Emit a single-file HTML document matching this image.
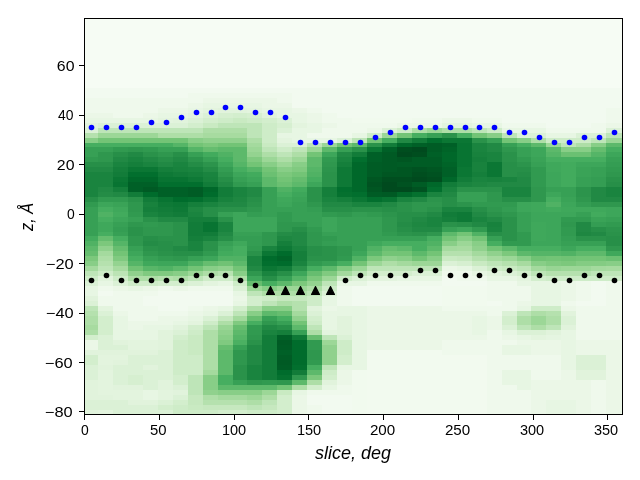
<!DOCTYPE html>
<html><head><meta charset="utf-8"><style>
html,body{margin:0;padding:0;background:#fff;width:640px;height:480px;overflow:hidden}
svg{display:block}
text{font-family:"Liberation Sans",sans-serif;font-size:13.9px;fill:#000}
.ov{position:absolute;left:0;top:0;will-change:transform}
.lab{font-size:18.5px;font-style:italic}
</style></head><body>
<svg width="640" height="480" viewBox="0 0 640 480">
<g shape-rendering="crispEdges"><rect x="84" y="18.5" width="14" height="5.5" fill="#f6fcf4"/>
<rect x="98" y="18.5" width="15" height="5.5" fill="#f6fcf4"/>
<rect x="113" y="18.5" width="15" height="5.5" fill="#f6fcf4"/>
<rect x="128" y="18.5" width="15" height="5.5" fill="#f6fcf4"/>
<rect x="143" y="18.5" width="15" height="5.5" fill="#f6fcf4"/>
<rect x="158" y="18.5" width="15" height="5.5" fill="#f6fcf4"/>
<rect x="173" y="18.5" width="15" height="5.5" fill="#f6fcf4"/>
<rect x="188" y="18.5" width="15" height="5.5" fill="#f6fcf4"/>
<rect x="203" y="18.5" width="15" height="5.5" fill="#f6fcf4"/>
<rect x="218" y="18.5" width="15" height="5.5" fill="#f6fcf4"/>
<rect x="233" y="18.5" width="14" height="5.5" fill="#f6fcf4"/>
<rect x="247" y="18.5" width="15" height="5.5" fill="#f6fcf4"/>
<rect x="262" y="18.5" width="15" height="5.5" fill="#f6fcf4"/>
<rect x="277" y="18.5" width="15" height="5.5" fill="#f6fcf4"/>
<rect x="292" y="18.5" width="15" height="5.5" fill="#f6fcf4"/>
<rect x="307" y="18.5" width="15" height="5.5" fill="#f6fcf4"/>
<rect x="322" y="18.5" width="15" height="5.5" fill="#f6fcf4"/>
<rect x="337" y="18.5" width="15" height="5.5" fill="#f6fcf4"/>
<rect x="352" y="18.5" width="15" height="5.5" fill="#f6fcf4"/>
<rect x="367" y="18.5" width="15" height="5.5" fill="#f6fcf4"/>
<rect x="382" y="18.5" width="15" height="5.5" fill="#f6fcf4"/>
<rect x="397" y="18.5" width="15" height="5.5" fill="#f6fcf4"/>
<rect x="412" y="18.5" width="15" height="5.5" fill="#f6fcf4"/>
<rect x="427" y="18.5" width="15" height="5.5" fill="#f6fcf4"/>
<rect x="442" y="18.5" width="15" height="5.5" fill="#f6fcf4"/>
<rect x="457" y="18.5" width="15" height="5.5" fill="#f6fcf4"/>
<rect x="472" y="18.5" width="15" height="5.5" fill="#f6fcf4"/>
<rect x="487" y="18.5" width="15" height="5.5" fill="#f6fcf4"/>
<rect x="502" y="18.5" width="15" height="5.5" fill="#f6fcf4"/>
<rect x="517" y="18.5" width="14" height="5.5" fill="#f6fcf4"/>
<rect x="531" y="18.5" width="15" height="5.5" fill="#f6fcf4"/>
<rect x="546" y="18.5" width="15" height="5.5" fill="#f6fcf4"/>
<rect x="561" y="18.5" width="15" height="5.5" fill="#f6fcf4"/>
<rect x="576" y="18.5" width="15" height="5.5" fill="#f6fcf4"/>
<rect x="591" y="18.5" width="15" height="5.5" fill="#f6fcf4"/>
<rect x="606" y="18.5" width="16" height="5.5" fill="#f6fcf4"/>
<rect x="84" y="24" width="14" height="5" fill="#f6fcf4"/>
<rect x="98" y="24" width="15" height="5" fill="#f6fcf4"/>
<rect x="113" y="24" width="15" height="5" fill="#f6fcf4"/>
<rect x="128" y="24" width="15" height="5" fill="#f6fcf4"/>
<rect x="143" y="24" width="15" height="5" fill="#f6fcf4"/>
<rect x="158" y="24" width="15" height="5" fill="#f6fcf4"/>
<rect x="173" y="24" width="15" height="5" fill="#f6fcf4"/>
<rect x="188" y="24" width="15" height="5" fill="#f6fcf4"/>
<rect x="203" y="24" width="15" height="5" fill="#f6fcf4"/>
<rect x="218" y="24" width="15" height="5" fill="#f6fcf4"/>
<rect x="233" y="24" width="14" height="5" fill="#f6fcf4"/>
<rect x="247" y="24" width="15" height="5" fill="#f6fcf4"/>
<rect x="262" y="24" width="15" height="5" fill="#f6fcf4"/>
<rect x="277" y="24" width="15" height="5" fill="#f6fcf4"/>
<rect x="292" y="24" width="15" height="5" fill="#f6fcf4"/>
<rect x="307" y="24" width="15" height="5" fill="#f6fcf4"/>
<rect x="322" y="24" width="15" height="5" fill="#f6fcf4"/>
<rect x="337" y="24" width="15" height="5" fill="#f6fcf4"/>
<rect x="352" y="24" width="15" height="5" fill="#f6fcf4"/>
<rect x="367" y="24" width="15" height="5" fill="#f6fcf4"/>
<rect x="382" y="24" width="15" height="5" fill="#f6fcf4"/>
<rect x="397" y="24" width="15" height="5" fill="#f6fcf4"/>
<rect x="412" y="24" width="15" height="5" fill="#f6fcf4"/>
<rect x="427" y="24" width="15" height="5" fill="#f6fcf4"/>
<rect x="442" y="24" width="15" height="5" fill="#f6fcf4"/>
<rect x="457" y="24" width="15" height="5" fill="#f6fcf4"/>
<rect x="472" y="24" width="15" height="5" fill="#f6fcf4"/>
<rect x="487" y="24" width="15" height="5" fill="#f6fcf4"/>
<rect x="502" y="24" width="15" height="5" fill="#f6fcf4"/>
<rect x="517" y="24" width="14" height="5" fill="#f6fcf4"/>
<rect x="531" y="24" width="15" height="5" fill="#f6fcf4"/>
<rect x="546" y="24" width="15" height="5" fill="#f6fcf4"/>
<rect x="561" y="24" width="15" height="5" fill="#f6fcf4"/>
<rect x="576" y="24" width="15" height="5" fill="#f6fcf4"/>
<rect x="591" y="24" width="15" height="5" fill="#f6fcf4"/>
<rect x="606" y="24" width="16" height="5" fill="#f6fcf4"/>
<rect x="84" y="29" width="14" height="5" fill="#f6fcf4"/>
<rect x="98" y="29" width="15" height="5" fill="#f6fcf4"/>
<rect x="113" y="29" width="15" height="5" fill="#f6fcf4"/>
<rect x="128" y="29" width="15" height="5" fill="#f6fcf4"/>
<rect x="143" y="29" width="15" height="5" fill="#f6fcf4"/>
<rect x="158" y="29" width="15" height="5" fill="#f6fcf4"/>
<rect x="173" y="29" width="15" height="5" fill="#f6fcf4"/>
<rect x="188" y="29" width="15" height="5" fill="#f6fcf4"/>
<rect x="203" y="29" width="15" height="5" fill="#f6fcf4"/>
<rect x="218" y="29" width="15" height="5" fill="#f6fcf4"/>
<rect x="233" y="29" width="14" height="5" fill="#f6fcf4"/>
<rect x="247" y="29" width="15" height="5" fill="#f6fcf4"/>
<rect x="262" y="29" width="15" height="5" fill="#f6fcf4"/>
<rect x="277" y="29" width="15" height="5" fill="#f6fcf4"/>
<rect x="292" y="29" width="15" height="5" fill="#f6fcf4"/>
<rect x="307" y="29" width="15" height="5" fill="#f6fcf4"/>
<rect x="322" y="29" width="15" height="5" fill="#f6fcf4"/>
<rect x="337" y="29" width="15" height="5" fill="#f6fcf4"/>
<rect x="352" y="29" width="15" height="5" fill="#f6fcf4"/>
<rect x="367" y="29" width="15" height="5" fill="#f6fcf4"/>
<rect x="382" y="29" width="15" height="5" fill="#f6fcf4"/>
<rect x="397" y="29" width="15" height="5" fill="#f6fcf4"/>
<rect x="412" y="29" width="15" height="5" fill="#f6fcf4"/>
<rect x="427" y="29" width="15" height="5" fill="#f6fcf4"/>
<rect x="442" y="29" width="15" height="5" fill="#f6fcf4"/>
<rect x="457" y="29" width="15" height="5" fill="#f6fcf4"/>
<rect x="472" y="29" width="15" height="5" fill="#f6fcf4"/>
<rect x="487" y="29" width="15" height="5" fill="#f6fcf4"/>
<rect x="502" y="29" width="15" height="5" fill="#f6fcf4"/>
<rect x="517" y="29" width="14" height="5" fill="#f6fcf4"/>
<rect x="531" y="29" width="15" height="5" fill="#f6fcf4"/>
<rect x="546" y="29" width="15" height="5" fill="#f6fcf4"/>
<rect x="561" y="29" width="15" height="5" fill="#f6fcf4"/>
<rect x="576" y="29" width="15" height="5" fill="#f6fcf4"/>
<rect x="591" y="29" width="15" height="5" fill="#f6fcf4"/>
<rect x="606" y="29" width="16" height="5" fill="#f6fcf4"/>
<rect x="84" y="34" width="14" height="5" fill="#f6fcf4"/>
<rect x="98" y="34" width="15" height="5" fill="#f6fcf4"/>
<rect x="113" y="34" width="15" height="5" fill="#f6fcf4"/>
<rect x="128" y="34" width="15" height="5" fill="#f6fcf4"/>
<rect x="143" y="34" width="15" height="5" fill="#f6fcf4"/>
<rect x="158" y="34" width="15" height="5" fill="#f6fcf4"/>
<rect x="173" y="34" width="15" height="5" fill="#f6fcf4"/>
<rect x="188" y="34" width="15" height="5" fill="#f6fcf4"/>
<rect x="203" y="34" width="15" height="5" fill="#f6fcf4"/>
<rect x="218" y="34" width="15" height="5" fill="#f6fcf4"/>
<rect x="233" y="34" width="14" height="5" fill="#f6fcf4"/>
<rect x="247" y="34" width="15" height="5" fill="#f6fcf4"/>
<rect x="262" y="34" width="15" height="5" fill="#f6fcf4"/>
<rect x="277" y="34" width="15" height="5" fill="#f6fcf4"/>
<rect x="292" y="34" width="15" height="5" fill="#f6fcf4"/>
<rect x="307" y="34" width="15" height="5" fill="#f6fcf4"/>
<rect x="322" y="34" width="15" height="5" fill="#f6fcf4"/>
<rect x="337" y="34" width="15" height="5" fill="#f6fcf4"/>
<rect x="352" y="34" width="15" height="5" fill="#f6fcf4"/>
<rect x="367" y="34" width="15" height="5" fill="#f6fcf4"/>
<rect x="382" y="34" width="15" height="5" fill="#f6fcf4"/>
<rect x="397" y="34" width="15" height="5" fill="#f6fcf4"/>
<rect x="412" y="34" width="15" height="5" fill="#f6fcf4"/>
<rect x="427" y="34" width="15" height="5" fill="#f6fcf4"/>
<rect x="442" y="34" width="15" height="5" fill="#f6fcf4"/>
<rect x="457" y="34" width="15" height="5" fill="#f6fcf4"/>
<rect x="472" y="34" width="15" height="5" fill="#f6fcf4"/>
<rect x="487" y="34" width="15" height="5" fill="#f6fcf4"/>
<rect x="502" y="34" width="15" height="5" fill="#f6fcf4"/>
<rect x="517" y="34" width="14" height="5" fill="#f6fcf4"/>
<rect x="531" y="34" width="15" height="5" fill="#f6fcf4"/>
<rect x="546" y="34" width="15" height="5" fill="#f6fcf4"/>
<rect x="561" y="34" width="15" height="5" fill="#f6fcf4"/>
<rect x="576" y="34" width="15" height="5" fill="#f6fcf4"/>
<rect x="591" y="34" width="15" height="5" fill="#f6fcf4"/>
<rect x="606" y="34" width="16" height="5" fill="#f6fcf4"/>
<rect x="84" y="39" width="14" height="5" fill="#f6fcf4"/>
<rect x="98" y="39" width="15" height="5" fill="#f6fcf4"/>
<rect x="113" y="39" width="15" height="5" fill="#f6fcf4"/>
<rect x="128" y="39" width="15" height="5" fill="#f6fcf4"/>
<rect x="143" y="39" width="15" height="5" fill="#f6fcf4"/>
<rect x="158" y="39" width="15" height="5" fill="#f6fcf4"/>
<rect x="173" y="39" width="15" height="5" fill="#f6fcf4"/>
<rect x="188" y="39" width="15" height="5" fill="#f6fcf4"/>
<rect x="203" y="39" width="15" height="5" fill="#f6fcf4"/>
<rect x="218" y="39" width="15" height="5" fill="#f6fcf4"/>
<rect x="233" y="39" width="14" height="5" fill="#f6fcf4"/>
<rect x="247" y="39" width="15" height="5" fill="#f6fcf4"/>
<rect x="262" y="39" width="15" height="5" fill="#f6fcf4"/>
<rect x="277" y="39" width="15" height="5" fill="#f6fcf4"/>
<rect x="292" y="39" width="15" height="5" fill="#f6fcf4"/>
<rect x="307" y="39" width="15" height="5" fill="#f6fcf4"/>
<rect x="322" y="39" width="15" height="5" fill="#f6fcf4"/>
<rect x="337" y="39" width="15" height="5" fill="#f6fcf4"/>
<rect x="352" y="39" width="15" height="5" fill="#f6fcf4"/>
<rect x="367" y="39" width="15" height="5" fill="#f6fcf4"/>
<rect x="382" y="39" width="15" height="5" fill="#f6fcf4"/>
<rect x="397" y="39" width="15" height="5" fill="#f6fcf4"/>
<rect x="412" y="39" width="15" height="5" fill="#f6fcf4"/>
<rect x="427" y="39" width="15" height="5" fill="#f6fcf4"/>
<rect x="442" y="39" width="15" height="5" fill="#f6fcf4"/>
<rect x="457" y="39" width="15" height="5" fill="#f6fcf4"/>
<rect x="472" y="39" width="15" height="5" fill="#f6fcf4"/>
<rect x="487" y="39" width="15" height="5" fill="#f6fcf4"/>
<rect x="502" y="39" width="15" height="5" fill="#f6fcf4"/>
<rect x="517" y="39" width="14" height="5" fill="#f6fcf4"/>
<rect x="531" y="39" width="15" height="5" fill="#f6fcf4"/>
<rect x="546" y="39" width="15" height="5" fill="#f6fcf4"/>
<rect x="561" y="39" width="15" height="5" fill="#f6fcf4"/>
<rect x="576" y="39" width="15" height="5" fill="#f6fcf4"/>
<rect x="591" y="39" width="15" height="5" fill="#f6fcf4"/>
<rect x="606" y="39" width="16" height="5" fill="#f6fcf4"/>
<rect x="84" y="44" width="14" height="5" fill="#f6fcf4"/>
<rect x="98" y="44" width="15" height="5" fill="#f6fcf4"/>
<rect x="113" y="44" width="15" height="5" fill="#f6fcf4"/>
<rect x="128" y="44" width="15" height="5" fill="#f6fcf4"/>
<rect x="143" y="44" width="15" height="5" fill="#f6fcf4"/>
<rect x="158" y="44" width="15" height="5" fill="#f6fcf4"/>
<rect x="173" y="44" width="15" height="5" fill="#f6fcf4"/>
<rect x="188" y="44" width="15" height="5" fill="#f6fcf4"/>
<rect x="203" y="44" width="15" height="5" fill="#f6fcf4"/>
<rect x="218" y="44" width="15" height="5" fill="#f6fcf4"/>
<rect x="233" y="44" width="14" height="5" fill="#f6fcf4"/>
<rect x="247" y="44" width="15" height="5" fill="#f6fcf4"/>
<rect x="262" y="44" width="15" height="5" fill="#f6fcf4"/>
<rect x="277" y="44" width="15" height="5" fill="#f6fcf4"/>
<rect x="292" y="44" width="15" height="5" fill="#f6fcf4"/>
<rect x="307" y="44" width="15" height="5" fill="#f6fcf4"/>
<rect x="322" y="44" width="15" height="5" fill="#f6fcf4"/>
<rect x="337" y="44" width="15" height="5" fill="#f6fcf4"/>
<rect x="352" y="44" width="15" height="5" fill="#f6fcf4"/>
<rect x="367" y="44" width="15" height="5" fill="#f6fcf4"/>
<rect x="382" y="44" width="15" height="5" fill="#f6fcf4"/>
<rect x="397" y="44" width="15" height="5" fill="#f6fcf4"/>
<rect x="412" y="44" width="15" height="5" fill="#f6fcf4"/>
<rect x="427" y="44" width="15" height="5" fill="#f6fcf4"/>
<rect x="442" y="44" width="15" height="5" fill="#f6fcf4"/>
<rect x="457" y="44" width="15" height="5" fill="#f6fcf4"/>
<rect x="472" y="44" width="15" height="5" fill="#f6fcf4"/>
<rect x="487" y="44" width="15" height="5" fill="#f6fcf4"/>
<rect x="502" y="44" width="15" height="5" fill="#f6fcf4"/>
<rect x="517" y="44" width="14" height="5" fill="#f6fcf4"/>
<rect x="531" y="44" width="15" height="5" fill="#f6fcf4"/>
<rect x="546" y="44" width="15" height="5" fill="#f6fcf4"/>
<rect x="561" y="44" width="15" height="5" fill="#f6fcf4"/>
<rect x="576" y="44" width="15" height="5" fill="#f6fcf4"/>
<rect x="591" y="44" width="15" height="5" fill="#f6fcf4"/>
<rect x="606" y="44" width="16" height="5" fill="#f6fcf4"/>
<rect x="84" y="49" width="14" height="5" fill="#f6fcf4"/>
<rect x="98" y="49" width="15" height="5" fill="#f6fcf4"/>
<rect x="113" y="49" width="15" height="5" fill="#f6fcf4"/>
<rect x="128" y="49" width="15" height="5" fill="#f6fcf4"/>
<rect x="143" y="49" width="15" height="5" fill="#f6fcf4"/>
<rect x="158" y="49" width="15" height="5" fill="#f6fcf4"/>
<rect x="173" y="49" width="15" height="5" fill="#f6fcf4"/>
<rect x="188" y="49" width="15" height="5" fill="#f6fcf4"/>
<rect x="203" y="49" width="15" height="5" fill="#f6fcf4"/>
<rect x="218" y="49" width="15" height="5" fill="#f6fcf4"/>
<rect x="233" y="49" width="14" height="5" fill="#f6fcf4"/>
<rect x="247" y="49" width="15" height="5" fill="#f6fcf4"/>
<rect x="262" y="49" width="15" height="5" fill="#f6fcf4"/>
<rect x="277" y="49" width="15" height="5" fill="#f6fcf4"/>
<rect x="292" y="49" width="15" height="5" fill="#f6fcf4"/>
<rect x="307" y="49" width="15" height="5" fill="#f6fcf4"/>
<rect x="322" y="49" width="15" height="5" fill="#f6fcf4"/>
<rect x="337" y="49" width="15" height="5" fill="#f6fcf4"/>
<rect x="352" y="49" width="15" height="5" fill="#f6fcf4"/>
<rect x="367" y="49" width="15" height="5" fill="#f6fcf4"/>
<rect x="382" y="49" width="15" height="5" fill="#f6fcf4"/>
<rect x="397" y="49" width="15" height="5" fill="#f6fcf4"/>
<rect x="412" y="49" width="15" height="5" fill="#f6fcf4"/>
<rect x="427" y="49" width="15" height="5" fill="#f6fcf4"/>
<rect x="442" y="49" width="15" height="5" fill="#f6fcf4"/>
<rect x="457" y="49" width="15" height="5" fill="#f6fcf4"/>
<rect x="472" y="49" width="15" height="5" fill="#f6fcf4"/>
<rect x="487" y="49" width="15" height="5" fill="#f6fcf4"/>
<rect x="502" y="49" width="15" height="5" fill="#f6fcf4"/>
<rect x="517" y="49" width="14" height="5" fill="#f6fcf4"/>
<rect x="531" y="49" width="15" height="5" fill="#f6fcf4"/>
<rect x="546" y="49" width="15" height="5" fill="#f6fcf4"/>
<rect x="561" y="49" width="15" height="5" fill="#f6fcf4"/>
<rect x="576" y="49" width="15" height="5" fill="#f6fcf4"/>
<rect x="591" y="49" width="15" height="5" fill="#f6fcf4"/>
<rect x="606" y="49" width="16" height="5" fill="#f6fcf4"/>
<rect x="84" y="54" width="14" height="4" fill="#f6fcf4"/>
<rect x="98" y="54" width="15" height="4" fill="#f6fcf4"/>
<rect x="113" y="54" width="15" height="4" fill="#f6fcf4"/>
<rect x="128" y="54" width="15" height="4" fill="#f6fcf4"/>
<rect x="143" y="54" width="15" height="4" fill="#f6fcf4"/>
<rect x="158" y="54" width="15" height="4" fill="#f6fcf4"/>
<rect x="173" y="54" width="15" height="4" fill="#f6fcf4"/>
<rect x="188" y="54" width="15" height="4" fill="#f6fcf4"/>
<rect x="203" y="54" width="15" height="4" fill="#f6fcf4"/>
<rect x="218" y="54" width="15" height="4" fill="#f6fcf4"/>
<rect x="233" y="54" width="14" height="4" fill="#f6fcf4"/>
<rect x="247" y="54" width="15" height="4" fill="#f6fcf4"/>
<rect x="262" y="54" width="15" height="4" fill="#f6fcf4"/>
<rect x="277" y="54" width="15" height="4" fill="#f6fcf4"/>
<rect x="292" y="54" width="15" height="4" fill="#f6fcf4"/>
<rect x="307" y="54" width="15" height="4" fill="#f6fcf4"/>
<rect x="322" y="54" width="15" height="4" fill="#f6fcf4"/>
<rect x="337" y="54" width="15" height="4" fill="#f6fcf4"/>
<rect x="352" y="54" width="15" height="4" fill="#f6fcf4"/>
<rect x="367" y="54" width="15" height="4" fill="#f6fcf4"/>
<rect x="382" y="54" width="15" height="4" fill="#f6fcf4"/>
<rect x="397" y="54" width="15" height="4" fill="#f6fcf4"/>
<rect x="412" y="54" width="15" height="4" fill="#f6fcf4"/>
<rect x="427" y="54" width="15" height="4" fill="#f6fcf4"/>
<rect x="442" y="54" width="15" height="4" fill="#f6fcf4"/>
<rect x="457" y="54" width="15" height="4" fill="#f6fcf4"/>
<rect x="472" y="54" width="15" height="4" fill="#f6fcf4"/>
<rect x="487" y="54" width="15" height="4" fill="#f6fcf4"/>
<rect x="502" y="54" width="15" height="4" fill="#f6fcf4"/>
<rect x="517" y="54" width="14" height="4" fill="#f6fcf4"/>
<rect x="531" y="54" width="15" height="4" fill="#f6fcf4"/>
<rect x="546" y="54" width="15" height="4" fill="#f6fcf4"/>
<rect x="561" y="54" width="15" height="4" fill="#f6fcf4"/>
<rect x="576" y="54" width="15" height="4" fill="#f6fcf4"/>
<rect x="591" y="54" width="15" height="4" fill="#f6fcf4"/>
<rect x="606" y="54" width="16" height="4" fill="#f6fcf4"/>
<rect x="84" y="58" width="14" height="5" fill="#f6fcf4"/>
<rect x="98" y="58" width="15" height="5" fill="#f6fcf4"/>
<rect x="113" y="58" width="15" height="5" fill="#f6fcf4"/>
<rect x="128" y="58" width="15" height="5" fill="#f6fcf4"/>
<rect x="143" y="58" width="15" height="5" fill="#f6fcf4"/>
<rect x="158" y="58" width="15" height="5" fill="#f6fcf4"/>
<rect x="173" y="58" width="15" height="5" fill="#f6fcf4"/>
<rect x="188" y="58" width="15" height="5" fill="#f6fcf4"/>
<rect x="203" y="58" width="15" height="5" fill="#f6fcf4"/>
<rect x="218" y="58" width="15" height="5" fill="#f6fcf4"/>
<rect x="233" y="58" width="14" height="5" fill="#f6fcf4"/>
<rect x="247" y="58" width="15" height="5" fill="#f6fcf4"/>
<rect x="262" y="58" width="15" height="5" fill="#f6fcf4"/>
<rect x="277" y="58" width="15" height="5" fill="#f6fcf4"/>
<rect x="292" y="58" width="15" height="5" fill="#f6fcf4"/>
<rect x="307" y="58" width="15" height="5" fill="#f6fcf4"/>
<rect x="322" y="58" width="15" height="5" fill="#f6fcf4"/>
<rect x="337" y="58" width="15" height="5" fill="#f6fcf4"/>
<rect x="352" y="58" width="15" height="5" fill="#f6fcf4"/>
<rect x="367" y="58" width="15" height="5" fill="#f6fcf4"/>
<rect x="382" y="58" width="15" height="5" fill="#f6fcf4"/>
<rect x="397" y="58" width="15" height="5" fill="#f6fcf4"/>
<rect x="412" y="58" width="15" height="5" fill="#f6fcf4"/>
<rect x="427" y="58" width="15" height="5" fill="#f6fcf4"/>
<rect x="442" y="58" width="15" height="5" fill="#f6fcf4"/>
<rect x="457" y="58" width="15" height="5" fill="#f6fcf4"/>
<rect x="472" y="58" width="15" height="5" fill="#f6fcf4"/>
<rect x="487" y="58" width="15" height="5" fill="#f6fcf4"/>
<rect x="502" y="58" width="15" height="5" fill="#f6fcf4"/>
<rect x="517" y="58" width="14" height="5" fill="#f6fcf4"/>
<rect x="531" y="58" width="15" height="5" fill="#f6fcf4"/>
<rect x="546" y="58" width="15" height="5" fill="#f6fcf4"/>
<rect x="561" y="58" width="15" height="5" fill="#f6fcf4"/>
<rect x="576" y="58" width="15" height="5" fill="#f6fcf4"/>
<rect x="591" y="58" width="15" height="5" fill="#f6fcf4"/>
<rect x="606" y="58" width="16" height="5" fill="#f6fcf4"/>
<rect x="84" y="63" width="14" height="5" fill="#f6fcf4"/>
<rect x="98" y="63" width="15" height="5" fill="#f6fcf4"/>
<rect x="113" y="63" width="15" height="5" fill="#f6fcf4"/>
<rect x="128" y="63" width="15" height="5" fill="#f6fcf4"/>
<rect x="143" y="63" width="15" height="5" fill="#f6fcf4"/>
<rect x="158" y="63" width="15" height="5" fill="#f6fcf4"/>
<rect x="173" y="63" width="15" height="5" fill="#f6fcf4"/>
<rect x="188" y="63" width="15" height="5" fill="#f6fcf4"/>
<rect x="203" y="63" width="15" height="5" fill="#f6fcf4"/>
<rect x="218" y="63" width="15" height="5" fill="#f6fcf4"/>
<rect x="233" y="63" width="14" height="5" fill="#f6fcf4"/>
<rect x="247" y="63" width="15" height="5" fill="#f6fcf4"/>
<rect x="262" y="63" width="15" height="5" fill="#f6fcf4"/>
<rect x="277" y="63" width="15" height="5" fill="#f6fcf4"/>
<rect x="292" y="63" width="15" height="5" fill="#f6fcf4"/>
<rect x="307" y="63" width="15" height="5" fill="#f6fcf4"/>
<rect x="322" y="63" width="15" height="5" fill="#f6fcf4"/>
<rect x="337" y="63" width="15" height="5" fill="#f6fcf4"/>
<rect x="352" y="63" width="15" height="5" fill="#f6fcf4"/>
<rect x="367" y="63" width="15" height="5" fill="#f6fcf4"/>
<rect x="382" y="63" width="15" height="5" fill="#f6fcf4"/>
<rect x="397" y="63" width="15" height="5" fill="#f6fcf4"/>
<rect x="412" y="63" width="15" height="5" fill="#f6fcf4"/>
<rect x="427" y="63" width="15" height="5" fill="#f6fcf4"/>
<rect x="442" y="63" width="15" height="5" fill="#f6fcf4"/>
<rect x="457" y="63" width="15" height="5" fill="#f6fcf4"/>
<rect x="472" y="63" width="15" height="5" fill="#f6fcf4"/>
<rect x="487" y="63" width="15" height="5" fill="#f6fcf4"/>
<rect x="502" y="63" width="15" height="5" fill="#f6fcf4"/>
<rect x="517" y="63" width="14" height="5" fill="#f6fcf4"/>
<rect x="531" y="63" width="15" height="5" fill="#f6fcf4"/>
<rect x="546" y="63" width="15" height="5" fill="#f6fcf4"/>
<rect x="561" y="63" width="15" height="5" fill="#f6fcf4"/>
<rect x="576" y="63" width="15" height="5" fill="#f6fcf4"/>
<rect x="591" y="63" width="15" height="5" fill="#f6fcf4"/>
<rect x="606" y="63" width="16" height="5" fill="#f6fcf4"/>
<rect x="84" y="68" width="14" height="5" fill="#f6fcf4"/>
<rect x="98" y="68" width="15" height="5" fill="#f6fcf4"/>
<rect x="113" y="68" width="15" height="5" fill="#f6fcf4"/>
<rect x="128" y="68" width="15" height="5" fill="#f6fcf4"/>
<rect x="143" y="68" width="15" height="5" fill="#f6fcf4"/>
<rect x="158" y="68" width="15" height="5" fill="#f6fcf4"/>
<rect x="173" y="68" width="15" height="5" fill="#f6fcf4"/>
<rect x="188" y="68" width="15" height="5" fill="#f6fcf4"/>
<rect x="203" y="68" width="15" height="5" fill="#f6fcf4"/>
<rect x="218" y="68" width="15" height="5" fill="#f6fcf4"/>
<rect x="233" y="68" width="14" height="5" fill="#f6fcf4"/>
<rect x="247" y="68" width="15" height="5" fill="#f6fcf4"/>
<rect x="262" y="68" width="15" height="5" fill="#f6fcf4"/>
<rect x="277" y="68" width="15" height="5" fill="#f6fcf4"/>
<rect x="292" y="68" width="15" height="5" fill="#f6fcf4"/>
<rect x="307" y="68" width="15" height="5" fill="#f6fcf4"/>
<rect x="322" y="68" width="15" height="5" fill="#f6fcf4"/>
<rect x="337" y="68" width="15" height="5" fill="#f6fcf4"/>
<rect x="352" y="68" width="15" height="5" fill="#f6fcf4"/>
<rect x="367" y="68" width="15" height="5" fill="#f6fcf4"/>
<rect x="382" y="68" width="15" height="5" fill="#f6fcf4"/>
<rect x="397" y="68" width="15" height="5" fill="#f6fcf4"/>
<rect x="412" y="68" width="15" height="5" fill="#f6fcf4"/>
<rect x="427" y="68" width="15" height="5" fill="#f6fcf4"/>
<rect x="442" y="68" width="15" height="5" fill="#f6fcf4"/>
<rect x="457" y="68" width="15" height="5" fill="#f6fcf4"/>
<rect x="472" y="68" width="15" height="5" fill="#f6fcf4"/>
<rect x="487" y="68" width="15" height="5" fill="#f6fcf4"/>
<rect x="502" y="68" width="15" height="5" fill="#f6fcf4"/>
<rect x="517" y="68" width="14" height="5" fill="#f6fcf4"/>
<rect x="531" y="68" width="15" height="5" fill="#f6fcf4"/>
<rect x="546" y="68" width="15" height="5" fill="#f6fcf4"/>
<rect x="561" y="68" width="15" height="5" fill="#f6fcf4"/>
<rect x="576" y="68" width="15" height="5" fill="#f6fcf4"/>
<rect x="591" y="68" width="15" height="5" fill="#f6fcf4"/>
<rect x="606" y="68" width="16" height="5" fill="#f6fcf4"/>
<rect x="84" y="73" width="14" height="5" fill="#f6fcf4"/>
<rect x="98" y="73" width="15" height="5" fill="#f6fcf4"/>
<rect x="113" y="73" width="15" height="5" fill="#f6fcf4"/>
<rect x="128" y="73" width="15" height="5" fill="#f6fcf4"/>
<rect x="143" y="73" width="15" height="5" fill="#f6fcf4"/>
<rect x="158" y="73" width="15" height="5" fill="#f6fcf4"/>
<rect x="173" y="73" width="15" height="5" fill="#f6fcf4"/>
<rect x="188" y="73" width="15" height="5" fill="#f6fcf4"/>
<rect x="203" y="73" width="15" height="5" fill="#f6fcf4"/>
<rect x="218" y="73" width="15" height="5" fill="#f6fcf4"/>
<rect x="233" y="73" width="14" height="5" fill="#f6fcf4"/>
<rect x="247" y="73" width="15" height="5" fill="#f6fcf4"/>
<rect x="262" y="73" width="15" height="5" fill="#f6fcf4"/>
<rect x="277" y="73" width="15" height="5" fill="#f6fcf4"/>
<rect x="292" y="73" width="15" height="5" fill="#f6fcf4"/>
<rect x="307" y="73" width="15" height="5" fill="#f6fcf4"/>
<rect x="322" y="73" width="15" height="5" fill="#f6fcf4"/>
<rect x="337" y="73" width="15" height="5" fill="#f6fcf4"/>
<rect x="352" y="73" width="15" height="5" fill="#f6fcf4"/>
<rect x="367" y="73" width="15" height="5" fill="#f6fcf4"/>
<rect x="382" y="73" width="15" height="5" fill="#f6fcf4"/>
<rect x="397" y="73" width="15" height="5" fill="#f6fcf4"/>
<rect x="412" y="73" width="15" height="5" fill="#f6fcf4"/>
<rect x="427" y="73" width="15" height="5" fill="#f6fcf4"/>
<rect x="442" y="73" width="15" height="5" fill="#f6fcf4"/>
<rect x="457" y="73" width="15" height="5" fill="#f6fcf4"/>
<rect x="472" y="73" width="15" height="5" fill="#f6fcf4"/>
<rect x="487" y="73" width="15" height="5" fill="#f6fcf4"/>
<rect x="502" y="73" width="15" height="5" fill="#f6fcf4"/>
<rect x="517" y="73" width="14" height="5" fill="#f6fcf4"/>
<rect x="531" y="73" width="15" height="5" fill="#f6fcf4"/>
<rect x="546" y="73" width="15" height="5" fill="#f6fcf4"/>
<rect x="561" y="73" width="15" height="5" fill="#f6fcf4"/>
<rect x="576" y="73" width="15" height="5" fill="#f6fcf4"/>
<rect x="591" y="73" width="15" height="5" fill="#f6fcf4"/>
<rect x="606" y="73" width="16" height="5" fill="#f6fcf4"/>
<rect x="84" y="78" width="14" height="5" fill="#f6fcf4"/>
<rect x="98" y="78" width="15" height="5" fill="#f6fcf4"/>
<rect x="113" y="78" width="15" height="5" fill="#f6fcf4"/>
<rect x="128" y="78" width="15" height="5" fill="#f6fcf4"/>
<rect x="143" y="78" width="15" height="5" fill="#f6fcf4"/>
<rect x="158" y="78" width="15" height="5" fill="#f6fcf4"/>
<rect x="173" y="78" width="15" height="5" fill="#f6fcf4"/>
<rect x="188" y="78" width="15" height="5" fill="#f6fcf4"/>
<rect x="203" y="78" width="15" height="5" fill="#f6fcf4"/>
<rect x="218" y="78" width="15" height="5" fill="#f6fcf4"/>
<rect x="233" y="78" width="14" height="5" fill="#f6fcf4"/>
<rect x="247" y="78" width="15" height="5" fill="#f6fcf4"/>
<rect x="262" y="78" width="15" height="5" fill="#f6fcf4"/>
<rect x="277" y="78" width="15" height="5" fill="#f6fcf4"/>
<rect x="292" y="78" width="15" height="5" fill="#f6fcf4"/>
<rect x="307" y="78" width="15" height="5" fill="#f6fcf4"/>
<rect x="322" y="78" width="15" height="5" fill="#f6fcf4"/>
<rect x="337" y="78" width="15" height="5" fill="#f6fcf4"/>
<rect x="352" y="78" width="15" height="5" fill="#f6fcf4"/>
<rect x="367" y="78" width="15" height="5" fill="#f6fcf4"/>
<rect x="382" y="78" width="15" height="5" fill="#f6fcf4"/>
<rect x="397" y="78" width="15" height="5" fill="#f6fcf4"/>
<rect x="412" y="78" width="15" height="5" fill="#f6fcf4"/>
<rect x="427" y="78" width="15" height="5" fill="#f6fcf4"/>
<rect x="442" y="78" width="15" height="5" fill="#f6fcf4"/>
<rect x="457" y="78" width="15" height="5" fill="#f6fcf4"/>
<rect x="472" y="78" width="15" height="5" fill="#f6fcf4"/>
<rect x="487" y="78" width="15" height="5" fill="#f6fcf4"/>
<rect x="502" y="78" width="15" height="5" fill="#f6fcf4"/>
<rect x="517" y="78" width="14" height="5" fill="#f6fcf4"/>
<rect x="531" y="78" width="15" height="5" fill="#f6fcf4"/>
<rect x="546" y="78" width="15" height="5" fill="#f6fcf4"/>
<rect x="561" y="78" width="15" height="5" fill="#f6fcf4"/>
<rect x="576" y="78" width="15" height="5" fill="#f6fcf4"/>
<rect x="591" y="78" width="15" height="5" fill="#f6fcf4"/>
<rect x="606" y="78" width="16" height="5" fill="#f6fcf4"/>
<rect x="84" y="83" width="14" height="5" fill="#f6fcf4"/>
<rect x="98" y="83" width="15" height="5" fill="#f6fcf4"/>
<rect x="113" y="83" width="15" height="5" fill="#f6fcf4"/>
<rect x="128" y="83" width="15" height="5" fill="#f6fcf4"/>
<rect x="143" y="83" width="15" height="5" fill="#f6fcf4"/>
<rect x="158" y="83" width="15" height="5" fill="#f6fcf4"/>
<rect x="173" y="83" width="15" height="5" fill="#f6fcf4"/>
<rect x="188" y="83" width="15" height="5" fill="#f6fcf4"/>
<rect x="203" y="83" width="15" height="5" fill="#f6fcf4"/>
<rect x="218" y="83" width="15" height="5" fill="#f6fcf4"/>
<rect x="233" y="83" width="14" height="5" fill="#f6fcf4"/>
<rect x="247" y="83" width="15" height="5" fill="#f6fcf4"/>
<rect x="262" y="83" width="15" height="5" fill="#f6fcf4"/>
<rect x="277" y="83" width="15" height="5" fill="#f6fcf4"/>
<rect x="292" y="83" width="15" height="5" fill="#f6fcf4"/>
<rect x="307" y="83" width="15" height="5" fill="#f6fcf4"/>
<rect x="322" y="83" width="15" height="5" fill="#f6fcf4"/>
<rect x="337" y="83" width="15" height="5" fill="#f6fcf4"/>
<rect x="352" y="83" width="15" height="5" fill="#f6fcf4"/>
<rect x="367" y="83" width="15" height="5" fill="#f6fcf4"/>
<rect x="382" y="83" width="15" height="5" fill="#f6fcf4"/>
<rect x="397" y="83" width="15" height="5" fill="#f6fcf4"/>
<rect x="412" y="83" width="15" height="5" fill="#f6fcf4"/>
<rect x="427" y="83" width="15" height="5" fill="#f6fcf4"/>
<rect x="442" y="83" width="15" height="5" fill="#f6fcf4"/>
<rect x="457" y="83" width="15" height="5" fill="#f6fcf4"/>
<rect x="472" y="83" width="15" height="5" fill="#f6fcf4"/>
<rect x="487" y="83" width="15" height="5" fill="#f6fcf4"/>
<rect x="502" y="83" width="15" height="5" fill="#f6fcf4"/>
<rect x="517" y="83" width="14" height="5" fill="#f6fcf4"/>
<rect x="531" y="83" width="15" height="5" fill="#f6fcf4"/>
<rect x="546" y="83" width="15" height="5" fill="#f6fcf4"/>
<rect x="561" y="83" width="15" height="5" fill="#f6fcf4"/>
<rect x="576" y="83" width="15" height="5" fill="#f6fcf4"/>
<rect x="591" y="83" width="15" height="5" fill="#f6fcf4"/>
<rect x="606" y="83" width="16" height="5" fill="#f6fcf4"/>
<rect x="84" y="88" width="14" height="5" fill="#f2faf0"/>
<rect x="98" y="88" width="15" height="5" fill="#f2faf0"/>
<rect x="113" y="88" width="15" height="5" fill="#f2faf0"/>
<rect x="128" y="88" width="15" height="5" fill="#f2faf0"/>
<rect x="143" y="88" width="15" height="5" fill="#f2faf0"/>
<rect x="158" y="88" width="15" height="5" fill="#f2faf0"/>
<rect x="173" y="88" width="15" height="5" fill="#f2faf0"/>
<rect x="188" y="88" width="15" height="5" fill="#f2faf0"/>
<rect x="203" y="88" width="15" height="5" fill="#f2faf0"/>
<rect x="218" y="88" width="15" height="5" fill="#f2faf0"/>
<rect x="233" y="88" width="14" height="5" fill="#f2faf0"/>
<rect x="247" y="88" width="15" height="5" fill="#f2faf0"/>
<rect x="262" y="88" width="15" height="5" fill="#f2faf0"/>
<rect x="277" y="88" width="15" height="5" fill="#f2faf0"/>
<rect x="292" y="88" width="15" height="5" fill="#f2faf0"/>
<rect x="307" y="88" width="15" height="5" fill="#f2faf0"/>
<rect x="322" y="88" width="15" height="5" fill="#f2faf0"/>
<rect x="337" y="88" width="15" height="5" fill="#f2faf0"/>
<rect x="352" y="88" width="15" height="5" fill="#f2faf0"/>
<rect x="367" y="88" width="15" height="5" fill="#f2faf0"/>
<rect x="382" y="88" width="15" height="5" fill="#f2faf0"/>
<rect x="397" y="88" width="15" height="5" fill="#f2faf0"/>
<rect x="412" y="88" width="15" height="5" fill="#f2faf0"/>
<rect x="427" y="88" width="15" height="5" fill="#f2faf0"/>
<rect x="442" y="88" width="15" height="5" fill="#f2faf0"/>
<rect x="457" y="88" width="15" height="5" fill="#f2faf0"/>
<rect x="472" y="88" width="15" height="5" fill="#f2faf0"/>
<rect x="487" y="88" width="15" height="5" fill="#f2faf0"/>
<rect x="502" y="88" width="15" height="5" fill="#f2faf0"/>
<rect x="517" y="88" width="14" height="5" fill="#f2faf0"/>
<rect x="531" y="88" width="15" height="5" fill="#f2faf0"/>
<rect x="546" y="88" width="15" height="5" fill="#f2faf0"/>
<rect x="561" y="88" width="15" height="5" fill="#f2faf0"/>
<rect x="576" y="88" width="15" height="5" fill="#f2faf0"/>
<rect x="591" y="88" width="15" height="5" fill="#f2faf0"/>
<rect x="606" y="88" width="16" height="5" fill="#f2faf0"/>
<rect x="84" y="93" width="14" height="5" fill="#f2faf0"/>
<rect x="98" y="93" width="15" height="5" fill="#f2faf0"/>
<rect x="113" y="93" width="15" height="5" fill="#f2faf0"/>
<rect x="128" y="93" width="15" height="5" fill="#f2faf0"/>
<rect x="143" y="93" width="15" height="5" fill="#f2faf0"/>
<rect x="158" y="93" width="15" height="5" fill="#f2faf0"/>
<rect x="173" y="93" width="15" height="5" fill="#f2faf0"/>
<rect x="188" y="93" width="15" height="5" fill="#eff9ec"/>
<rect x="203" y="93" width="15" height="5" fill="#eff9ec"/>
<rect x="218" y="93" width="15" height="5" fill="#eff9ec"/>
<rect x="233" y="93" width="14" height="5" fill="#eff9ec"/>
<rect x="247" y="93" width="15" height="5" fill="#eff9ec"/>
<rect x="262" y="93" width="15" height="5" fill="#eff9ec"/>
<rect x="277" y="93" width="15" height="5" fill="#eff9ec"/>
<rect x="292" y="93" width="15" height="5" fill="#f2faf0"/>
<rect x="307" y="93" width="15" height="5" fill="#f2faf0"/>
<rect x="322" y="93" width="15" height="5" fill="#f2faf0"/>
<rect x="337" y="93" width="15" height="5" fill="#f2faf0"/>
<rect x="352" y="93" width="15" height="5" fill="#f2faf0"/>
<rect x="367" y="93" width="15" height="5" fill="#f2faf0"/>
<rect x="382" y="93" width="15" height="5" fill="#f2faf0"/>
<rect x="397" y="93" width="15" height="5" fill="#f2faf0"/>
<rect x="412" y="93" width="15" height="5" fill="#f2faf0"/>
<rect x="427" y="93" width="15" height="5" fill="#f2faf0"/>
<rect x="442" y="93" width="15" height="5" fill="#f2faf0"/>
<rect x="457" y="93" width="15" height="5" fill="#f2faf0"/>
<rect x="472" y="93" width="15" height="5" fill="#f2faf0"/>
<rect x="487" y="93" width="15" height="5" fill="#f2faf0"/>
<rect x="502" y="93" width="15" height="5" fill="#f2faf0"/>
<rect x="517" y="93" width="14" height="5" fill="#f2faf0"/>
<rect x="531" y="93" width="15" height="5" fill="#f2faf0"/>
<rect x="546" y="93" width="15" height="5" fill="#f2faf0"/>
<rect x="561" y="93" width="15" height="5" fill="#f2faf0"/>
<rect x="576" y="93" width="15" height="5" fill="#f2faf0"/>
<rect x="591" y="93" width="15" height="5" fill="#f2faf0"/>
<rect x="606" y="93" width="16" height="5" fill="#f2faf0"/>
<rect x="84" y="98" width="14" height="5" fill="#eff9ec"/>
<rect x="98" y="98" width="15" height="5" fill="#eff9ec"/>
<rect x="113" y="98" width="15" height="5" fill="#eff9ec"/>
<rect x="128" y="98" width="15" height="5" fill="#eff9ec"/>
<rect x="143" y="98" width="15" height="5" fill="#eff9ec"/>
<rect x="158" y="98" width="15" height="5" fill="#eff9ec"/>
<rect x="173" y="98" width="15" height="5" fill="#eff9ec"/>
<rect x="188" y="98" width="15" height="5" fill="#eff9ec"/>
<rect x="203" y="98" width="15" height="5" fill="#ebf7e7"/>
<rect x="218" y="98" width="15" height="5" fill="#ebf7e7"/>
<rect x="233" y="98" width="14" height="5" fill="#ebf7e7"/>
<rect x="247" y="98" width="15" height="5" fill="#ebf7e7"/>
<rect x="262" y="98" width="15" height="5" fill="#ebf7e7"/>
<rect x="277" y="98" width="15" height="5" fill="#eff9ec"/>
<rect x="292" y="98" width="15" height="5" fill="#f2faf0"/>
<rect x="307" y="98" width="15" height="5" fill="#f2faf0"/>
<rect x="322" y="98" width="15" height="5" fill="#f2faf0"/>
<rect x="337" y="98" width="15" height="5" fill="#f2faf0"/>
<rect x="352" y="98" width="15" height="5" fill="#f2faf0"/>
<rect x="367" y="98" width="15" height="5" fill="#f2faf0"/>
<rect x="382" y="98" width="15" height="5" fill="#f2faf0"/>
<rect x="397" y="98" width="15" height="5" fill="#f2faf0"/>
<rect x="412" y="98" width="15" height="5" fill="#f2faf0"/>
<rect x="427" y="98" width="15" height="5" fill="#f2faf0"/>
<rect x="442" y="98" width="15" height="5" fill="#f2faf0"/>
<rect x="457" y="98" width="15" height="5" fill="#f2faf0"/>
<rect x="472" y="98" width="15" height="5" fill="#f2faf0"/>
<rect x="487" y="98" width="15" height="5" fill="#f2faf0"/>
<rect x="502" y="98" width="15" height="5" fill="#f2faf0"/>
<rect x="517" y="98" width="14" height="5" fill="#f2faf0"/>
<rect x="531" y="98" width="15" height="5" fill="#f2faf0"/>
<rect x="546" y="98" width="15" height="5" fill="#f2faf0"/>
<rect x="561" y="98" width="15" height="5" fill="#f2faf0"/>
<rect x="576" y="98" width="15" height="5" fill="#f2faf0"/>
<rect x="591" y="98" width="15" height="5" fill="#f2faf0"/>
<rect x="606" y="98" width="16" height="5" fill="#f2faf0"/>
<rect x="84" y="103" width="14" height="5" fill="#eff9ec"/>
<rect x="98" y="103" width="15" height="5" fill="#eff9ec"/>
<rect x="113" y="103" width="15" height="5" fill="#eff9ec"/>
<rect x="128" y="103" width="15" height="5" fill="#eff9ec"/>
<rect x="143" y="103" width="15" height="5" fill="#eff9ec"/>
<rect x="158" y="103" width="15" height="5" fill="#eff9ec"/>
<rect x="173" y="103" width="15" height="5" fill="#eff9ec"/>
<rect x="188" y="103" width="15" height="5" fill="#ebf7e7"/>
<rect x="203" y="103" width="15" height="5" fill="#e7f6e3"/>
<rect x="218" y="103" width="15" height="5" fill="#e7f6e3"/>
<rect x="233" y="103" width="14" height="5" fill="#e7f6e3"/>
<rect x="247" y="103" width="15" height="5" fill="#e7f6e3"/>
<rect x="262" y="103" width="15" height="5" fill="#ebf7e7"/>
<rect x="277" y="103" width="15" height="5" fill="#ebf7e7"/>
<rect x="292" y="103" width="15" height="5" fill="#f2faf0"/>
<rect x="307" y="103" width="15" height="5" fill="#f2faf0"/>
<rect x="322" y="103" width="15" height="5" fill="#f2faf0"/>
<rect x="337" y="103" width="15" height="5" fill="#f2faf0"/>
<rect x="352" y="103" width="15" height="5" fill="#f2faf0"/>
<rect x="367" y="103" width="15" height="5" fill="#f2faf0"/>
<rect x="382" y="103" width="15" height="5" fill="#f2faf0"/>
<rect x="397" y="103" width="15" height="5" fill="#f2faf0"/>
<rect x="412" y="103" width="15" height="5" fill="#f2faf0"/>
<rect x="427" y="103" width="15" height="5" fill="#f2faf0"/>
<rect x="442" y="103" width="15" height="5" fill="#f2faf0"/>
<rect x="457" y="103" width="15" height="5" fill="#f2faf0"/>
<rect x="472" y="103" width="15" height="5" fill="#f2faf0"/>
<rect x="487" y="103" width="15" height="5" fill="#f2faf0"/>
<rect x="502" y="103" width="15" height="5" fill="#f2faf0"/>
<rect x="517" y="103" width="14" height="5" fill="#f2faf0"/>
<rect x="531" y="103" width="15" height="5" fill="#f2faf0"/>
<rect x="546" y="103" width="15" height="5" fill="#f2faf0"/>
<rect x="561" y="103" width="15" height="5" fill="#f2faf0"/>
<rect x="576" y="103" width="15" height="5" fill="#f2faf0"/>
<rect x="591" y="103" width="15" height="5" fill="#f2faf0"/>
<rect x="606" y="103" width="16" height="5" fill="#f2faf0"/>
<rect x="84" y="108" width="14" height="5" fill="#eff9ec"/>
<rect x="98" y="108" width="15" height="5" fill="#eff9ec"/>
<rect x="113" y="108" width="15" height="5" fill="#eff9ec"/>
<rect x="128" y="108" width="15" height="5" fill="#eff9ec"/>
<rect x="143" y="108" width="15" height="5" fill="#eff9ec"/>
<rect x="158" y="108" width="15" height="5" fill="#ebf7e7"/>
<rect x="173" y="108" width="15" height="5" fill="#ebf7e7"/>
<rect x="188" y="108" width="15" height="5" fill="#e7f6e3"/>
<rect x="203" y="108" width="15" height="5" fill="#e3f4de"/>
<rect x="218" y="108" width="15" height="5" fill="#e1f3dc"/>
<rect x="233" y="108" width="14" height="5" fill="#e1f3dc"/>
<rect x="247" y="108" width="15" height="5" fill="#e3f4de"/>
<rect x="262" y="108" width="15" height="5" fill="#e7f6e3"/>
<rect x="277" y="108" width="15" height="5" fill="#e7f6e3"/>
<rect x="292" y="108" width="15" height="5" fill="#ebf7e7"/>
<rect x="307" y="108" width="15" height="5" fill="#eff9ec"/>
<rect x="322" y="108" width="15" height="5" fill="#f2faf0"/>
<rect x="337" y="108" width="15" height="5" fill="#f2faf0"/>
<rect x="352" y="108" width="15" height="5" fill="#f2faf0"/>
<rect x="367" y="108" width="15" height="5" fill="#f2faf0"/>
<rect x="382" y="108" width="15" height="5" fill="#f2faf0"/>
<rect x="397" y="108" width="15" height="5" fill="#f2faf0"/>
<rect x="412" y="108" width="15" height="5" fill="#f2faf0"/>
<rect x="427" y="108" width="15" height="5" fill="#f2faf0"/>
<rect x="442" y="108" width="15" height="5" fill="#f2faf0"/>
<rect x="457" y="108" width="15" height="5" fill="#f2faf0"/>
<rect x="472" y="108" width="15" height="5" fill="#f2faf0"/>
<rect x="487" y="108" width="15" height="5" fill="#f2faf0"/>
<rect x="502" y="108" width="15" height="5" fill="#f2faf0"/>
<rect x="517" y="108" width="14" height="5" fill="#f2faf0"/>
<rect x="531" y="108" width="15" height="5" fill="#f2faf0"/>
<rect x="546" y="108" width="15" height="5" fill="#f2faf0"/>
<rect x="561" y="108" width="15" height="5" fill="#f2faf0"/>
<rect x="576" y="108" width="15" height="5" fill="#f2faf0"/>
<rect x="591" y="108" width="15" height="5" fill="#f2faf0"/>
<rect x="606" y="108" width="16" height="5" fill="#eff9ec"/>
<rect x="84" y="113" width="14" height="5" fill="#ebf7e7"/>
<rect x="98" y="113" width="15" height="5" fill="#ebf7e7"/>
<rect x="113" y="113" width="15" height="5" fill="#eff9ec"/>
<rect x="128" y="113" width="15" height="5" fill="#eff9ec"/>
<rect x="143" y="113" width="15" height="5" fill="#ebf7e7"/>
<rect x="158" y="113" width="15" height="5" fill="#e7f6e3"/>
<rect x="173" y="113" width="15" height="5" fill="#e7f6e3"/>
<rect x="188" y="113" width="15" height="5" fill="#e3f4de"/>
<rect x="203" y="113" width="15" height="5" fill="#dbf1d6"/>
<rect x="218" y="113" width="15" height="5" fill="#d6efd0"/>
<rect x="233" y="113" width="14" height="5" fill="#d3eecd"/>
<rect x="247" y="113" width="15" height="5" fill="#d6efd0"/>
<rect x="262" y="113" width="15" height="5" fill="#e1f3dc"/>
<rect x="277" y="113" width="15" height="5" fill="#e7f6e3"/>
<rect x="292" y="113" width="15" height="5" fill="#e7f6e3"/>
<rect x="307" y="113" width="15" height="5" fill="#ebf7e7"/>
<rect x="322" y="113" width="15" height="5" fill="#eff9ec"/>
<rect x="337" y="113" width="15" height="5" fill="#f2faf0"/>
<rect x="352" y="113" width="15" height="5" fill="#f2faf0"/>
<rect x="367" y="113" width="15" height="5" fill="#f2faf0"/>
<rect x="382" y="113" width="15" height="5" fill="#f2faf0"/>
<rect x="397" y="113" width="15" height="5" fill="#f2faf0"/>
<rect x="412" y="113" width="15" height="5" fill="#f2faf0"/>
<rect x="427" y="113" width="15" height="5" fill="#f2faf0"/>
<rect x="442" y="113" width="15" height="5" fill="#f2faf0"/>
<rect x="457" y="113" width="15" height="5" fill="#f2faf0"/>
<rect x="472" y="113" width="15" height="5" fill="#f2faf0"/>
<rect x="487" y="113" width="15" height="5" fill="#f2faf0"/>
<rect x="502" y="113" width="15" height="5" fill="#f2faf0"/>
<rect x="517" y="113" width="14" height="5" fill="#f2faf0"/>
<rect x="531" y="113" width="15" height="5" fill="#f2faf0"/>
<rect x="546" y="113" width="15" height="5" fill="#f2faf0"/>
<rect x="561" y="113" width="15" height="5" fill="#f2faf0"/>
<rect x="576" y="113" width="15" height="5" fill="#f2faf0"/>
<rect x="591" y="113" width="15" height="5" fill="#f2faf0"/>
<rect x="606" y="113" width="16" height="5" fill="#eff9ec"/>
<rect x="84" y="118" width="14" height="5" fill="#e7f6e3"/>
<rect x="98" y="118" width="15" height="5" fill="#e7f6e3"/>
<rect x="113" y="118" width="15" height="5" fill="#e7f6e3"/>
<rect x="128" y="118" width="15" height="5" fill="#e7f6e3"/>
<rect x="143" y="118" width="15" height="5" fill="#e7f6e3"/>
<rect x="158" y="118" width="15" height="5" fill="#e3f4de"/>
<rect x="173" y="118" width="15" height="5" fill="#e1f3dc"/>
<rect x="188" y="118" width="15" height="5" fill="#dbf1d6"/>
<rect x="203" y="118" width="15" height="5" fill="#d3eecd"/>
<rect x="218" y="118" width="15" height="5" fill="#ceecc8"/>
<rect x="233" y="118" width="14" height="5" fill="#c9eac2"/>
<rect x="247" y="118" width="15" height="5" fill="#ceecc8"/>
<rect x="262" y="118" width="15" height="5" fill="#d3eecd"/>
<rect x="277" y="118" width="15" height="5" fill="#dbf1d6"/>
<rect x="292" y="118" width="15" height="5" fill="#e7f6e3"/>
<rect x="307" y="118" width="15" height="5" fill="#ebf7e7"/>
<rect x="322" y="118" width="15" height="5" fill="#eff9ec"/>
<rect x="337" y="118" width="15" height="5" fill="#eff9ec"/>
<rect x="352" y="118" width="15" height="5" fill="#f1faee"/>
<rect x="367" y="118" width="15" height="5" fill="#f1faee"/>
<rect x="382" y="118" width="15" height="5" fill="#f1faee"/>
<rect x="397" y="118" width="15" height="5" fill="#f1faee"/>
<rect x="412" y="118" width="15" height="5" fill="#eff9ec"/>
<rect x="427" y="118" width="15" height="5" fill="#eff9ec"/>
<rect x="442" y="118" width="15" height="5" fill="#ebf7e7"/>
<rect x="457" y="118" width="15" height="5" fill="#ebf7e7"/>
<rect x="472" y="118" width="15" height="5" fill="#eff9ec"/>
<rect x="487" y="118" width="15" height="5" fill="#eff9ec"/>
<rect x="502" y="118" width="15" height="5" fill="#f2faf0"/>
<rect x="517" y="118" width="14" height="5" fill="#f2faf0"/>
<rect x="531" y="118" width="15" height="5" fill="#f2faf0"/>
<rect x="546" y="118" width="15" height="5" fill="#f2faf0"/>
<rect x="561" y="118" width="15" height="5" fill="#f2faf0"/>
<rect x="576" y="118" width="15" height="5" fill="#f2faf0"/>
<rect x="591" y="118" width="15" height="5" fill="#f2faf0"/>
<rect x="606" y="118" width="16" height="5" fill="#eff9ec"/>
<rect x="84" y="123" width="14" height="5" fill="#e1f3dc"/>
<rect x="98" y="123" width="15" height="5" fill="#dbf1d6"/>
<rect x="113" y="123" width="15" height="5" fill="#dbf1d6"/>
<rect x="128" y="123" width="15" height="5" fill="#dbf1d6"/>
<rect x="143" y="123" width="15" height="5" fill="#dbf1d6"/>
<rect x="158" y="123" width="15" height="5" fill="#dbf1d6"/>
<rect x="173" y="123" width="15" height="5" fill="#dbf1d6"/>
<rect x="188" y="123" width="15" height="5" fill="#d3eecd"/>
<rect x="203" y="123" width="15" height="5" fill="#c9eac2"/>
<rect x="218" y="123" width="15" height="5" fill="#bee5b8"/>
<rect x="233" y="123" width="14" height="5" fill="#bee5b8"/>
<rect x="247" y="123" width="15" height="5" fill="#bee5b8"/>
<rect x="262" y="123" width="15" height="5" fill="#ceecc8"/>
<rect x="277" y="123" width="15" height="5" fill="#d6efd0"/>
<rect x="292" y="123" width="15" height="5" fill="#e3f4de"/>
<rect x="307" y="123" width="15" height="5" fill="#e7f6e3"/>
<rect x="322" y="123" width="15" height="5" fill="#ebf7e7"/>
<rect x="337" y="123" width="15" height="5" fill="#eff9ec"/>
<rect x="352" y="123" width="15" height="5" fill="#eff9ec"/>
<rect x="367" y="123" width="15" height="5" fill="#eff9ec"/>
<rect x="382" y="123" width="15" height="5" fill="#eff9ec"/>
<rect x="397" y="123" width="15" height="5" fill="#ebf7e7"/>
<rect x="412" y="123" width="15" height="5" fill="#ebf7e7"/>
<rect x="427" y="123" width="15" height="5" fill="#ebf7e7"/>
<rect x="442" y="123" width="15" height="5" fill="#e3f4de"/>
<rect x="457" y="123" width="15" height="5" fill="#e3f4de"/>
<rect x="472" y="123" width="15" height="5" fill="#e7f6e3"/>
<rect x="487" y="123" width="15" height="5" fill="#e7f6e3"/>
<rect x="502" y="123" width="15" height="5" fill="#eff9ec"/>
<rect x="517" y="123" width="14" height="5" fill="#eff9ec"/>
<rect x="531" y="123" width="15" height="5" fill="#eff9ec"/>
<rect x="546" y="123" width="15" height="5" fill="#f2faf0"/>
<rect x="561" y="123" width="15" height="5" fill="#f2faf0"/>
<rect x="576" y="123" width="15" height="5" fill="#f2faf0"/>
<rect x="591" y="123" width="15" height="5" fill="#eff9ec"/>
<rect x="606" y="123" width="16" height="5" fill="#ebf7e7"/>
<rect x="84" y="128" width="14" height="5" fill="#dbf1d6"/>
<rect x="98" y="128" width="15" height="5" fill="#bee5b8"/>
<rect x="113" y="128" width="15" height="5" fill="#bee5b8"/>
<rect x="128" y="128" width="15" height="5" fill="#bee5b8"/>
<rect x="143" y="128" width="15" height="5" fill="#bee5b8"/>
<rect x="158" y="128" width="15" height="5" fill="#bee5b8"/>
<rect x="173" y="128" width="15" height="5" fill="#bee5b8"/>
<rect x="188" y="128" width="15" height="5" fill="#bee5b8"/>
<rect x="203" y="128" width="15" height="5" fill="#aedea7"/>
<rect x="218" y="128" width="15" height="5" fill="#aedea7"/>
<rect x="233" y="128" width="14" height="5" fill="#aedea7"/>
<rect x="247" y="128" width="15" height="5" fill="#bee5b8"/>
<rect x="262" y="128" width="15" height="5" fill="#ceecc8"/>
<rect x="277" y="128" width="15" height="5" fill="#dbf1d6"/>
<rect x="292" y="128" width="15" height="5" fill="#e7f6e3"/>
<rect x="307" y="128" width="15" height="5" fill="#e7f6e3"/>
<rect x="322" y="128" width="15" height="5" fill="#eff9ec"/>
<rect x="337" y="128" width="15" height="5" fill="#eff9ec"/>
<rect x="352" y="128" width="15" height="5" fill="#eff9ec"/>
<rect x="367" y="128" width="15" height="5" fill="#ebf7e7"/>
<rect x="382" y="128" width="15" height="5" fill="#dbf1d6"/>
<rect x="397" y="128" width="15" height="5" fill="#ceecc8"/>
<rect x="412" y="128" width="15" height="5" fill="#aedea7"/>
<rect x="427" y="128" width="15" height="5" fill="#9cd797"/>
<rect x="442" y="128" width="15" height="5" fill="#aedea7"/>
<rect x="457" y="128" width="15" height="5" fill="#aedea7"/>
<rect x="472" y="128" width="15" height="5" fill="#bee5b8"/>
<rect x="487" y="128" width="15" height="5" fill="#ceecc8"/>
<rect x="502" y="128" width="15" height="5" fill="#e7f6e3"/>
<rect x="517" y="128" width="14" height="5" fill="#e7f6e3"/>
<rect x="531" y="128" width="15" height="5" fill="#e7f6e3"/>
<rect x="546" y="128" width="15" height="5" fill="#eff9ec"/>
<rect x="561" y="128" width="15" height="5" fill="#eff9ec"/>
<rect x="576" y="128" width="15" height="5" fill="#eff9ec"/>
<rect x="591" y="128" width="15" height="5" fill="#eff9ec"/>
<rect x="606" y="128" width="16" height="5" fill="#dbf1d6"/>
<rect x="84" y="133" width="14" height="5" fill="#b5e1ae"/>
<rect x="98" y="133" width="15" height="5" fill="#9cd797"/>
<rect x="113" y="133" width="15" height="5" fill="#9cd797"/>
<rect x="128" y="133" width="15" height="5" fill="#9cd797"/>
<rect x="143" y="133" width="15" height="5" fill="#9cd797"/>
<rect x="158" y="133" width="15" height="5" fill="#aedea7"/>
<rect x="173" y="133" width="15" height="5" fill="#aedea7"/>
<rect x="188" y="133" width="15" height="5" fill="#aedea7"/>
<rect x="203" y="133" width="15" height="5" fill="#a7dba0"/>
<rect x="218" y="133" width="15" height="5" fill="#a7dba0"/>
<rect x="233" y="133" width="14" height="5" fill="#a7dba0"/>
<rect x="247" y="133" width="15" height="5" fill="#bee5b8"/>
<rect x="262" y="133" width="15" height="5" fill="#ceecc8"/>
<rect x="277" y="133" width="15" height="5" fill="#e7f6e3"/>
<rect x="292" y="133" width="15" height="5" fill="#e7f6e3"/>
<rect x="307" y="133" width="15" height="5" fill="#eff9ec"/>
<rect x="322" y="133" width="15" height="5" fill="#eff9ec"/>
<rect x="337" y="133" width="15" height="5" fill="#eff9ec"/>
<rect x="352" y="133" width="15" height="5" fill="#e7f6e3"/>
<rect x="367" y="133" width="15" height="5" fill="#ceecc8"/>
<rect x="382" y="133" width="15" height="5" fill="#9cd797"/>
<rect x="397" y="133" width="15" height="5" fill="#73c476"/>
<rect x="412" y="133" width="15" height="5" fill="#46ae60"/>
<rect x="427" y="133" width="15" height="5" fill="#37a055"/>
<rect x="442" y="133" width="15" height="5" fill="#2a924a"/>
<rect x="457" y="133" width="15" height="5" fill="#46ae60"/>
<rect x="472" y="133" width="15" height="5" fill="#73c476"/>
<rect x="487" y="133" width="15" height="5" fill="#88ce87"/>
<rect x="502" y="133" width="15" height="5" fill="#bee5b8"/>
<rect x="517" y="133" width="14" height="5" fill="#dbf1d6"/>
<rect x="531" y="133" width="15" height="5" fill="#dbf1d6"/>
<rect x="546" y="133" width="15" height="5" fill="#e7f6e3"/>
<rect x="561" y="133" width="15" height="5" fill="#e7f6e3"/>
<rect x="576" y="133" width="15" height="5" fill="#dbf1d6"/>
<rect x="591" y="133" width="15" height="5" fill="#dbf1d6"/>
<rect x="606" y="133" width="16" height="5" fill="#bee5b8"/>
<rect x="84" y="138" width="14" height="5" fill="#88ce87"/>
<rect x="98" y="138" width="15" height="5" fill="#73c476"/>
<rect x="113" y="138" width="15" height="5" fill="#73c476"/>
<rect x="128" y="138" width="15" height="5" fill="#73c476"/>
<rect x="143" y="138" width="15" height="5" fill="#73c476"/>
<rect x="158" y="138" width="15" height="5" fill="#73c476"/>
<rect x="173" y="138" width="15" height="5" fill="#73c476"/>
<rect x="188" y="138" width="15" height="5" fill="#88ce87"/>
<rect x="203" y="138" width="15" height="5" fill="#90d18d"/>
<rect x="218" y="138" width="15" height="5" fill="#90d18d"/>
<rect x="233" y="138" width="14" height="5" fill="#90d18d"/>
<rect x="247" y="138" width="15" height="5" fill="#aedea7"/>
<rect x="262" y="138" width="15" height="5" fill="#ceecc8"/>
<rect x="277" y="138" width="15" height="5" fill="#e3f4de"/>
<rect x="292" y="138" width="15" height="5" fill="#e7f6e3"/>
<rect x="307" y="138" width="15" height="5" fill="#e7f6e3"/>
<rect x="322" y="138" width="15" height="5" fill="#e7f6e3"/>
<rect x="337" y="138" width="15" height="5" fill="#dbf1d6"/>
<rect x="352" y="138" width="15" height="5" fill="#bee5b8"/>
<rect x="367" y="138" width="15" height="5" fill="#73c476"/>
<rect x="382" y="138" width="15" height="5" fill="#46ae60"/>
<rect x="397" y="138" width="15" height="5" fill="#218944"/>
<rect x="412" y="138" width="15" height="5" fill="#127c39"/>
<rect x="427" y="138" width="15" height="5" fill="#026f2e"/>
<rect x="442" y="138" width="15" height="5" fill="#0b7734"/>
<rect x="457" y="138" width="15" height="5" fill="#0b7734"/>
<rect x="472" y="138" width="15" height="5" fill="#2a924a"/>
<rect x="487" y="138" width="15" height="5" fill="#37a055"/>
<rect x="502" y="138" width="15" height="5" fill="#73c476"/>
<rect x="517" y="138" width="14" height="5" fill="#88ce87"/>
<rect x="531" y="138" width="15" height="5" fill="#aedea7"/>
<rect x="546" y="138" width="15" height="5" fill="#ceecc8"/>
<rect x="561" y="138" width="15" height="5" fill="#ceecc8"/>
<rect x="576" y="138" width="15" height="5" fill="#ceecc8"/>
<rect x="591" y="138" width="15" height="5" fill="#bee5b8"/>
<rect x="606" y="138" width="16" height="5" fill="#9cd797"/>
<rect x="84" y="143" width="14" height="4" fill="#46ae60"/>
<rect x="98" y="143" width="15" height="4" fill="#46ae60"/>
<rect x="113" y="143" width="15" height="4" fill="#46ae60"/>
<rect x="128" y="143" width="15" height="4" fill="#46ae60"/>
<rect x="143" y="143" width="15" height="4" fill="#46ae60"/>
<rect x="158" y="143" width="15" height="4" fill="#46ae60"/>
<rect x="173" y="143" width="15" height="4" fill="#55b567"/>
<rect x="188" y="143" width="15" height="4" fill="#73c476"/>
<rect x="203" y="143" width="15" height="4" fill="#7cc87c"/>
<rect x="218" y="143" width="15" height="4" fill="#73c476"/>
<rect x="233" y="143" width="14" height="4" fill="#73c476"/>
<rect x="247" y="143" width="15" height="4" fill="#a4da9e"/>
<rect x="262" y="143" width="15" height="4" fill="#c9eac2"/>
<rect x="277" y="143" width="15" height="4" fill="#dbf1d6"/>
<rect x="292" y="143" width="15" height="4" fill="#dbf1d6"/>
<rect x="307" y="143" width="15" height="4" fill="#bee5b8"/>
<rect x="322" y="143" width="15" height="4" fill="#9cd797"/>
<rect x="337" y="143" width="15" height="4" fill="#73c476"/>
<rect x="352" y="143" width="15" height="4" fill="#5db96b"/>
<rect x="367" y="143" width="15" height="4" fill="#2a924a"/>
<rect x="382" y="143" width="15" height="4" fill="#127c39"/>
<rect x="397" y="143" width="15" height="4" fill="#00682a"/>
<rect x="412" y="143" width="15" height="4" fill="#006027"/>
<rect x="427" y="143" width="15" height="4" fill="#005c25"/>
<rect x="442" y="143" width="15" height="4" fill="#006027"/>
<rect x="457" y="143" width="15" height="4" fill="#087432"/>
<rect x="472" y="143" width="15" height="4" fill="#1a843f"/>
<rect x="487" y="143" width="15" height="4" fill="#218944"/>
<rect x="502" y="143" width="15" height="4" fill="#37a055"/>
<rect x="517" y="143" width="14" height="4" fill="#46ae60"/>
<rect x="531" y="143" width="15" height="4" fill="#5db96b"/>
<rect x="546" y="143" width="15" height="4" fill="#9cd797"/>
<rect x="561" y="143" width="15" height="4" fill="#bee5b8"/>
<rect x="576" y="143" width="15" height="4" fill="#aedea7"/>
<rect x="591" y="143" width="15" height="4" fill="#88ce87"/>
<rect x="606" y="143" width="16" height="4" fill="#5db96b"/>
<rect x="84" y="147" width="14" height="5" fill="#37a055"/>
<rect x="98" y="147" width="15" height="5" fill="#37a055"/>
<rect x="113" y="147" width="15" height="5" fill="#319a50"/>
<rect x="128" y="147" width="15" height="5" fill="#2f974e"/>
<rect x="143" y="147" width="15" height="5" fill="#319a50"/>
<rect x="158" y="147" width="15" height="5" fill="#37a055"/>
<rect x="173" y="147" width="15" height="5" fill="#37a055"/>
<rect x="188" y="147" width="15" height="5" fill="#55b567"/>
<rect x="203" y="147" width="15" height="5" fill="#66bd6f"/>
<rect x="218" y="147" width="15" height="5" fill="#5db96b"/>
<rect x="233" y="147" width="14" height="5" fill="#5db96b"/>
<rect x="247" y="147" width="15" height="5" fill="#9cd797"/>
<rect x="262" y="147" width="15" height="5" fill="#bee5b8"/>
<rect x="277" y="147" width="15" height="5" fill="#ceecc8"/>
<rect x="292" y="147" width="15" height="5" fill="#bee5b8"/>
<rect x="307" y="147" width="15" height="5" fill="#9cd797"/>
<rect x="322" y="147" width="15" height="5" fill="#5db96b"/>
<rect x="337" y="147" width="15" height="5" fill="#37a055"/>
<rect x="352" y="147" width="15" height="5" fill="#2a924a"/>
<rect x="367" y="147" width="15" height="5" fill="#0b7734"/>
<rect x="382" y="147" width="15" height="5" fill="#006027"/>
<rect x="397" y="147" width="15" height="5" fill="#004e1f"/>
<rect x="412" y="147" width="15" height="5" fill="#004a1e"/>
<rect x="427" y="147" width="15" height="5" fill="#005c25"/>
<rect x="442" y="147" width="15" height="5" fill="#006428"/>
<rect x="457" y="147" width="15" height="5" fill="#087432"/>
<rect x="472" y="147" width="15" height="5" fill="#1a843f"/>
<rect x="487" y="147" width="15" height="5" fill="#218944"/>
<rect x="502" y="147" width="15" height="5" fill="#2f974e"/>
<rect x="517" y="147" width="14" height="5" fill="#37a055"/>
<rect x="531" y="147" width="15" height="5" fill="#3da65a"/>
<rect x="546" y="147" width="15" height="5" fill="#5db96b"/>
<rect x="561" y="147" width="15" height="5" fill="#88ce87"/>
<rect x="576" y="147" width="15" height="5" fill="#88ce87"/>
<rect x="591" y="147" width="15" height="5" fill="#66bd6f"/>
<rect x="606" y="147" width="16" height="5" fill="#46ae60"/>
<rect x="84" y="152" width="14" height="5" fill="#37a055"/>
<rect x="98" y="152" width="15" height="5" fill="#2f974e"/>
<rect x="113" y="152" width="15" height="5" fill="#278f48"/>
<rect x="128" y="152" width="15" height="5" fill="#218944"/>
<rect x="143" y="152" width="15" height="5" fill="#2a924a"/>
<rect x="158" y="152" width="15" height="5" fill="#2f974e"/>
<rect x="173" y="152" width="15" height="5" fill="#278f48"/>
<rect x="188" y="152" width="15" height="5" fill="#37a055"/>
<rect x="203" y="152" width="15" height="5" fill="#42ab5d"/>
<rect x="218" y="152" width="15" height="5" fill="#50b264"/>
<rect x="233" y="152" width="14" height="5" fill="#5db96b"/>
<rect x="247" y="152" width="15" height="5" fill="#94d390"/>
<rect x="262" y="152" width="15" height="5" fill="#aedea7"/>
<rect x="277" y="152" width="15" height="5" fill="#bee5b8"/>
<rect x="292" y="152" width="15" height="5" fill="#aedea7"/>
<rect x="307" y="152" width="15" height="5" fill="#73c476"/>
<rect x="322" y="152" width="15" height="5" fill="#3da65a"/>
<rect x="337" y="152" width="15" height="5" fill="#218944"/>
<rect x="352" y="152" width="15" height="5" fill="#127c39"/>
<rect x="367" y="152" width="15" height="5" fill="#006027"/>
<rect x="382" y="152" width="15" height="5" fill="#005a24"/>
<rect x="397" y="152" width="15" height="5" fill="#004a1e"/>
<rect x="412" y="152" width="15" height="5" fill="#004e1f"/>
<rect x="427" y="152" width="15" height="5" fill="#006027"/>
<rect x="442" y="152" width="15" height="5" fill="#00682a"/>
<rect x="457" y="152" width="15" height="5" fill="#087432"/>
<rect x="472" y="152" width="15" height="5" fill="#18823d"/>
<rect x="487" y="152" width="15" height="5" fill="#1a843f"/>
<rect x="502" y="152" width="15" height="5" fill="#2a924a"/>
<rect x="517" y="152" width="14" height="5" fill="#37a055"/>
<rect x="531" y="152" width="15" height="5" fill="#3da65a"/>
<rect x="546" y="152" width="15" height="5" fill="#55b567"/>
<rect x="561" y="152" width="15" height="5" fill="#6bc072"/>
<rect x="576" y="152" width="15" height="5" fill="#6bc072"/>
<rect x="591" y="152" width="15" height="5" fill="#55b567"/>
<rect x="606" y="152" width="16" height="5" fill="#3da65a"/>
<rect x="84" y="157" width="14" height="5" fill="#319a50"/>
<rect x="98" y="157" width="15" height="5" fill="#2f974e"/>
<rect x="113" y="157" width="15" height="5" fill="#218944"/>
<rect x="128" y="157" width="15" height="5" fill="#1a843f"/>
<rect x="143" y="157" width="15" height="5" fill="#218944"/>
<rect x="158" y="157" width="15" height="5" fill="#278f48"/>
<rect x="173" y="157" width="15" height="5" fill="#218944"/>
<rect x="188" y="157" width="15" height="5" fill="#2c944c"/>
<rect x="203" y="157" width="15" height="5" fill="#37a055"/>
<rect x="218" y="157" width="15" height="5" fill="#46ae60"/>
<rect x="233" y="157" width="14" height="5" fill="#5db96b"/>
<rect x="247" y="157" width="15" height="5" fill="#80ca80"/>
<rect x="262" y="157" width="15" height="5" fill="#9cd797"/>
<rect x="277" y="157" width="15" height="5" fill="#aedea7"/>
<rect x="292" y="157" width="15" height="5" fill="#9cd797"/>
<rect x="307" y="157" width="15" height="5" fill="#5db96b"/>
<rect x="322" y="157" width="15" height="5" fill="#319a50"/>
<rect x="337" y="157" width="15" height="5" fill="#1a843f"/>
<rect x="352" y="157" width="15" height="5" fill="#026f2e"/>
<rect x="367" y="157" width="15" height="5" fill="#006027"/>
<rect x="382" y="157" width="15" height="5" fill="#005a24"/>
<rect x="397" y="157" width="15" height="5" fill="#005622"/>
<rect x="412" y="157" width="15" height="5" fill="#005c25"/>
<rect x="427" y="157" width="15" height="5" fill="#005c25"/>
<rect x="442" y="157" width="15" height="5" fill="#00682a"/>
<rect x="457" y="157" width="15" height="5" fill="#087432"/>
<rect x="472" y="157" width="15" height="5" fill="#157f3b"/>
<rect x="487" y="157" width="15" height="5" fill="#1a843f"/>
<rect x="502" y="157" width="15" height="5" fill="#2a924a"/>
<rect x="517" y="157" width="14" height="5" fill="#319a50"/>
<rect x="531" y="157" width="15" height="5" fill="#3aa357"/>
<rect x="546" y="157" width="15" height="5" fill="#46ae60"/>
<rect x="561" y="157" width="15" height="5" fill="#46ae60"/>
<rect x="576" y="157" width="15" height="5" fill="#46ae60"/>
<rect x="591" y="157" width="15" height="5" fill="#46ae60"/>
<rect x="606" y="157" width="16" height="5" fill="#37a055"/>
<rect x="84" y="162" width="14" height="5" fill="#278f48"/>
<rect x="98" y="162" width="15" height="5" fill="#278f48"/>
<rect x="113" y="162" width="15" height="5" fill="#1a843f"/>
<rect x="128" y="162" width="15" height="5" fill="#157f3b"/>
<rect x="143" y="162" width="15" height="5" fill="#1a843f"/>
<rect x="158" y="162" width="15" height="5" fill="#218944"/>
<rect x="173" y="162" width="15" height="5" fill="#1a843f"/>
<rect x="188" y="162" width="15" height="5" fill="#248c46"/>
<rect x="203" y="162" width="15" height="5" fill="#2c944c"/>
<rect x="218" y="162" width="15" height="5" fill="#3da65a"/>
<rect x="233" y="162" width="14" height="5" fill="#55b567"/>
<rect x="247" y="162" width="15" height="5" fill="#73c476"/>
<rect x="262" y="162" width="15" height="5" fill="#88ce87"/>
<rect x="277" y="162" width="15" height="5" fill="#9cd797"/>
<rect x="292" y="162" width="15" height="5" fill="#88ce87"/>
<rect x="307" y="162" width="15" height="5" fill="#5db96b"/>
<rect x="322" y="162" width="15" height="5" fill="#2f974e"/>
<rect x="337" y="162" width="15" height="5" fill="#157f3b"/>
<rect x="352" y="162" width="15" height="5" fill="#00682a"/>
<rect x="367" y="162" width="15" height="5" fill="#005c25"/>
<rect x="382" y="162" width="15" height="5" fill="#005a24"/>
<rect x="397" y="162" width="15" height="5" fill="#005c25"/>
<rect x="412" y="162" width="15" height="5" fill="#005c25"/>
<rect x="427" y="162" width="15" height="5" fill="#005c25"/>
<rect x="442" y="162" width="15" height="5" fill="#006428"/>
<rect x="457" y="162" width="15" height="5" fill="#087432"/>
<rect x="472" y="162" width="15" height="5" fill="#18823d"/>
<rect x="487" y="162" width="15" height="5" fill="#0b7734"/>
<rect x="502" y="162" width="15" height="5" fill="#278f48"/>
<rect x="517" y="162" width="14" height="5" fill="#2c944c"/>
<rect x="531" y="162" width="15" height="5" fill="#37a055"/>
<rect x="546" y="162" width="15" height="5" fill="#3fa85b"/>
<rect x="561" y="162" width="15" height="5" fill="#42ab5d"/>
<rect x="576" y="162" width="15" height="5" fill="#3da65a"/>
<rect x="591" y="162" width="15" height="5" fill="#3da65a"/>
<rect x="606" y="162" width="16" height="5" fill="#349d53"/>
<rect x="84" y="167" width="14" height="5" fill="#218944"/>
<rect x="98" y="167" width="15" height="5" fill="#218944"/>
<rect x="113" y="167" width="15" height="5" fill="#157f3b"/>
<rect x="128" y="167" width="15" height="5" fill="#0b7734"/>
<rect x="143" y="167" width="15" height="5" fill="#0b7734"/>
<rect x="158" y="167" width="15" height="5" fill="#157f3b"/>
<rect x="173" y="167" width="15" height="5" fill="#18823d"/>
<rect x="188" y="167" width="15" height="5" fill="#1a843f"/>
<rect x="203" y="167" width="15" height="5" fill="#248c46"/>
<rect x="218" y="167" width="15" height="5" fill="#349d53"/>
<rect x="233" y="167" width="14" height="5" fill="#46ae60"/>
<rect x="247" y="167" width="15" height="5" fill="#55b567"/>
<rect x="262" y="167" width="15" height="5" fill="#73c476"/>
<rect x="277" y="167" width="15" height="5" fill="#88ce87"/>
<rect x="292" y="167" width="15" height="5" fill="#80ca80"/>
<rect x="307" y="167" width="15" height="5" fill="#55b567"/>
<rect x="322" y="167" width="15" height="5" fill="#2c944c"/>
<rect x="337" y="167" width="15" height="5" fill="#0e7936"/>
<rect x="352" y="167" width="15" height="5" fill="#00682a"/>
<rect x="367" y="167" width="15" height="5" fill="#005c25"/>
<rect x="382" y="167" width="15" height="5" fill="#005a24"/>
<rect x="397" y="167" width="15" height="5" fill="#005622"/>
<rect x="412" y="167" width="15" height="5" fill="#005221"/>
<rect x="427" y="167" width="15" height="5" fill="#005622"/>
<rect x="442" y="167" width="15" height="5" fill="#006027"/>
<rect x="457" y="167" width="15" height="5" fill="#0b7734"/>
<rect x="472" y="167" width="15" height="5" fill="#18823d"/>
<rect x="487" y="167" width="15" height="5" fill="#0b7734"/>
<rect x="502" y="167" width="15" height="5" fill="#278f48"/>
<rect x="517" y="167" width="14" height="5" fill="#278f48"/>
<rect x="531" y="167" width="15" height="5" fill="#319a50"/>
<rect x="546" y="167" width="15" height="5" fill="#3fa85b"/>
<rect x="561" y="167" width="15" height="5" fill="#42ab5d"/>
<rect x="576" y="167" width="15" height="5" fill="#3aa357"/>
<rect x="591" y="167" width="15" height="5" fill="#37a055"/>
<rect x="606" y="167" width="16" height="5" fill="#319a50"/>
<rect x="84" y="172" width="14" height="5" fill="#1a843f"/>
<rect x="98" y="172" width="15" height="5" fill="#1a843f"/>
<rect x="113" y="172" width="15" height="5" fill="#127c39"/>
<rect x="128" y="172" width="15" height="5" fill="#026f2e"/>
<rect x="143" y="172" width="15" height="5" fill="#026f2e"/>
<rect x="158" y="172" width="15" height="5" fill="#0e7936"/>
<rect x="173" y="172" width="15" height="5" fill="#127c39"/>
<rect x="188" y="172" width="15" height="5" fill="#157f3b"/>
<rect x="203" y="172" width="15" height="5" fill="#1a843f"/>
<rect x="218" y="172" width="15" height="5" fill="#2f974e"/>
<rect x="233" y="172" width="14" height="5" fill="#3da65a"/>
<rect x="247" y="172" width="15" height="5" fill="#42ab5d"/>
<rect x="262" y="172" width="15" height="5" fill="#6bc072"/>
<rect x="277" y="172" width="15" height="5" fill="#7cc87c"/>
<rect x="292" y="172" width="15" height="5" fill="#73c476"/>
<rect x="307" y="172" width="15" height="5" fill="#50b264"/>
<rect x="322" y="172" width="15" height="5" fill="#2a924a"/>
<rect x="337" y="172" width="15" height="5" fill="#0e7936"/>
<rect x="352" y="172" width="15" height="5" fill="#00682a"/>
<rect x="367" y="172" width="15" height="5" fill="#005c25"/>
<rect x="382" y="172" width="15" height="5" fill="#005622"/>
<rect x="397" y="172" width="15" height="5" fill="#005622"/>
<rect x="412" y="172" width="15" height="5" fill="#004e1f"/>
<rect x="427" y="172" width="15" height="5" fill="#005221"/>
<rect x="442" y="172" width="15" height="5" fill="#006027"/>
<rect x="457" y="172" width="15" height="5" fill="#0b7734"/>
<rect x="472" y="172" width="15" height="5" fill="#157f3b"/>
<rect x="487" y="172" width="15" height="5" fill="#0b7734"/>
<rect x="502" y="172" width="15" height="5" fill="#278f48"/>
<rect x="517" y="172" width="14" height="5" fill="#248c46"/>
<rect x="531" y="172" width="15" height="5" fill="#319a50"/>
<rect x="546" y="172" width="15" height="5" fill="#3da65a"/>
<rect x="561" y="172" width="15" height="5" fill="#42ab5d"/>
<rect x="576" y="172" width="15" height="5" fill="#3aa357"/>
<rect x="591" y="172" width="15" height="5" fill="#37a055"/>
<rect x="606" y="172" width="16" height="5" fill="#2f974e"/>
<rect x="84" y="177" width="14" height="5" fill="#1a843f"/>
<rect x="98" y="177" width="15" height="5" fill="#1a843f"/>
<rect x="113" y="177" width="15" height="5" fill="#0b7734"/>
<rect x="128" y="177" width="15" height="5" fill="#00682a"/>
<rect x="143" y="177" width="15" height="5" fill="#00682a"/>
<rect x="158" y="177" width="15" height="5" fill="#087432"/>
<rect x="173" y="177" width="15" height="5" fill="#087432"/>
<rect x="188" y="177" width="15" height="5" fill="#0e7936"/>
<rect x="203" y="177" width="15" height="5" fill="#18823d"/>
<rect x="218" y="177" width="15" height="5" fill="#278f48"/>
<rect x="233" y="177" width="14" height="5" fill="#37a055"/>
<rect x="247" y="177" width="15" height="5" fill="#3da65a"/>
<rect x="262" y="177" width="15" height="5" fill="#5db96b"/>
<rect x="277" y="177" width="15" height="5" fill="#73c476"/>
<rect x="292" y="177" width="15" height="5" fill="#66bd6f"/>
<rect x="307" y="177" width="15" height="5" fill="#46ae60"/>
<rect x="322" y="177" width="15" height="5" fill="#2a924a"/>
<rect x="337" y="177" width="15" height="5" fill="#0e7936"/>
<rect x="352" y="177" width="15" height="5" fill="#00682a"/>
<rect x="367" y="177" width="15" height="5" fill="#005622"/>
<rect x="382" y="177" width="15" height="5" fill="#004e1f"/>
<rect x="397" y="177" width="15" height="5" fill="#004e1f"/>
<rect x="412" y="177" width="15" height="5" fill="#004a1e"/>
<rect x="427" y="177" width="15" height="5" fill="#004e1f"/>
<rect x="442" y="177" width="15" height="5" fill="#00682a"/>
<rect x="457" y="177" width="15" height="5" fill="#127c39"/>
<rect x="472" y="177" width="15" height="5" fill="#1a843f"/>
<rect x="487" y="177" width="15" height="5" fill="#18823d"/>
<rect x="502" y="177" width="15" height="5" fill="#1a843f"/>
<rect x="517" y="177" width="14" height="5" fill="#218944"/>
<rect x="531" y="177" width="15" height="5" fill="#319a50"/>
<rect x="546" y="177" width="15" height="5" fill="#3da65a"/>
<rect x="561" y="177" width="15" height="5" fill="#42ab5d"/>
<rect x="576" y="177" width="15" height="5" fill="#37a055"/>
<rect x="591" y="177" width="15" height="5" fill="#349d53"/>
<rect x="606" y="177" width="16" height="5" fill="#2a924a"/>
<rect x="84" y="182" width="14" height="5" fill="#1a843f"/>
<rect x="98" y="182" width="15" height="5" fill="#1a843f"/>
<rect x="113" y="182" width="15" height="5" fill="#087432"/>
<rect x="128" y="182" width="15" height="5" fill="#006027"/>
<rect x="143" y="182" width="15" height="5" fill="#006027"/>
<rect x="158" y="182" width="15" height="5" fill="#026f2e"/>
<rect x="173" y="182" width="15" height="5" fill="#026f2e"/>
<rect x="188" y="182" width="15" height="5" fill="#026f2e"/>
<rect x="203" y="182" width="15" height="5" fill="#127c39"/>
<rect x="218" y="182" width="15" height="5" fill="#218944"/>
<rect x="233" y="182" width="14" height="5" fill="#319a50"/>
<rect x="247" y="182" width="15" height="5" fill="#37a055"/>
<rect x="262" y="182" width="15" height="5" fill="#5db96b"/>
<rect x="277" y="182" width="15" height="5" fill="#6bc072"/>
<rect x="292" y="182" width="15" height="5" fill="#5db96b"/>
<rect x="307" y="182" width="15" height="5" fill="#3da65a"/>
<rect x="322" y="182" width="15" height="5" fill="#2a924a"/>
<rect x="337" y="182" width="15" height="5" fill="#0e7936"/>
<rect x="352" y="182" width="15" height="5" fill="#00682a"/>
<rect x="367" y="182" width="15" height="5" fill="#005221"/>
<rect x="382" y="182" width="15" height="5" fill="#004a1e"/>
<rect x="397" y="182" width="15" height="5" fill="#005221"/>
<rect x="412" y="182" width="15" height="5" fill="#005c25"/>
<rect x="427" y="182" width="15" height="5" fill="#00682a"/>
<rect x="442" y="182" width="15" height="5" fill="#127c39"/>
<rect x="457" y="182" width="15" height="5" fill="#1a843f"/>
<rect x="472" y="182" width="15" height="5" fill="#1e8741"/>
<rect x="487" y="182" width="15" height="5" fill="#218944"/>
<rect x="502" y="182" width="15" height="5" fill="#218944"/>
<rect x="517" y="182" width="14" height="5" fill="#218944"/>
<rect x="531" y="182" width="15" height="5" fill="#319a50"/>
<rect x="546" y="182" width="15" height="5" fill="#3da65a"/>
<rect x="561" y="182" width="15" height="5" fill="#42ab5d"/>
<rect x="576" y="182" width="15" height="5" fill="#37a055"/>
<rect x="591" y="182" width="15" height="5" fill="#349d53"/>
<rect x="606" y="182" width="16" height="5" fill="#278f48"/>
<rect x="84" y="187" width="14" height="5" fill="#1a843f"/>
<rect x="98" y="187" width="15" height="5" fill="#218944"/>
<rect x="113" y="187" width="15" height="5" fill="#157f3b"/>
<rect x="128" y="187" width="15" height="5" fill="#006027"/>
<rect x="143" y="187" width="15" height="5" fill="#005a24"/>
<rect x="158" y="187" width="15" height="5" fill="#006027"/>
<rect x="173" y="187" width="15" height="5" fill="#006027"/>
<rect x="188" y="187" width="15" height="5" fill="#005c25"/>
<rect x="203" y="187" width="15" height="5" fill="#00682a"/>
<rect x="218" y="187" width="15" height="5" fill="#127c39"/>
<rect x="233" y="187" width="14" height="5" fill="#1a843f"/>
<rect x="247" y="187" width="15" height="5" fill="#218944"/>
<rect x="262" y="187" width="15" height="5" fill="#37a055"/>
<rect x="277" y="187" width="15" height="5" fill="#50b264"/>
<rect x="292" y="187" width="15" height="5" fill="#42ab5d"/>
<rect x="307" y="187" width="15" height="5" fill="#2a924a"/>
<rect x="322" y="187" width="15" height="5" fill="#157f3b"/>
<rect x="337" y="187" width="15" height="5" fill="#026f2e"/>
<rect x="352" y="187" width="15" height="5" fill="#00682a"/>
<rect x="367" y="187" width="15" height="5" fill="#005622"/>
<rect x="382" y="187" width="15" height="5" fill="#004a1e"/>
<rect x="397" y="187" width="15" height="5" fill="#004a1e"/>
<rect x="412" y="187" width="15" height="5" fill="#005221"/>
<rect x="427" y="187" width="15" height="5" fill="#026f2e"/>
<rect x="442" y="187" width="15" height="5" fill="#1a843f"/>
<rect x="457" y="187" width="15" height="5" fill="#2a924a"/>
<rect x="472" y="187" width="15" height="5" fill="#2a924a"/>
<rect x="487" y="187" width="15" height="5" fill="#2a924a"/>
<rect x="502" y="187" width="15" height="5" fill="#1a843f"/>
<rect x="517" y="187" width="14" height="5" fill="#1a843f"/>
<rect x="531" y="187" width="15" height="5" fill="#2f974e"/>
<rect x="546" y="187" width="15" height="5" fill="#37a055"/>
<rect x="561" y="187" width="15" height="5" fill="#37a055"/>
<rect x="576" y="187" width="15" height="5" fill="#2c944c"/>
<rect x="591" y="187" width="15" height="5" fill="#218944"/>
<rect x="606" y="187" width="16" height="5" fill="#1a843f"/>
<rect x="84" y="192" width="14" height="5" fill="#1a843f"/>
<rect x="98" y="192" width="15" height="5" fill="#248c46"/>
<rect x="113" y="192" width="15" height="5" fill="#218944"/>
<rect x="128" y="192" width="15" height="5" fill="#127c39"/>
<rect x="143" y="192" width="15" height="5" fill="#006c2c"/>
<rect x="158" y="192" width="15" height="5" fill="#006027"/>
<rect x="173" y="192" width="15" height="5" fill="#006027"/>
<rect x="188" y="192" width="15" height="5" fill="#005c25"/>
<rect x="203" y="192" width="15" height="5" fill="#006c2c"/>
<rect x="218" y="192" width="15" height="5" fill="#127c39"/>
<rect x="233" y="192" width="14" height="5" fill="#1a843f"/>
<rect x="247" y="192" width="15" height="5" fill="#218944"/>
<rect x="262" y="192" width="15" height="5" fill="#37a055"/>
<rect x="277" y="192" width="15" height="5" fill="#46ae60"/>
<rect x="292" y="192" width="15" height="5" fill="#3da65a"/>
<rect x="307" y="192" width="15" height="5" fill="#2a924a"/>
<rect x="322" y="192" width="15" height="5" fill="#157f3b"/>
<rect x="337" y="192" width="15" height="5" fill="#05712f"/>
<rect x="352" y="192" width="15" height="5" fill="#026f2e"/>
<rect x="367" y="192" width="15" height="5" fill="#005c25"/>
<rect x="382" y="192" width="15" height="5" fill="#005a24"/>
<rect x="397" y="192" width="15" height="5" fill="#00682a"/>
<rect x="412" y="192" width="15" height="5" fill="#05712f"/>
<rect x="427" y="192" width="15" height="5" fill="#1a843f"/>
<rect x="442" y="192" width="15" height="5" fill="#218944"/>
<rect x="457" y="192" width="15" height="5" fill="#37a055"/>
<rect x="472" y="192" width="15" height="5" fill="#37a055"/>
<rect x="487" y="192" width="15" height="5" fill="#2f974e"/>
<rect x="502" y="192" width="15" height="5" fill="#1a843f"/>
<rect x="517" y="192" width="14" height="5" fill="#1a843f"/>
<rect x="531" y="192" width="15" height="5" fill="#2f974e"/>
<rect x="546" y="192" width="15" height="5" fill="#3da65a"/>
<rect x="561" y="192" width="15" height="5" fill="#37a055"/>
<rect x="576" y="192" width="15" height="5" fill="#2c944c"/>
<rect x="591" y="192" width="15" height="5" fill="#218944"/>
<rect x="606" y="192" width="16" height="5" fill="#1a843f"/>
<rect x="84" y="197" width="14" height="5" fill="#278f48"/>
<rect x="98" y="197" width="15" height="5" fill="#319a50"/>
<rect x="113" y="197" width="15" height="5" fill="#319a50"/>
<rect x="128" y="197" width="15" height="5" fill="#2a924a"/>
<rect x="143" y="197" width="15" height="5" fill="#127c39"/>
<rect x="158" y="197" width="15" height="5" fill="#087432"/>
<rect x="173" y="197" width="15" height="5" fill="#006c2c"/>
<rect x="188" y="197" width="15" height="5" fill="#026f2e"/>
<rect x="203" y="197" width="15" height="5" fill="#0b7734"/>
<rect x="218" y="197" width="15" height="5" fill="#18823d"/>
<rect x="233" y="197" width="14" height="5" fill="#1e8741"/>
<rect x="247" y="197" width="15" height="5" fill="#278f48"/>
<rect x="262" y="197" width="15" height="5" fill="#37a055"/>
<rect x="277" y="197" width="15" height="5" fill="#3fa85b"/>
<rect x="292" y="197" width="15" height="5" fill="#3aa357"/>
<rect x="307" y="197" width="15" height="5" fill="#2a924a"/>
<rect x="322" y="197" width="15" height="5" fill="#1a843f"/>
<rect x="337" y="197" width="15" height="5" fill="#157f3b"/>
<rect x="352" y="197" width="15" height="5" fill="#0b7734"/>
<rect x="367" y="197" width="15" height="5" fill="#026f2e"/>
<rect x="382" y="197" width="15" height="5" fill="#087432"/>
<rect x="397" y="197" width="15" height="5" fill="#1a843f"/>
<rect x="412" y="197" width="15" height="5" fill="#218944"/>
<rect x="427" y="197" width="15" height="5" fill="#2c944c"/>
<rect x="442" y="197" width="15" height="5" fill="#278f48"/>
<rect x="457" y="197" width="15" height="5" fill="#37a055"/>
<rect x="472" y="197" width="15" height="5" fill="#37a055"/>
<rect x="487" y="197" width="15" height="5" fill="#2f974e"/>
<rect x="502" y="197" width="15" height="5" fill="#278f48"/>
<rect x="517" y="197" width="14" height="5" fill="#278f48"/>
<rect x="531" y="197" width="15" height="5" fill="#2f974e"/>
<rect x="546" y="197" width="15" height="5" fill="#46ae60"/>
<rect x="561" y="197" width="15" height="5" fill="#3aa357"/>
<rect x="576" y="197" width="15" height="5" fill="#2f974e"/>
<rect x="591" y="197" width="15" height="5" fill="#218944"/>
<rect x="606" y="197" width="16" height="5" fill="#218944"/>
<rect x="84" y="202" width="14" height="5" fill="#319a50"/>
<rect x="98" y="202" width="15" height="5" fill="#3da65a"/>
<rect x="113" y="202" width="15" height="5" fill="#3aa357"/>
<rect x="128" y="202" width="15" height="5" fill="#2f974e"/>
<rect x="143" y="202" width="15" height="5" fill="#18823d"/>
<rect x="158" y="202" width="15" height="5" fill="#0e7936"/>
<rect x="173" y="202" width="15" height="5" fill="#0b7734"/>
<rect x="188" y="202" width="15" height="5" fill="#157f3b"/>
<rect x="203" y="202" width="15" height="5" fill="#1a843f"/>
<rect x="218" y="202" width="15" height="5" fill="#218944"/>
<rect x="233" y="202" width="14" height="5" fill="#218944"/>
<rect x="247" y="202" width="15" height="5" fill="#2a924a"/>
<rect x="262" y="202" width="15" height="5" fill="#37a055"/>
<rect x="277" y="202" width="15" height="5" fill="#3da65a"/>
<rect x="292" y="202" width="15" height="5" fill="#37a055"/>
<rect x="307" y="202" width="15" height="5" fill="#2f974e"/>
<rect x="322" y="202" width="15" height="5" fill="#218944"/>
<rect x="337" y="202" width="15" height="5" fill="#218944"/>
<rect x="352" y="202" width="15" height="5" fill="#1a843f"/>
<rect x="367" y="202" width="15" height="5" fill="#1a843f"/>
<rect x="382" y="202" width="15" height="5" fill="#218944"/>
<rect x="397" y="202" width="15" height="5" fill="#2a924a"/>
<rect x="412" y="202" width="15" height="5" fill="#2f974e"/>
<rect x="427" y="202" width="15" height="5" fill="#2f974e"/>
<rect x="442" y="202" width="15" height="5" fill="#278f48"/>
<rect x="457" y="202" width="15" height="5" fill="#2c944c"/>
<rect x="472" y="202" width="15" height="5" fill="#319a50"/>
<rect x="487" y="202" width="15" height="5" fill="#319a50"/>
<rect x="502" y="202" width="15" height="5" fill="#319a50"/>
<rect x="517" y="202" width="14" height="5" fill="#3da65a"/>
<rect x="531" y="202" width="15" height="5" fill="#3fa85b"/>
<rect x="546" y="202" width="15" height="5" fill="#50b264"/>
<rect x="561" y="202" width="15" height="5" fill="#3da65a"/>
<rect x="576" y="202" width="15" height="5" fill="#349d53"/>
<rect x="591" y="202" width="15" height="5" fill="#2f974e"/>
<rect x="606" y="202" width="16" height="5" fill="#2f974e"/>
<rect x="84" y="207" width="14" height="5" fill="#37a055"/>
<rect x="98" y="207" width="15" height="5" fill="#46ae60"/>
<rect x="113" y="207" width="15" height="5" fill="#3fa85b"/>
<rect x="128" y="207" width="15" height="5" fill="#2f974e"/>
<rect x="143" y="207" width="15" height="5" fill="#157f3b"/>
<rect x="158" y="207" width="15" height="5" fill="#127c39"/>
<rect x="173" y="207" width="15" height="5" fill="#0e7936"/>
<rect x="188" y="207" width="15" height="5" fill="#1e8741"/>
<rect x="203" y="207" width="15" height="5" fill="#278f48"/>
<rect x="218" y="207" width="15" height="5" fill="#2a924a"/>
<rect x="233" y="207" width="14" height="5" fill="#2a924a"/>
<rect x="247" y="207" width="15" height="5" fill="#2f974e"/>
<rect x="262" y="207" width="15" height="5" fill="#37a055"/>
<rect x="277" y="207" width="15" height="5" fill="#37a055"/>
<rect x="292" y="207" width="15" height="5" fill="#37a055"/>
<rect x="307" y="207" width="15" height="5" fill="#349d53"/>
<rect x="322" y="207" width="15" height="5" fill="#278f48"/>
<rect x="337" y="207" width="15" height="5" fill="#278f48"/>
<rect x="352" y="207" width="15" height="5" fill="#2a924a"/>
<rect x="367" y="207" width="15" height="5" fill="#2a924a"/>
<rect x="382" y="207" width="15" height="5" fill="#278f48"/>
<rect x="397" y="207" width="15" height="5" fill="#2a924a"/>
<rect x="412" y="207" width="15" height="5" fill="#2f974e"/>
<rect x="427" y="207" width="15" height="5" fill="#2a924a"/>
<rect x="442" y="207" width="15" height="5" fill="#1a843f"/>
<rect x="457" y="207" width="15" height="5" fill="#1a843f"/>
<rect x="472" y="207" width="15" height="5" fill="#278f48"/>
<rect x="487" y="207" width="15" height="5" fill="#2f974e"/>
<rect x="502" y="207" width="15" height="5" fill="#349d53"/>
<rect x="517" y="207" width="14" height="5" fill="#3da65a"/>
<rect x="531" y="207" width="15" height="5" fill="#3fa85b"/>
<rect x="546" y="207" width="15" height="5" fill="#42ab5d"/>
<rect x="561" y="207" width="15" height="5" fill="#3fa85b"/>
<rect x="576" y="207" width="15" height="5" fill="#3fa85b"/>
<rect x="591" y="207" width="15" height="5" fill="#3fa85b"/>
<rect x="606" y="207" width="16" height="5" fill="#3da65a"/>
<rect x="84" y="212" width="14" height="5" fill="#37a055"/>
<rect x="98" y="212" width="15" height="5" fill="#50b264"/>
<rect x="113" y="212" width="15" height="5" fill="#42ab5d"/>
<rect x="128" y="212" width="15" height="5" fill="#319a50"/>
<rect x="143" y="212" width="15" height="5" fill="#1a843f"/>
<rect x="158" y="212" width="15" height="5" fill="#157f3b"/>
<rect x="173" y="212" width="15" height="5" fill="#127c39"/>
<rect x="188" y="212" width="15" height="5" fill="#1a843f"/>
<rect x="203" y="212" width="15" height="5" fill="#278f48"/>
<rect x="218" y="212" width="15" height="5" fill="#37a055"/>
<rect x="233" y="212" width="14" height="5" fill="#3da65a"/>
<rect x="247" y="212" width="15" height="5" fill="#349d53"/>
<rect x="262" y="212" width="15" height="5" fill="#37a055"/>
<rect x="277" y="212" width="15" height="5" fill="#319a50"/>
<rect x="292" y="212" width="15" height="5" fill="#37a055"/>
<rect x="307" y="212" width="15" height="5" fill="#37a055"/>
<rect x="322" y="212" width="15" height="5" fill="#319a50"/>
<rect x="337" y="212" width="15" height="5" fill="#2f974e"/>
<rect x="352" y="212" width="15" height="5" fill="#349d53"/>
<rect x="367" y="212" width="15" height="5" fill="#319a50"/>
<rect x="382" y="212" width="15" height="5" fill="#2c944c"/>
<rect x="397" y="212" width="15" height="5" fill="#278f48"/>
<rect x="412" y="212" width="15" height="5" fill="#278f48"/>
<rect x="427" y="212" width="15" height="5" fill="#218944"/>
<rect x="442" y="212" width="15" height="5" fill="#127c39"/>
<rect x="457" y="212" width="15" height="5" fill="#0e7936"/>
<rect x="472" y="212" width="15" height="5" fill="#218944"/>
<rect x="487" y="212" width="15" height="5" fill="#2a924a"/>
<rect x="502" y="212" width="15" height="5" fill="#2f974e"/>
<rect x="517" y="212" width="14" height="5" fill="#37a055"/>
<rect x="531" y="212" width="15" height="5" fill="#3da65a"/>
<rect x="546" y="212" width="15" height="5" fill="#3da65a"/>
<rect x="561" y="212" width="15" height="5" fill="#3da65a"/>
<rect x="576" y="212" width="15" height="5" fill="#37a055"/>
<rect x="591" y="212" width="15" height="5" fill="#42ab5d"/>
<rect x="606" y="212" width="16" height="5" fill="#3da65a"/>
<rect x="84" y="217" width="14" height="5" fill="#37a055"/>
<rect x="98" y="217" width="15" height="5" fill="#46ae60"/>
<rect x="113" y="217" width="15" height="5" fill="#3da65a"/>
<rect x="128" y="217" width="15" height="5" fill="#37a055"/>
<rect x="143" y="217" width="15" height="5" fill="#2a924a"/>
<rect x="158" y="217" width="15" height="5" fill="#218944"/>
<rect x="173" y="217" width="15" height="5" fill="#218944"/>
<rect x="188" y="217" width="15" height="5" fill="#157f3b"/>
<rect x="203" y="217" width="15" height="5" fill="#157f3b"/>
<rect x="218" y="217" width="15" height="5" fill="#2a924a"/>
<rect x="233" y="217" width="14" height="5" fill="#3da65a"/>
<rect x="247" y="217" width="15" height="5" fill="#3da65a"/>
<rect x="262" y="217" width="15" height="5" fill="#3da65a"/>
<rect x="277" y="217" width="15" height="5" fill="#319a50"/>
<rect x="292" y="217" width="15" height="5" fill="#37a055"/>
<rect x="307" y="217" width="15" height="5" fill="#37a055"/>
<rect x="322" y="217" width="15" height="5" fill="#3da65a"/>
<rect x="337" y="217" width="15" height="5" fill="#37a055"/>
<rect x="352" y="217" width="15" height="5" fill="#37a055"/>
<rect x="367" y="217" width="15" height="5" fill="#37a055"/>
<rect x="382" y="217" width="15" height="5" fill="#2f974e"/>
<rect x="397" y="217" width="15" height="5" fill="#278f48"/>
<rect x="412" y="217" width="15" height="5" fill="#218944"/>
<rect x="427" y="217" width="15" height="5" fill="#1a843f"/>
<rect x="442" y="217" width="15" height="5" fill="#157f3b"/>
<rect x="457" y="217" width="15" height="5" fill="#0e7936"/>
<rect x="472" y="217" width="15" height="5" fill="#1a843f"/>
<rect x="487" y="217" width="15" height="5" fill="#218944"/>
<rect x="502" y="217" width="15" height="5" fill="#2a924a"/>
<rect x="517" y="217" width="14" height="5" fill="#37a055"/>
<rect x="531" y="217" width="15" height="5" fill="#3da65a"/>
<rect x="546" y="217" width="15" height="5" fill="#3da65a"/>
<rect x="561" y="217" width="15" height="5" fill="#319a50"/>
<rect x="576" y="217" width="15" height="5" fill="#319a50"/>
<rect x="591" y="217" width="15" height="5" fill="#3aa357"/>
<rect x="606" y="217" width="16" height="5" fill="#37a055"/>
<rect x="84" y="222" width="14" height="5" fill="#37a055"/>
<rect x="98" y="222" width="15" height="5" fill="#3fa85b"/>
<rect x="113" y="222" width="15" height="5" fill="#37a055"/>
<rect x="128" y="222" width="15" height="5" fill="#2f974e"/>
<rect x="143" y="222" width="15" height="5" fill="#319a50"/>
<rect x="158" y="222" width="15" height="5" fill="#2f974e"/>
<rect x="173" y="222" width="15" height="5" fill="#2a924a"/>
<rect x="188" y="222" width="15" height="5" fill="#127c39"/>
<rect x="203" y="222" width="15" height="5" fill="#087432"/>
<rect x="218" y="222" width="15" height="5" fill="#1a843f"/>
<rect x="233" y="222" width="14" height="5" fill="#3da65a"/>
<rect x="247" y="222" width="15" height="5" fill="#3da65a"/>
<rect x="262" y="222" width="15" height="5" fill="#3da65a"/>
<rect x="277" y="222" width="15" height="5" fill="#2f974e"/>
<rect x="292" y="222" width="15" height="5" fill="#2f974e"/>
<rect x="307" y="222" width="15" height="5" fill="#37a055"/>
<rect x="322" y="222" width="15" height="5" fill="#3da65a"/>
<rect x="337" y="222" width="15" height="5" fill="#37a055"/>
<rect x="352" y="222" width="15" height="5" fill="#37a055"/>
<rect x="367" y="222" width="15" height="5" fill="#37a055"/>
<rect x="382" y="222" width="15" height="5" fill="#2f974e"/>
<rect x="397" y="222" width="15" height="5" fill="#248c46"/>
<rect x="412" y="222" width="15" height="5" fill="#1e8741"/>
<rect x="427" y="222" width="15" height="5" fill="#1a843f"/>
<rect x="442" y="222" width="15" height="5" fill="#2a924a"/>
<rect x="457" y="222" width="15" height="5" fill="#278f48"/>
<rect x="472" y="222" width="15" height="5" fill="#218944"/>
<rect x="487" y="222" width="15" height="5" fill="#18823d"/>
<rect x="502" y="222" width="15" height="5" fill="#2a924a"/>
<rect x="517" y="222" width="14" height="5" fill="#37a055"/>
<rect x="531" y="222" width="15" height="5" fill="#3fa85b"/>
<rect x="546" y="222" width="15" height="5" fill="#3da65a"/>
<rect x="561" y="222" width="15" height="5" fill="#2f974e"/>
<rect x="576" y="222" width="15" height="5" fill="#218944"/>
<rect x="591" y="222" width="15" height="5" fill="#349d53"/>
<rect x="606" y="222" width="16" height="5" fill="#319a50"/>
<rect x="84" y="227" width="14" height="5" fill="#37a055"/>
<rect x="98" y="227" width="15" height="5" fill="#3fa85b"/>
<rect x="113" y="227" width="15" height="5" fill="#349d53"/>
<rect x="128" y="227" width="15" height="5" fill="#2a924a"/>
<rect x="143" y="227" width="15" height="5" fill="#2f974e"/>
<rect x="158" y="227" width="15" height="5" fill="#2f974e"/>
<rect x="173" y="227" width="15" height="5" fill="#2a924a"/>
<rect x="188" y="227" width="15" height="5" fill="#127c39"/>
<rect x="203" y="227" width="15" height="5" fill="#087432"/>
<rect x="218" y="227" width="15" height="5" fill="#1a843f"/>
<rect x="233" y="227" width="14" height="5" fill="#3da65a"/>
<rect x="247" y="227" width="15" height="5" fill="#3da65a"/>
<rect x="262" y="227" width="15" height="5" fill="#3da65a"/>
<rect x="277" y="227" width="15" height="5" fill="#2f974e"/>
<rect x="292" y="227" width="15" height="5" fill="#278f48"/>
<rect x="307" y="227" width="15" height="5" fill="#319a50"/>
<rect x="322" y="227" width="15" height="5" fill="#3da65a"/>
<rect x="337" y="227" width="15" height="5" fill="#37a055"/>
<rect x="352" y="227" width="15" height="5" fill="#37a055"/>
<rect x="367" y="227" width="15" height="5" fill="#37a055"/>
<rect x="382" y="227" width="15" height="5" fill="#2f974e"/>
<rect x="397" y="227" width="15" height="5" fill="#278f48"/>
<rect x="412" y="227" width="15" height="5" fill="#218944"/>
<rect x="427" y="227" width="15" height="5" fill="#218944"/>
<rect x="442" y="227" width="15" height="5" fill="#37a055"/>
<rect x="457" y="227" width="15" height="5" fill="#3da65a"/>
<rect x="472" y="227" width="15" height="5" fill="#319a50"/>
<rect x="487" y="227" width="15" height="5" fill="#1a843f"/>
<rect x="502" y="227" width="15" height="5" fill="#2a924a"/>
<rect x="517" y="227" width="14" height="5" fill="#37a055"/>
<rect x="531" y="227" width="15" height="5" fill="#3fa85b"/>
<rect x="546" y="227" width="15" height="5" fill="#3da65a"/>
<rect x="561" y="227" width="15" height="5" fill="#319a50"/>
<rect x="576" y="227" width="15" height="5" fill="#218944"/>
<rect x="591" y="227" width="15" height="5" fill="#278f48"/>
<rect x="606" y="227" width="16" height="5" fill="#2c944c"/>
<rect x="84" y="232" width="14" height="4" fill="#37a055"/>
<rect x="98" y="232" width="15" height="4" fill="#46ae60"/>
<rect x="113" y="232" width="15" height="4" fill="#37a055"/>
<rect x="128" y="232" width="15" height="4" fill="#2a924a"/>
<rect x="143" y="232" width="15" height="4" fill="#2f974e"/>
<rect x="158" y="232" width="15" height="4" fill="#2f974e"/>
<rect x="173" y="232" width="15" height="4" fill="#2a924a"/>
<rect x="188" y="232" width="15" height="4" fill="#127c39"/>
<rect x="203" y="232" width="15" height="4" fill="#127c39"/>
<rect x="218" y="232" width="15" height="4" fill="#218944"/>
<rect x="233" y="232" width="14" height="4" fill="#37a055"/>
<rect x="247" y="232" width="15" height="4" fill="#37a055"/>
<rect x="262" y="232" width="15" height="4" fill="#2f974e"/>
<rect x="277" y="232" width="15" height="4" fill="#248c46"/>
<rect x="292" y="232" width="15" height="4" fill="#218944"/>
<rect x="307" y="232" width="15" height="4" fill="#2f974e"/>
<rect x="322" y="232" width="15" height="4" fill="#37a055"/>
<rect x="337" y="232" width="15" height="4" fill="#37a055"/>
<rect x="352" y="232" width="15" height="4" fill="#37a055"/>
<rect x="367" y="232" width="15" height="4" fill="#37a055"/>
<rect x="382" y="232" width="15" height="4" fill="#319a50"/>
<rect x="397" y="232" width="15" height="4" fill="#2c944c"/>
<rect x="412" y="232" width="15" height="4" fill="#2a924a"/>
<rect x="427" y="232" width="15" height="4" fill="#2f974e"/>
<rect x="442" y="232" width="15" height="4" fill="#5db96b"/>
<rect x="457" y="232" width="15" height="4" fill="#73c476"/>
<rect x="472" y="232" width="15" height="4" fill="#50b264"/>
<rect x="487" y="232" width="15" height="4" fill="#278f48"/>
<rect x="502" y="232" width="15" height="4" fill="#2a924a"/>
<rect x="517" y="232" width="14" height="4" fill="#319a50"/>
<rect x="531" y="232" width="15" height="4" fill="#3fa85b"/>
<rect x="546" y="232" width="15" height="4" fill="#3da65a"/>
<rect x="561" y="232" width="15" height="4" fill="#319a50"/>
<rect x="576" y="232" width="15" height="4" fill="#1e8741"/>
<rect x="591" y="232" width="15" height="4" fill="#218944"/>
<rect x="606" y="232" width="16" height="4" fill="#2a924a"/>
<rect x="84" y="236" width="14" height="5" fill="#42ab5d"/>
<rect x="98" y="236" width="15" height="5" fill="#66bd6f"/>
<rect x="113" y="236" width="15" height="5" fill="#46ae60"/>
<rect x="128" y="236" width="15" height="5" fill="#2f974e"/>
<rect x="143" y="236" width="15" height="5" fill="#278f48"/>
<rect x="158" y="236" width="15" height="5" fill="#2a924a"/>
<rect x="173" y="236" width="15" height="5" fill="#2a924a"/>
<rect x="188" y="236" width="15" height="5" fill="#157f3b"/>
<rect x="203" y="236" width="15" height="5" fill="#1a843f"/>
<rect x="218" y="236" width="15" height="5" fill="#278f48"/>
<rect x="233" y="236" width="14" height="5" fill="#349d53"/>
<rect x="247" y="236" width="15" height="5" fill="#349d53"/>
<rect x="262" y="236" width="15" height="5" fill="#2f974e"/>
<rect x="277" y="236" width="15" height="5" fill="#1e8741"/>
<rect x="292" y="236" width="15" height="5" fill="#218944"/>
<rect x="307" y="236" width="15" height="5" fill="#2f974e"/>
<rect x="322" y="236" width="15" height="5" fill="#319a50"/>
<rect x="337" y="236" width="15" height="5" fill="#37a055"/>
<rect x="352" y="236" width="15" height="5" fill="#37a055"/>
<rect x="367" y="236" width="15" height="5" fill="#37a055"/>
<rect x="382" y="236" width="15" height="5" fill="#37a055"/>
<rect x="397" y="236" width="15" height="5" fill="#37a055"/>
<rect x="412" y="236" width="15" height="5" fill="#37a055"/>
<rect x="427" y="236" width="15" height="5" fill="#46ae60"/>
<rect x="442" y="236" width="15" height="5" fill="#73c476"/>
<rect x="457" y="236" width="15" height="5" fill="#88ce87"/>
<rect x="472" y="236" width="15" height="5" fill="#73c476"/>
<rect x="487" y="236" width="15" height="5" fill="#37a055"/>
<rect x="502" y="236" width="15" height="5" fill="#2a924a"/>
<rect x="517" y="236" width="14" height="5" fill="#319a50"/>
<rect x="531" y="236" width="15" height="5" fill="#3fa85b"/>
<rect x="546" y="236" width="15" height="5" fill="#3da65a"/>
<rect x="561" y="236" width="15" height="5" fill="#349d53"/>
<rect x="576" y="236" width="15" height="5" fill="#2a924a"/>
<rect x="591" y="236" width="15" height="5" fill="#2a924a"/>
<rect x="606" y="236" width="16" height="5" fill="#278f48"/>
<rect x="84" y="241" width="14" height="5" fill="#50b264"/>
<rect x="98" y="241" width="15" height="5" fill="#7cc87c"/>
<rect x="113" y="241" width="15" height="5" fill="#55b567"/>
<rect x="128" y="241" width="15" height="5" fill="#2f974e"/>
<rect x="143" y="241" width="15" height="5" fill="#248c46"/>
<rect x="158" y="241" width="15" height="5" fill="#278f48"/>
<rect x="173" y="241" width="15" height="5" fill="#2a924a"/>
<rect x="188" y="241" width="15" height="5" fill="#1a843f"/>
<rect x="203" y="241" width="15" height="5" fill="#2a924a"/>
<rect x="218" y="241" width="15" height="5" fill="#37a055"/>
<rect x="233" y="241" width="14" height="5" fill="#3fa85b"/>
<rect x="247" y="241" width="15" height="5" fill="#349d53"/>
<rect x="262" y="241" width="15" height="5" fill="#2f974e"/>
<rect x="277" y="241" width="15" height="5" fill="#157f3b"/>
<rect x="292" y="241" width="15" height="5" fill="#218944"/>
<rect x="307" y="241" width="15" height="5" fill="#2f974e"/>
<rect x="322" y="241" width="15" height="5" fill="#349d53"/>
<rect x="337" y="241" width="15" height="5" fill="#37a055"/>
<rect x="352" y="241" width="15" height="5" fill="#37a055"/>
<rect x="367" y="241" width="15" height="5" fill="#3fa85b"/>
<rect x="382" y="241" width="15" height="5" fill="#46ae60"/>
<rect x="397" y="241" width="15" height="5" fill="#46ae60"/>
<rect x="412" y="241" width="15" height="5" fill="#46ae60"/>
<rect x="427" y="241" width="15" height="5" fill="#50b264"/>
<rect x="442" y="241" width="15" height="5" fill="#88ce87"/>
<rect x="457" y="241" width="15" height="5" fill="#9cd797"/>
<rect x="472" y="241" width="15" height="5" fill="#88ce87"/>
<rect x="487" y="241" width="15" height="5" fill="#46ae60"/>
<rect x="502" y="241" width="15" height="5" fill="#319a50"/>
<rect x="517" y="241" width="14" height="5" fill="#319a50"/>
<rect x="531" y="241" width="15" height="5" fill="#3da65a"/>
<rect x="546" y="241" width="15" height="5" fill="#3da65a"/>
<rect x="561" y="241" width="15" height="5" fill="#37a055"/>
<rect x="576" y="241" width="15" height="5" fill="#37a055"/>
<rect x="591" y="241" width="15" height="5" fill="#37a055"/>
<rect x="606" y="241" width="16" height="5" fill="#278f48"/>
<rect x="84" y="246" width="14" height="5" fill="#5db96b"/>
<rect x="98" y="246" width="15" height="5" fill="#90d18d"/>
<rect x="113" y="246" width="15" height="5" fill="#66bd6f"/>
<rect x="128" y="246" width="15" height="5" fill="#37a055"/>
<rect x="143" y="246" width="15" height="5" fill="#2a924a"/>
<rect x="158" y="246" width="15" height="5" fill="#278f48"/>
<rect x="173" y="246" width="15" height="5" fill="#218944"/>
<rect x="188" y="246" width="15" height="5" fill="#1a843f"/>
<rect x="203" y="246" width="15" height="5" fill="#2a924a"/>
<rect x="218" y="246" width="15" height="5" fill="#3da65a"/>
<rect x="233" y="246" width="14" height="5" fill="#46ae60"/>
<rect x="247" y="246" width="15" height="5" fill="#319a50"/>
<rect x="262" y="246" width="15" height="5" fill="#1a843f"/>
<rect x="277" y="246" width="15" height="5" fill="#0e7936"/>
<rect x="292" y="246" width="15" height="5" fill="#1a843f"/>
<rect x="307" y="246" width="15" height="5" fill="#278f48"/>
<rect x="322" y="246" width="15" height="5" fill="#2a924a"/>
<rect x="337" y="246" width="15" height="5" fill="#2f974e"/>
<rect x="352" y="246" width="15" height="5" fill="#37a055"/>
<rect x="367" y="246" width="15" height="5" fill="#50b264"/>
<rect x="382" y="246" width="15" height="5" fill="#66bd6f"/>
<rect x="397" y="246" width="15" height="5" fill="#5db96b"/>
<rect x="412" y="246" width="15" height="5" fill="#46ae60"/>
<rect x="427" y="246" width="15" height="5" fill="#5db96b"/>
<rect x="442" y="246" width="15" height="5" fill="#a4da9e"/>
<rect x="457" y="246" width="15" height="5" fill="#a7dba0"/>
<rect x="472" y="246" width="15" height="5" fill="#90d18d"/>
<rect x="487" y="246" width="15" height="5" fill="#73c476"/>
<rect x="502" y="246" width="15" height="5" fill="#5db96b"/>
<rect x="517" y="246" width="14" height="5" fill="#46ae60"/>
<rect x="531" y="246" width="15" height="5" fill="#46ae60"/>
<rect x="546" y="246" width="15" height="5" fill="#46ae60"/>
<rect x="561" y="246" width="15" height="5" fill="#3da65a"/>
<rect x="576" y="246" width="15" height="5" fill="#46ae60"/>
<rect x="591" y="246" width="15" height="5" fill="#46ae60"/>
<rect x="606" y="246" width="16" height="5" fill="#2f974e"/>
<rect x="84" y="251" width="14" height="5" fill="#66bd6f"/>
<rect x="98" y="251" width="15" height="5" fill="#a4da9e"/>
<rect x="113" y="251" width="15" height="5" fill="#73c476"/>
<rect x="128" y="251" width="15" height="5" fill="#3da65a"/>
<rect x="143" y="251" width="15" height="5" fill="#2f974e"/>
<rect x="158" y="251" width="15" height="5" fill="#2a924a"/>
<rect x="173" y="251" width="15" height="5" fill="#278f48"/>
<rect x="188" y="251" width="15" height="5" fill="#278f48"/>
<rect x="203" y="251" width="15" height="5" fill="#319a50"/>
<rect x="218" y="251" width="15" height="5" fill="#42ab5d"/>
<rect x="233" y="251" width="14" height="5" fill="#46ae60"/>
<rect x="247" y="251" width="15" height="5" fill="#2a924a"/>
<rect x="262" y="251" width="15" height="5" fill="#0b7734"/>
<rect x="277" y="251" width="15" height="5" fill="#006c2c"/>
<rect x="292" y="251" width="15" height="5" fill="#157f3b"/>
<rect x="307" y="251" width="15" height="5" fill="#278f48"/>
<rect x="322" y="251" width="15" height="5" fill="#2a924a"/>
<rect x="337" y="251" width="15" height="5" fill="#2f974e"/>
<rect x="352" y="251" width="15" height="5" fill="#3da65a"/>
<rect x="367" y="251" width="15" height="5" fill="#5db96b"/>
<rect x="382" y="251" width="15" height="5" fill="#73c476"/>
<rect x="397" y="251" width="15" height="5" fill="#73c476"/>
<rect x="412" y="251" width="15" height="5" fill="#5db96b"/>
<rect x="427" y="251" width="15" height="5" fill="#73c476"/>
<rect x="442" y="251" width="15" height="5" fill="#b5e1ae"/>
<rect x="457" y="251" width="15" height="5" fill="#b5e1ae"/>
<rect x="472" y="251" width="15" height="5" fill="#a4da9e"/>
<rect x="487" y="251" width="15" height="5" fill="#90d18d"/>
<rect x="502" y="251" width="15" height="5" fill="#7cc87c"/>
<rect x="517" y="251" width="14" height="5" fill="#5db96b"/>
<rect x="531" y="251" width="15" height="5" fill="#55b567"/>
<rect x="546" y="251" width="15" height="5" fill="#55b567"/>
<rect x="561" y="251" width="15" height="5" fill="#50b264"/>
<rect x="576" y="251" width="15" height="5" fill="#5db96b"/>
<rect x="591" y="251" width="15" height="5" fill="#5db96b"/>
<rect x="606" y="251" width="16" height="5" fill="#3fa85b"/>
<rect x="84" y="256" width="14" height="5" fill="#7cc87c"/>
<rect x="98" y="256" width="15" height="5" fill="#aedea7"/>
<rect x="113" y="256" width="15" height="5" fill="#80ca80"/>
<rect x="128" y="256" width="15" height="5" fill="#46ae60"/>
<rect x="143" y="256" width="15" height="5" fill="#37a055"/>
<rect x="158" y="256" width="15" height="5" fill="#319a50"/>
<rect x="173" y="256" width="15" height="5" fill="#2f974e"/>
<rect x="188" y="256" width="15" height="5" fill="#37a055"/>
<rect x="203" y="256" width="15" height="5" fill="#3da65a"/>
<rect x="218" y="256" width="15" height="5" fill="#50b264"/>
<rect x="233" y="256" width="14" height="5" fill="#50b264"/>
<rect x="247" y="256" width="15" height="5" fill="#1a843f"/>
<rect x="262" y="256" width="15" height="5" fill="#006c2c"/>
<rect x="277" y="256" width="15" height="5" fill="#006428"/>
<rect x="292" y="256" width="15" height="5" fill="#157f3b"/>
<rect x="307" y="256" width="15" height="5" fill="#2a924a"/>
<rect x="322" y="256" width="15" height="5" fill="#2a924a"/>
<rect x="337" y="256" width="15" height="5" fill="#319a50"/>
<rect x="352" y="256" width="15" height="5" fill="#50b264"/>
<rect x="367" y="256" width="15" height="5" fill="#7cc87c"/>
<rect x="382" y="256" width="15" height="5" fill="#90d18d"/>
<rect x="397" y="256" width="15" height="5" fill="#88ce87"/>
<rect x="412" y="256" width="15" height="5" fill="#73c476"/>
<rect x="427" y="256" width="15" height="5" fill="#88ce87"/>
<rect x="442" y="256" width="15" height="5" fill="#c9eac2"/>
<rect x="457" y="256" width="15" height="5" fill="#c6e8bf"/>
<rect x="472" y="256" width="15" height="5" fill="#b5e1ae"/>
<rect x="487" y="256" width="15" height="5" fill="#a7dba0"/>
<rect x="502" y="256" width="15" height="5" fill="#9cd797"/>
<rect x="517" y="256" width="14" height="5" fill="#88ce87"/>
<rect x="531" y="256" width="15" height="5" fill="#70c274"/>
<rect x="546" y="256" width="15" height="5" fill="#73c476"/>
<rect x="561" y="256" width="15" height="5" fill="#70c274"/>
<rect x="576" y="256" width="15" height="5" fill="#73c476"/>
<rect x="591" y="256" width="15" height="5" fill="#73c476"/>
<rect x="606" y="256" width="16" height="5" fill="#6bc072"/>
<rect x="84" y="261" width="14" height="5" fill="#88ce87"/>
<rect x="98" y="261" width="15" height="5" fill="#b5e1ae"/>
<rect x="113" y="261" width="15" height="5" fill="#94d390"/>
<rect x="128" y="261" width="15" height="5" fill="#55b567"/>
<rect x="143" y="261" width="15" height="5" fill="#3fa85b"/>
<rect x="158" y="261" width="15" height="5" fill="#3da65a"/>
<rect x="173" y="261" width="15" height="5" fill="#3da65a"/>
<rect x="188" y="261" width="15" height="5" fill="#50b264"/>
<rect x="203" y="261" width="15" height="5" fill="#66bd6f"/>
<rect x="218" y="261" width="15" height="5" fill="#70c274"/>
<rect x="233" y="261" width="14" height="5" fill="#5db96b"/>
<rect x="247" y="261" width="15" height="5" fill="#1a843f"/>
<rect x="262" y="261" width="15" height="5" fill="#026f2e"/>
<rect x="277" y="261" width="15" height="5" fill="#006c2c"/>
<rect x="292" y="261" width="15" height="5" fill="#1a843f"/>
<rect x="307" y="261" width="15" height="5" fill="#319a50"/>
<rect x="322" y="261" width="15" height="5" fill="#37a055"/>
<rect x="337" y="261" width="15" height="5" fill="#46ae60"/>
<rect x="352" y="261" width="15" height="5" fill="#73c476"/>
<rect x="367" y="261" width="15" height="5" fill="#9cd797"/>
<rect x="382" y="261" width="15" height="5" fill="#aedea7"/>
<rect x="397" y="261" width="15" height="5" fill="#a4da9e"/>
<rect x="412" y="261" width="15" height="5" fill="#9cd797"/>
<rect x="427" y="261" width="15" height="5" fill="#9cd797"/>
<rect x="442" y="261" width="15" height="5" fill="#dbf1d6"/>
<rect x="457" y="261" width="15" height="5" fill="#d6efd0"/>
<rect x="472" y="261" width="15" height="5" fill="#c9eac2"/>
<rect x="487" y="261" width="15" height="5" fill="#bee5b8"/>
<rect x="502" y="261" width="15" height="5" fill="#b5e1ae"/>
<rect x="517" y="261" width="14" height="5" fill="#a7dba0"/>
<rect x="531" y="261" width="15" height="5" fill="#88ce87"/>
<rect x="546" y="261" width="15" height="5" fill="#80ca80"/>
<rect x="561" y="261" width="15" height="5" fill="#7cc87c"/>
<rect x="576" y="261" width="15" height="5" fill="#84cc83"/>
<rect x="591" y="261" width="15" height="5" fill="#84cc83"/>
<rect x="606" y="261" width="16" height="5" fill="#88ce87"/>
<rect x="84" y="266" width="14" height="5" fill="#a4da9e"/>
<rect x="98" y="266" width="15" height="5" fill="#bee5b8"/>
<rect x="113" y="266" width="15" height="5" fill="#a7dba0"/>
<rect x="128" y="266" width="15" height="5" fill="#70c274"/>
<rect x="143" y="266" width="15" height="5" fill="#58b668"/>
<rect x="158" y="266" width="15" height="5" fill="#50b264"/>
<rect x="173" y="266" width="15" height="5" fill="#5db96b"/>
<rect x="188" y="266" width="15" height="5" fill="#73c476"/>
<rect x="203" y="266" width="15" height="5" fill="#88ce87"/>
<rect x="218" y="266" width="15" height="5" fill="#90d18d"/>
<rect x="233" y="266" width="14" height="5" fill="#73c476"/>
<rect x="247" y="266" width="15" height="5" fill="#218944"/>
<rect x="262" y="266" width="15" height="5" fill="#0b7734"/>
<rect x="277" y="266" width="15" height="5" fill="#127c39"/>
<rect x="292" y="266" width="15" height="5" fill="#2a924a"/>
<rect x="307" y="266" width="15" height="5" fill="#46ae60"/>
<rect x="322" y="266" width="15" height="5" fill="#5db96b"/>
<rect x="337" y="266" width="15" height="5" fill="#80ca80"/>
<rect x="352" y="266" width="15" height="5" fill="#9cd797"/>
<rect x="367" y="266" width="15" height="5" fill="#bee5b8"/>
<rect x="382" y="266" width="15" height="5" fill="#bee5b8"/>
<rect x="397" y="266" width="15" height="5" fill="#bee5b8"/>
<rect x="412" y="266" width="15" height="5" fill="#bee5b8"/>
<rect x="427" y="266" width="15" height="5" fill="#bee5b8"/>
<rect x="442" y="266" width="15" height="5" fill="#ebf7e7"/>
<rect x="457" y="266" width="15" height="5" fill="#e7f6e3"/>
<rect x="472" y="266" width="15" height="5" fill="#dbf1d6"/>
<rect x="487" y="266" width="15" height="5" fill="#ceecc8"/>
<rect x="502" y="266" width="15" height="5" fill="#c9eac2"/>
<rect x="517" y="266" width="14" height="5" fill="#bee5b8"/>
<rect x="531" y="266" width="15" height="5" fill="#a4da9e"/>
<rect x="546" y="266" width="15" height="5" fill="#98d594"/>
<rect x="561" y="266" width="15" height="5" fill="#9cd797"/>
<rect x="576" y="266" width="15" height="5" fill="#9cd797"/>
<rect x="591" y="266" width="15" height="5" fill="#a4da9e"/>
<rect x="606" y="266" width="16" height="5" fill="#a7dba0"/>
<rect x="84" y="271" width="14" height="5" fill="#bee5b8"/>
<rect x="98" y="271" width="15" height="5" fill="#ceecc8"/>
<rect x="113" y="271" width="15" height="5" fill="#bce4b5"/>
<rect x="128" y="271" width="15" height="5" fill="#90d18d"/>
<rect x="143" y="271" width="15" height="5" fill="#80ca80"/>
<rect x="158" y="271" width="15" height="5" fill="#80ca80"/>
<rect x="173" y="271" width="15" height="5" fill="#88ce87"/>
<rect x="188" y="271" width="15" height="5" fill="#9cd797"/>
<rect x="203" y="271" width="15" height="5" fill="#aedea7"/>
<rect x="218" y="271" width="15" height="5" fill="#b8e3b2"/>
<rect x="233" y="271" width="14" height="5" fill="#88ce87"/>
<rect x="247" y="271" width="15" height="5" fill="#2f974e"/>
<rect x="262" y="271" width="15" height="5" fill="#1a843f"/>
<rect x="277" y="271" width="15" height="5" fill="#278f48"/>
<rect x="292" y="271" width="15" height="5" fill="#3da65a"/>
<rect x="307" y="271" width="15" height="5" fill="#66bd6f"/>
<rect x="322" y="271" width="15" height="5" fill="#80ca80"/>
<rect x="337" y="271" width="15" height="5" fill="#a4da9e"/>
<rect x="352" y="271" width="15" height="5" fill="#bee5b8"/>
<rect x="367" y="271" width="15" height="5" fill="#d3eecd"/>
<rect x="382" y="271" width="15" height="5" fill="#d3eecd"/>
<rect x="397" y="271" width="15" height="5" fill="#d3eecd"/>
<rect x="412" y="271" width="15" height="5" fill="#dbf1d6"/>
<rect x="427" y="271" width="15" height="5" fill="#dbf1d6"/>
<rect x="442" y="271" width="15" height="5" fill="#eff9ec"/>
<rect x="457" y="271" width="15" height="5" fill="#eff9ec"/>
<rect x="472" y="271" width="15" height="5" fill="#e7f6e3"/>
<rect x="487" y="271" width="15" height="5" fill="#e1f3dc"/>
<rect x="502" y="271" width="15" height="5" fill="#dbf1d6"/>
<rect x="517" y="271" width="14" height="5" fill="#d3eecd"/>
<rect x="531" y="271" width="15" height="5" fill="#bee5b8"/>
<rect x="546" y="271" width="15" height="5" fill="#b5e1ae"/>
<rect x="561" y="271" width="15" height="5" fill="#b5e1ae"/>
<rect x="576" y="271" width="15" height="5" fill="#b5e1ae"/>
<rect x="591" y="271" width="15" height="5" fill="#bee5b8"/>
<rect x="606" y="271" width="16" height="5" fill="#bee5b8"/>
<rect x="84" y="276" width="14" height="5" fill="#ceecc8"/>
<rect x="98" y="276" width="15" height="5" fill="#e1f3dc"/>
<rect x="113" y="276" width="15" height="5" fill="#ceecc8"/>
<rect x="128" y="276" width="15" height="5" fill="#aedea7"/>
<rect x="143" y="276" width="15" height="5" fill="#aedea7"/>
<rect x="158" y="276" width="15" height="5" fill="#b5e1ae"/>
<rect x="173" y="276" width="15" height="5" fill="#aedea7"/>
<rect x="188" y="276" width="15" height="5" fill="#bee5b8"/>
<rect x="203" y="276" width="15" height="5" fill="#ceecc8"/>
<rect x="218" y="276" width="15" height="5" fill="#ceecc8"/>
<rect x="233" y="276" width="14" height="5" fill="#aedea7"/>
<rect x="247" y="276" width="15" height="5" fill="#3da65a"/>
<rect x="262" y="276" width="15" height="5" fill="#278f48"/>
<rect x="277" y="276" width="15" height="5" fill="#37a055"/>
<rect x="292" y="276" width="15" height="5" fill="#55b567"/>
<rect x="307" y="276" width="15" height="5" fill="#7cc87c"/>
<rect x="322" y="276" width="15" height="5" fill="#9cd797"/>
<rect x="337" y="276" width="15" height="5" fill="#ceecc8"/>
<rect x="352" y="276" width="15" height="5" fill="#dbf1d6"/>
<rect x="367" y="276" width="15" height="5" fill="#e3f4de"/>
<rect x="382" y="276" width="15" height="5" fill="#e3f4de"/>
<rect x="397" y="276" width="15" height="5" fill="#e7f6e3"/>
<rect x="412" y="276" width="15" height="5" fill="#e7f6e3"/>
<rect x="427" y="276" width="15" height="5" fill="#e7f6e3"/>
<rect x="442" y="276" width="15" height="5" fill="#f2faf0"/>
<rect x="457" y="276" width="15" height="5" fill="#eff9ec"/>
<rect x="472" y="276" width="15" height="5" fill="#eff9ec"/>
<rect x="487" y="276" width="15" height="5" fill="#e7f6e3"/>
<rect x="502" y="276" width="15" height="5" fill="#e7f6e3"/>
<rect x="517" y="276" width="14" height="5" fill="#e3f4de"/>
<rect x="531" y="276" width="15" height="5" fill="#d3eecd"/>
<rect x="546" y="276" width="15" height="5" fill="#ceecc8"/>
<rect x="561" y="276" width="15" height="5" fill="#ceecc8"/>
<rect x="576" y="276" width="15" height="5" fill="#ceecc8"/>
<rect x="591" y="276" width="15" height="5" fill="#ceecc8"/>
<rect x="606" y="276" width="16" height="5" fill="#ceecc8"/>
<rect x="84" y="281" width="14" height="5" fill="#dbf1d6"/>
<rect x="98" y="281" width="15" height="5" fill="#e7f6e3"/>
<rect x="113" y="281" width="15" height="5" fill="#dbf1d6"/>
<rect x="128" y="281" width="15" height="5" fill="#ceecc8"/>
<rect x="143" y="281" width="15" height="5" fill="#ceecc8"/>
<rect x="158" y="281" width="15" height="5" fill="#d3eecd"/>
<rect x="173" y="281" width="15" height="5" fill="#d3eecd"/>
<rect x="188" y="281" width="15" height="5" fill="#dbf1d6"/>
<rect x="203" y="281" width="15" height="5" fill="#e3f4de"/>
<rect x="218" y="281" width="15" height="5" fill="#e7f6e3"/>
<rect x="233" y="281" width="14" height="5" fill="#ceecc8"/>
<rect x="247" y="281" width="15" height="5" fill="#66bd6f"/>
<rect x="262" y="281" width="15" height="5" fill="#46ae60"/>
<rect x="277" y="281" width="15" height="5" fill="#5db96b"/>
<rect x="292" y="281" width="15" height="5" fill="#7cc87c"/>
<rect x="307" y="281" width="15" height="5" fill="#94d390"/>
<rect x="322" y="281" width="15" height="5" fill="#bee5b8"/>
<rect x="337" y="281" width="15" height="5" fill="#e7f6e3"/>
<rect x="352" y="281" width="15" height="5" fill="#e7f6e3"/>
<rect x="367" y="281" width="15" height="5" fill="#eff9ec"/>
<rect x="382" y="281" width="15" height="5" fill="#eff9ec"/>
<rect x="397" y="281" width="15" height="5" fill="#eff9ec"/>
<rect x="412" y="281" width="15" height="5" fill="#eff9ec"/>
<rect x="427" y="281" width="15" height="5" fill="#eff9ec"/>
<rect x="442" y="281" width="15" height="5" fill="#f2faf0"/>
<rect x="457" y="281" width="15" height="5" fill="#f2faf0"/>
<rect x="472" y="281" width="15" height="5" fill="#f2faf0"/>
<rect x="487" y="281" width="15" height="5" fill="#eff9ec"/>
<rect x="502" y="281" width="15" height="5" fill="#eff9ec"/>
<rect x="517" y="281" width="14" height="5" fill="#e7f6e3"/>
<rect x="531" y="281" width="15" height="5" fill="#e7f6e3"/>
<rect x="546" y="281" width="15" height="5" fill="#e7f6e3"/>
<rect x="561" y="281" width="15" height="5" fill="#ebf7e7"/>
<rect x="576" y="281" width="15" height="5" fill="#eff9ec"/>
<rect x="591" y="281" width="15" height="5" fill="#f2faf0"/>
<rect x="606" y="281" width="16" height="5" fill="#eff9ec"/>
<rect x="84" y="286" width="14" height="5" fill="#e7f6e3"/>
<rect x="98" y="286" width="15" height="5" fill="#eff9ec"/>
<rect x="113" y="286" width="15" height="5" fill="#ebf7e7"/>
<rect x="128" y="286" width="15" height="5" fill="#e7f6e3"/>
<rect x="143" y="286" width="15" height="5" fill="#ebf7e7"/>
<rect x="158" y="286" width="15" height="5" fill="#eff9ec"/>
<rect x="173" y="286" width="15" height="5" fill="#ebf7e7"/>
<rect x="188" y="286" width="15" height="5" fill="#eff9ec"/>
<rect x="203" y="286" width="15" height="5" fill="#eff9ec"/>
<rect x="218" y="286" width="15" height="5" fill="#eff9ec"/>
<rect x="233" y="286" width="14" height="5" fill="#dbf1d6"/>
<rect x="247" y="286" width="15" height="5" fill="#9cd797"/>
<rect x="262" y="286" width="15" height="5" fill="#88ce87"/>
<rect x="277" y="286" width="15" height="5" fill="#9cd797"/>
<rect x="292" y="286" width="15" height="5" fill="#9cd797"/>
<rect x="307" y="286" width="15" height="5" fill="#aedea7"/>
<rect x="322" y="286" width="15" height="5" fill="#ceecc8"/>
<rect x="337" y="286" width="15" height="5" fill="#eff9ec"/>
<rect x="352" y="286" width="15" height="5" fill="#f2faf0"/>
<rect x="367" y="286" width="15" height="5" fill="#f2faf0"/>
<rect x="382" y="286" width="15" height="5" fill="#f2faf0"/>
<rect x="397" y="286" width="15" height="5" fill="#f2faf0"/>
<rect x="412" y="286" width="15" height="5" fill="#f2faf0"/>
<rect x="427" y="286" width="15" height="5" fill="#f2faf0"/>
<rect x="442" y="286" width="15" height="5" fill="#f1faee"/>
<rect x="457" y="286" width="15" height="5" fill="#f1faee"/>
<rect x="472" y="286" width="15" height="5" fill="#f1faee"/>
<rect x="487" y="286" width="15" height="5" fill="#eff9ec"/>
<rect x="502" y="286" width="15" height="5" fill="#eff9ec"/>
<rect x="517" y="286" width="14" height="5" fill="#eff9ec"/>
<rect x="531" y="286" width="15" height="5" fill="#e7f6e3"/>
<rect x="546" y="286" width="15" height="5" fill="#e7f6e3"/>
<rect x="561" y="286" width="15" height="5" fill="#ebf7e7"/>
<rect x="576" y="286" width="15" height="5" fill="#eff9ec"/>
<rect x="591" y="286" width="15" height="5" fill="#f2faf0"/>
<rect x="606" y="286" width="16" height="5" fill="#eff9ec"/>
<rect x="84" y="291" width="14" height="5" fill="#e7f6e3"/>
<rect x="98" y="291" width="15" height="5" fill="#f2faf0"/>
<rect x="113" y="291" width="15" height="5" fill="#eff9ec"/>
<rect x="128" y="291" width="15" height="5" fill="#eff9ec"/>
<rect x="143" y="291" width="15" height="5" fill="#eff9ec"/>
<rect x="158" y="291" width="15" height="5" fill="#f2faf0"/>
<rect x="173" y="291" width="15" height="5" fill="#f2faf0"/>
<rect x="188" y="291" width="15" height="5" fill="#f2faf0"/>
<rect x="203" y="291" width="15" height="5" fill="#f2faf0"/>
<rect x="218" y="291" width="15" height="5" fill="#f2faf0"/>
<rect x="233" y="291" width="14" height="5" fill="#e7f6e3"/>
<rect x="247" y="291" width="15" height="5" fill="#bee5b8"/>
<rect x="262" y="291" width="15" height="5" fill="#aedea7"/>
<rect x="277" y="291" width="15" height="5" fill="#aedea7"/>
<rect x="292" y="291" width="15" height="5" fill="#aedea7"/>
<rect x="307" y="291" width="15" height="5" fill="#bee5b8"/>
<rect x="322" y="291" width="15" height="5" fill="#dbf1d6"/>
<rect x="337" y="291" width="15" height="5" fill="#eff9ec"/>
<rect x="352" y="291" width="15" height="5" fill="#f2faf0"/>
<rect x="367" y="291" width="15" height="5" fill="#f2faf0"/>
<rect x="382" y="291" width="15" height="5" fill="#f2faf0"/>
<rect x="397" y="291" width="15" height="5" fill="#f2faf0"/>
<rect x="412" y="291" width="15" height="5" fill="#f2faf0"/>
<rect x="427" y="291" width="15" height="5" fill="#f2faf0"/>
<rect x="442" y="291" width="15" height="5" fill="#f1faee"/>
<rect x="457" y="291" width="15" height="5" fill="#f1faee"/>
<rect x="472" y="291" width="15" height="5" fill="#f1faee"/>
<rect x="487" y="291" width="15" height="5" fill="#eff9ec"/>
<rect x="502" y="291" width="15" height="5" fill="#eff9ec"/>
<rect x="517" y="291" width="14" height="5" fill="#eff9ec"/>
<rect x="531" y="291" width="15" height="5" fill="#e7f6e3"/>
<rect x="546" y="291" width="15" height="5" fill="#e7f6e3"/>
<rect x="561" y="291" width="15" height="5" fill="#ebf7e7"/>
<rect x="576" y="291" width="15" height="5" fill="#eff9ec"/>
<rect x="591" y="291" width="15" height="5" fill="#f2faf0"/>
<rect x="606" y="291" width="16" height="5" fill="#eff9ec"/>
<rect x="84" y="296" width="14" height="5" fill="#e1f3dc"/>
<rect x="98" y="296" width="15" height="5" fill="#eff9ec"/>
<rect x="113" y="296" width="15" height="5" fill="#eff9ec"/>
<rect x="128" y="296" width="15" height="5" fill="#eff9ec"/>
<rect x="143" y="296" width="15" height="5" fill="#f2faf0"/>
<rect x="158" y="296" width="15" height="5" fill="#f2faf0"/>
<rect x="173" y="296" width="15" height="5" fill="#f2faf0"/>
<rect x="188" y="296" width="15" height="5" fill="#f2faf0"/>
<rect x="203" y="296" width="15" height="5" fill="#f2faf0"/>
<rect x="218" y="296" width="15" height="5" fill="#f2faf0"/>
<rect x="233" y="296" width="14" height="5" fill="#ebf7e7"/>
<rect x="247" y="296" width="15" height="5" fill="#d3eecd"/>
<rect x="262" y="296" width="15" height="5" fill="#ceecc8"/>
<rect x="277" y="296" width="15" height="5" fill="#c6e8bf"/>
<rect x="292" y="296" width="15" height="5" fill="#c6e8bf"/>
<rect x="307" y="296" width="15" height="5" fill="#ceecc8"/>
<rect x="322" y="296" width="15" height="5" fill="#e7f6e3"/>
<rect x="337" y="296" width="15" height="5" fill="#eff9ec"/>
<rect x="352" y="296" width="15" height="5" fill="#f2faf0"/>
<rect x="367" y="296" width="15" height="5" fill="#f2faf0"/>
<rect x="382" y="296" width="15" height="5" fill="#f2faf0"/>
<rect x="397" y="296" width="15" height="5" fill="#f2faf0"/>
<rect x="412" y="296" width="15" height="5" fill="#f2faf0"/>
<rect x="427" y="296" width="15" height="5" fill="#f2faf0"/>
<rect x="442" y="296" width="15" height="5" fill="#f1faee"/>
<rect x="457" y="296" width="15" height="5" fill="#f1faee"/>
<rect x="472" y="296" width="15" height="5" fill="#f1faee"/>
<rect x="487" y="296" width="15" height="5" fill="#eff9ec"/>
<rect x="502" y="296" width="15" height="5" fill="#eff9ec"/>
<rect x="517" y="296" width="14" height="5" fill="#eff9ec"/>
<rect x="531" y="296" width="15" height="5" fill="#e7f6e3"/>
<rect x="546" y="296" width="15" height="5" fill="#e7f6e3"/>
<rect x="561" y="296" width="15" height="5" fill="#ebf7e7"/>
<rect x="576" y="296" width="15" height="5" fill="#eff9ec"/>
<rect x="591" y="296" width="15" height="5" fill="#f2faf0"/>
<rect x="606" y="296" width="16" height="5" fill="#eff9ec"/>
<rect x="84" y="301" width="14" height="5" fill="#dbf1d6"/>
<rect x="98" y="301" width="15" height="5" fill="#eff9ec"/>
<rect x="113" y="301" width="15" height="5" fill="#eff9ec"/>
<rect x="128" y="301" width="15" height="5" fill="#eff9ec"/>
<rect x="143" y="301" width="15" height="5" fill="#f2faf0"/>
<rect x="158" y="301" width="15" height="5" fill="#f2faf0"/>
<rect x="173" y="301" width="15" height="5" fill="#f2faf0"/>
<rect x="188" y="301" width="15" height="5" fill="#f2faf0"/>
<rect x="203" y="301" width="15" height="5" fill="#f2faf0"/>
<rect x="218" y="301" width="15" height="5" fill="#f2faf0"/>
<rect x="233" y="301" width="14" height="5" fill="#e7f6e3"/>
<rect x="247" y="301" width="15" height="5" fill="#d3eecd"/>
<rect x="262" y="301" width="15" height="5" fill="#bee5b8"/>
<rect x="277" y="301" width="15" height="5" fill="#aedea7"/>
<rect x="292" y="301" width="15" height="5" fill="#b5e1ae"/>
<rect x="307" y="301" width="15" height="5" fill="#ceecc8"/>
<rect x="322" y="301" width="15" height="5" fill="#e7f6e3"/>
<rect x="337" y="301" width="15" height="5" fill="#eff9ec"/>
<rect x="352" y="301" width="15" height="5" fill="#f2faf0"/>
<rect x="367" y="301" width="15" height="5" fill="#f2faf0"/>
<rect x="382" y="301" width="15" height="5" fill="#f2faf0"/>
<rect x="397" y="301" width="15" height="5" fill="#f2faf0"/>
<rect x="412" y="301" width="15" height="5" fill="#f2faf0"/>
<rect x="427" y="301" width="15" height="5" fill="#f2faf0"/>
<rect x="442" y="301" width="15" height="5" fill="#f1faee"/>
<rect x="457" y="301" width="15" height="5" fill="#f1faee"/>
<rect x="472" y="301" width="15" height="5" fill="#f1faee"/>
<rect x="487" y="301" width="15" height="5" fill="#f2faf0"/>
<rect x="502" y="301" width="15" height="5" fill="#eff9ec"/>
<rect x="517" y="301" width="14" height="5" fill="#ebf7e7"/>
<rect x="531" y="301" width="15" height="5" fill="#e7f6e3"/>
<rect x="546" y="301" width="15" height="5" fill="#e7f6e3"/>
<rect x="561" y="301" width="15" height="5" fill="#eff9ec"/>
<rect x="576" y="301" width="15" height="5" fill="#f2faf0"/>
<rect x="591" y="301" width="15" height="5" fill="#f2faf0"/>
<rect x="606" y="301" width="16" height="5" fill="#eff9ec"/>
<rect x="84" y="306" width="14" height="5" fill="#bee5b8"/>
<rect x="98" y="306" width="15" height="5" fill="#e3f4de"/>
<rect x="113" y="306" width="15" height="5" fill="#eff9ec"/>
<rect x="128" y="306" width="15" height="5" fill="#eff9ec"/>
<rect x="143" y="306" width="15" height="5" fill="#eff9ec"/>
<rect x="158" y="306" width="15" height="5" fill="#f2faf0"/>
<rect x="173" y="306" width="15" height="5" fill="#f2faf0"/>
<rect x="188" y="306" width="15" height="5" fill="#eff9ec"/>
<rect x="203" y="306" width="15" height="5" fill="#ebf7e7"/>
<rect x="218" y="306" width="15" height="5" fill="#e7f6e3"/>
<rect x="233" y="306" width="14" height="5" fill="#d3eecd"/>
<rect x="247" y="306" width="15" height="5" fill="#aedea7"/>
<rect x="262" y="306" width="15" height="5" fill="#88ce87"/>
<rect x="277" y="306" width="15" height="5" fill="#88ce87"/>
<rect x="292" y="306" width="15" height="5" fill="#b5e1ae"/>
<rect x="307" y="306" width="15" height="5" fill="#e1f3dc"/>
<rect x="322" y="306" width="15" height="5" fill="#ebf7e7"/>
<rect x="337" y="306" width="15" height="5" fill="#e7f6e3"/>
<rect x="352" y="306" width="15" height="5" fill="#e7f6e3"/>
<rect x="367" y="306" width="15" height="5" fill="#ebf7e7"/>
<rect x="382" y="306" width="15" height="5" fill="#ebf7e7"/>
<rect x="397" y="306" width="15" height="5" fill="#ebf7e7"/>
<rect x="412" y="306" width="15" height="5" fill="#ebf7e7"/>
<rect x="427" y="306" width="15" height="5" fill="#ebf7e7"/>
<rect x="442" y="306" width="15" height="5" fill="#eff9ec"/>
<rect x="457" y="306" width="15" height="5" fill="#eff9ec"/>
<rect x="472" y="306" width="15" height="5" fill="#eff9ec"/>
<rect x="487" y="306" width="15" height="5" fill="#eff9ec"/>
<rect x="502" y="306" width="15" height="5" fill="#eff9ec"/>
<rect x="517" y="306" width="14" height="5" fill="#e7f6e3"/>
<rect x="531" y="306" width="15" height="5" fill="#ceecc8"/>
<rect x="546" y="306" width="15" height="5" fill="#ceecc8"/>
<rect x="561" y="306" width="15" height="5" fill="#ebf7e7"/>
<rect x="576" y="306" width="15" height="5" fill="#eff9ec"/>
<rect x="591" y="306" width="15" height="5" fill="#eff9ec"/>
<rect x="606" y="306" width="16" height="5" fill="#eff9ec"/>
<rect x="84" y="311" width="14" height="5" fill="#b5e1ae"/>
<rect x="98" y="311" width="15" height="5" fill="#dbf1d6"/>
<rect x="113" y="311" width="15" height="5" fill="#ebf7e7"/>
<rect x="128" y="311" width="15" height="5" fill="#eff9ec"/>
<rect x="143" y="311" width="15" height="5" fill="#eff9ec"/>
<rect x="158" y="311" width="15" height="5" fill="#eff9ec"/>
<rect x="173" y="311" width="15" height="5" fill="#eff9ec"/>
<rect x="188" y="311" width="15" height="5" fill="#ebf7e7"/>
<rect x="203" y="311" width="15" height="5" fill="#e7f6e3"/>
<rect x="218" y="311" width="15" height="5" fill="#dbf1d6"/>
<rect x="233" y="311" width="14" height="5" fill="#bee5b8"/>
<rect x="247" y="311" width="15" height="5" fill="#88ce87"/>
<rect x="262" y="311" width="15" height="5" fill="#5db96b"/>
<rect x="277" y="311" width="15" height="5" fill="#66bd6f"/>
<rect x="292" y="311" width="15" height="5" fill="#a4da9e"/>
<rect x="307" y="311" width="15" height="5" fill="#dbf1d6"/>
<rect x="322" y="311" width="15" height="5" fill="#e7f6e3"/>
<rect x="337" y="311" width="15" height="5" fill="#e7f6e3"/>
<rect x="352" y="311" width="15" height="5" fill="#e7f6e3"/>
<rect x="367" y="311" width="15" height="5" fill="#ebf7e7"/>
<rect x="382" y="311" width="15" height="5" fill="#ebf7e7"/>
<rect x="397" y="311" width="15" height="5" fill="#ebf7e7"/>
<rect x="412" y="311" width="15" height="5" fill="#ebf7e7"/>
<rect x="427" y="311" width="15" height="5" fill="#ebf7e7"/>
<rect x="442" y="311" width="15" height="5" fill="#ebf7e7"/>
<rect x="457" y="311" width="15" height="5" fill="#ebf7e7"/>
<rect x="472" y="311" width="15" height="5" fill="#ebf7e7"/>
<rect x="487" y="311" width="15" height="5" fill="#eff9ec"/>
<rect x="502" y="311" width="15" height="5" fill="#dbf1d6"/>
<rect x="517" y="311" width="14" height="5" fill="#bee5b8"/>
<rect x="531" y="311" width="15" height="5" fill="#aedea7"/>
<rect x="546" y="311" width="15" height="5" fill="#b5e1ae"/>
<rect x="561" y="311" width="15" height="5" fill="#e1f3dc"/>
<rect x="576" y="311" width="15" height="5" fill="#eff9ec"/>
<rect x="591" y="311" width="15" height="5" fill="#eff9ec"/>
<rect x="606" y="311" width="16" height="5" fill="#eff9ec"/>
<rect x="84" y="316" width="14" height="5" fill="#aedea7"/>
<rect x="98" y="316" width="15" height="5" fill="#d3eecd"/>
<rect x="113" y="316" width="15" height="5" fill="#e7f6e3"/>
<rect x="128" y="316" width="15" height="5" fill="#eff9ec"/>
<rect x="143" y="316" width="15" height="5" fill="#eff9ec"/>
<rect x="158" y="316" width="15" height="5" fill="#ebf7e7"/>
<rect x="173" y="316" width="15" height="5" fill="#ebf7e7"/>
<rect x="188" y="316" width="15" height="5" fill="#e7f6e3"/>
<rect x="203" y="316" width="15" height="5" fill="#dbf1d6"/>
<rect x="218" y="316" width="15" height="5" fill="#c6e8bf"/>
<rect x="233" y="316" width="14" height="5" fill="#a4da9e"/>
<rect x="247" y="316" width="15" height="5" fill="#66bd6f"/>
<rect x="262" y="316" width="15" height="5" fill="#37a055"/>
<rect x="277" y="316" width="15" height="5" fill="#46ae60"/>
<rect x="292" y="316" width="15" height="5" fill="#90d18d"/>
<rect x="307" y="316" width="15" height="5" fill="#d3eecd"/>
<rect x="322" y="316" width="15" height="5" fill="#e7f6e3"/>
<rect x="337" y="316" width="15" height="5" fill="#e1f3dc"/>
<rect x="352" y="316" width="15" height="5" fill="#e7f6e3"/>
<rect x="367" y="316" width="15" height="5" fill="#ebf7e7"/>
<rect x="382" y="316" width="15" height="5" fill="#ebf7e7"/>
<rect x="397" y="316" width="15" height="5" fill="#ebf7e7"/>
<rect x="412" y="316" width="15" height="5" fill="#ebf7e7"/>
<rect x="427" y="316" width="15" height="5" fill="#ebf7e7"/>
<rect x="442" y="316" width="15" height="5" fill="#ebf7e7"/>
<rect x="457" y="316" width="15" height="5" fill="#ebf7e7"/>
<rect x="472" y="316" width="15" height="5" fill="#e7f6e3"/>
<rect x="487" y="316" width="15" height="5" fill="#ebf7e7"/>
<rect x="502" y="316" width="15" height="5" fill="#d3eecd"/>
<rect x="517" y="316" width="14" height="5" fill="#aedea7"/>
<rect x="531" y="316" width="15" height="5" fill="#9cd797"/>
<rect x="546" y="316" width="15" height="5" fill="#aedea7"/>
<rect x="561" y="316" width="15" height="5" fill="#dbf1d6"/>
<rect x="576" y="316" width="15" height="5" fill="#eff9ec"/>
<rect x="591" y="316" width="15" height="5" fill="#eff9ec"/>
<rect x="606" y="316" width="16" height="5" fill="#eff9ec"/>
<rect x="84" y="321" width="14" height="4" fill="#aedea7"/>
<rect x="98" y="321" width="15" height="4" fill="#d3eecd"/>
<rect x="113" y="321" width="15" height="4" fill="#e7f6e3"/>
<rect x="128" y="321" width="15" height="4" fill="#ebf7e7"/>
<rect x="143" y="321" width="15" height="4" fill="#ebf7e7"/>
<rect x="158" y="321" width="15" height="4" fill="#ebf7e7"/>
<rect x="173" y="321" width="15" height="4" fill="#e7f6e3"/>
<rect x="188" y="321" width="15" height="4" fill="#e3f4de"/>
<rect x="203" y="321" width="15" height="4" fill="#ceecc8"/>
<rect x="218" y="321" width="15" height="4" fill="#aedea7"/>
<rect x="233" y="321" width="14" height="4" fill="#80ca80"/>
<rect x="247" y="321" width="15" height="4" fill="#46ae60"/>
<rect x="262" y="321" width="15" height="4" fill="#2f974e"/>
<rect x="277" y="321" width="15" height="4" fill="#37a055"/>
<rect x="292" y="321" width="15" height="4" fill="#73c476"/>
<rect x="307" y="321" width="15" height="4" fill="#ceecc8"/>
<rect x="322" y="321" width="15" height="4" fill="#e7f6e3"/>
<rect x="337" y="321" width="15" height="4" fill="#e1f3dc"/>
<rect x="352" y="321" width="15" height="4" fill="#e7f6e3"/>
<rect x="367" y="321" width="15" height="4" fill="#ebf7e7"/>
<rect x="382" y="321" width="15" height="4" fill="#ebf7e7"/>
<rect x="397" y="321" width="15" height="4" fill="#ebf7e7"/>
<rect x="412" y="321" width="15" height="4" fill="#ebf7e7"/>
<rect x="427" y="321" width="15" height="4" fill="#ebf7e7"/>
<rect x="442" y="321" width="15" height="4" fill="#ebf7e7"/>
<rect x="457" y="321" width="15" height="4" fill="#ebf7e7"/>
<rect x="472" y="321" width="15" height="4" fill="#e7f6e3"/>
<rect x="487" y="321" width="15" height="4" fill="#ebf7e7"/>
<rect x="502" y="321" width="15" height="4" fill="#d3eecd"/>
<rect x="517" y="321" width="14" height="4" fill="#aedea7"/>
<rect x="531" y="321" width="15" height="4" fill="#9cd797"/>
<rect x="546" y="321" width="15" height="4" fill="#aedea7"/>
<rect x="561" y="321" width="15" height="4" fill="#dbf1d6"/>
<rect x="576" y="321" width="15" height="4" fill="#eff9ec"/>
<rect x="591" y="321" width="15" height="4" fill="#eff9ec"/>
<rect x="606" y="321" width="16" height="4" fill="#eff9ec"/>
<rect x="84" y="325" width="14" height="5" fill="#a7dba0"/>
<rect x="98" y="325" width="15" height="5" fill="#d3eecd"/>
<rect x="113" y="325" width="15" height="5" fill="#e7f6e3"/>
<rect x="128" y="325" width="15" height="5" fill="#ebf7e7"/>
<rect x="143" y="325" width="15" height="5" fill="#e7f6e3"/>
<rect x="158" y="325" width="15" height="5" fill="#e7f6e3"/>
<rect x="173" y="325" width="15" height="5" fill="#e1f3dc"/>
<rect x="188" y="325" width="15" height="5" fill="#d3eecd"/>
<rect x="203" y="325" width="15" height="5" fill="#bee5b8"/>
<rect x="218" y="325" width="15" height="5" fill="#98d594"/>
<rect x="233" y="325" width="14" height="5" fill="#66bd6f"/>
<rect x="247" y="325" width="15" height="5" fill="#319a50"/>
<rect x="262" y="325" width="15" height="5" fill="#218944"/>
<rect x="277" y="325" width="15" height="5" fill="#278f48"/>
<rect x="292" y="325" width="15" height="5" fill="#5db96b"/>
<rect x="307" y="325" width="15" height="5" fill="#bee5b8"/>
<rect x="322" y="325" width="15" height="5" fill="#e7f6e3"/>
<rect x="337" y="325" width="15" height="5" fill="#e1f3dc"/>
<rect x="352" y="325" width="15" height="5" fill="#e7f6e3"/>
<rect x="367" y="325" width="15" height="5" fill="#ebf7e7"/>
<rect x="382" y="325" width="15" height="5" fill="#ebf7e7"/>
<rect x="397" y="325" width="15" height="5" fill="#ebf7e7"/>
<rect x="412" y="325" width="15" height="5" fill="#ebf7e7"/>
<rect x="427" y="325" width="15" height="5" fill="#ebf7e7"/>
<rect x="442" y="325" width="15" height="5" fill="#ebf7e7"/>
<rect x="457" y="325" width="15" height="5" fill="#ebf7e7"/>
<rect x="472" y="325" width="15" height="5" fill="#e7f6e3"/>
<rect x="487" y="325" width="15" height="5" fill="#ebf7e7"/>
<rect x="502" y="325" width="15" height="5" fill="#dbf1d6"/>
<rect x="517" y="325" width="14" height="5" fill="#bee5b8"/>
<rect x="531" y="325" width="15" height="5" fill="#aedea7"/>
<rect x="546" y="325" width="15" height="5" fill="#bee5b8"/>
<rect x="561" y="325" width="15" height="5" fill="#e1f3dc"/>
<rect x="576" y="325" width="15" height="5" fill="#eff9ec"/>
<rect x="591" y="325" width="15" height="5" fill="#eff9ec"/>
<rect x="606" y="325" width="16" height="5" fill="#eff9ec"/>
<rect x="84" y="330" width="14" height="5" fill="#aedea7"/>
<rect x="98" y="330" width="15" height="5" fill="#d3eecd"/>
<rect x="113" y="330" width="15" height="5" fill="#e7f6e3"/>
<rect x="128" y="330" width="15" height="5" fill="#e7f6e3"/>
<rect x="143" y="330" width="15" height="5" fill="#e7f6e3"/>
<rect x="158" y="330" width="15" height="5" fill="#e1f3dc"/>
<rect x="173" y="330" width="15" height="5" fill="#dbf1d6"/>
<rect x="188" y="330" width="15" height="5" fill="#ceecc8"/>
<rect x="203" y="330" width="15" height="5" fill="#aedea7"/>
<rect x="218" y="330" width="15" height="5" fill="#90d18d"/>
<rect x="233" y="330" width="14" height="5" fill="#5db96b"/>
<rect x="247" y="330" width="15" height="5" fill="#319a50"/>
<rect x="262" y="330" width="15" height="5" fill="#1a843f"/>
<rect x="277" y="330" width="15" height="5" fill="#157f3b"/>
<rect x="292" y="330" width="15" height="5" fill="#37a055"/>
<rect x="307" y="330" width="15" height="5" fill="#aedea7"/>
<rect x="322" y="330" width="15" height="5" fill="#e3f4de"/>
<rect x="337" y="330" width="15" height="5" fill="#e1f3dc"/>
<rect x="352" y="330" width="15" height="5" fill="#e7f6e3"/>
<rect x="367" y="330" width="15" height="5" fill="#ebf7e7"/>
<rect x="382" y="330" width="15" height="5" fill="#ebf7e7"/>
<rect x="397" y="330" width="15" height="5" fill="#ebf7e7"/>
<rect x="412" y="330" width="15" height="5" fill="#ebf7e7"/>
<rect x="427" y="330" width="15" height="5" fill="#ebf7e7"/>
<rect x="442" y="330" width="15" height="5" fill="#ebf7e7"/>
<rect x="457" y="330" width="15" height="5" fill="#ebf7e7"/>
<rect x="472" y="330" width="15" height="5" fill="#e7f6e3"/>
<rect x="487" y="330" width="15" height="5" fill="#eff9ec"/>
<rect x="502" y="330" width="15" height="5" fill="#e7f6e3"/>
<rect x="517" y="330" width="14" height="5" fill="#dbf1d6"/>
<rect x="531" y="330" width="15" height="5" fill="#dbf1d6"/>
<rect x="546" y="330" width="15" height="5" fill="#e1f3dc"/>
<rect x="561" y="330" width="15" height="5" fill="#e7f6e3"/>
<rect x="576" y="330" width="15" height="5" fill="#eff9ec"/>
<rect x="591" y="330" width="15" height="5" fill="#eff9ec"/>
<rect x="606" y="330" width="16" height="5" fill="#eff9ec"/>
<rect x="84" y="335" width="14" height="5" fill="#d3eecd"/>
<rect x="98" y="335" width="15" height="5" fill="#dbf1d6"/>
<rect x="113" y="335" width="15" height="5" fill="#e7f6e3"/>
<rect x="128" y="335" width="15" height="5" fill="#e7f6e3"/>
<rect x="143" y="335" width="15" height="5" fill="#e7f6e3"/>
<rect x="158" y="335" width="15" height="5" fill="#e1f3dc"/>
<rect x="173" y="335" width="15" height="5" fill="#d3eecd"/>
<rect x="188" y="335" width="15" height="5" fill="#c9eac2"/>
<rect x="203" y="335" width="15" height="5" fill="#aedea7"/>
<rect x="218" y="335" width="15" height="5" fill="#88ce87"/>
<rect x="233" y="335" width="14" height="5" fill="#55b567"/>
<rect x="247" y="335" width="15" height="5" fill="#2f974e"/>
<rect x="262" y="335" width="15" height="5" fill="#127c39"/>
<rect x="277" y="335" width="15" height="5" fill="#006027"/>
<rect x="292" y="335" width="15" height="5" fill="#0e7936"/>
<rect x="307" y="335" width="15" height="5" fill="#66bd6f"/>
<rect x="322" y="335" width="15" height="5" fill="#bee5b8"/>
<rect x="337" y="335" width="15" height="5" fill="#dbf1d6"/>
<rect x="352" y="335" width="15" height="5" fill="#e7f6e3"/>
<rect x="367" y="335" width="15" height="5" fill="#ebf7e7"/>
<rect x="382" y="335" width="15" height="5" fill="#ebf7e7"/>
<rect x="397" y="335" width="15" height="5" fill="#ebf7e7"/>
<rect x="412" y="335" width="15" height="5" fill="#ebf7e7"/>
<rect x="427" y="335" width="15" height="5" fill="#ebf7e7"/>
<rect x="442" y="335" width="15" height="5" fill="#ebf7e7"/>
<rect x="457" y="335" width="15" height="5" fill="#ebf7e7"/>
<rect x="472" y="335" width="15" height="5" fill="#ebf7e7"/>
<rect x="487" y="335" width="15" height="5" fill="#eff9ec"/>
<rect x="502" y="335" width="15" height="5" fill="#ebf7e7"/>
<rect x="517" y="335" width="14" height="5" fill="#e7f6e3"/>
<rect x="531" y="335" width="15" height="5" fill="#e3f4de"/>
<rect x="546" y="335" width="15" height="5" fill="#e5f5e1"/>
<rect x="561" y="335" width="15" height="5" fill="#e7f6e3"/>
<rect x="576" y="335" width="15" height="5" fill="#eff9ec"/>
<rect x="591" y="335" width="15" height="5" fill="#eff9ec"/>
<rect x="606" y="335" width="16" height="5" fill="#eff9ec"/>
<rect x="84" y="340" width="14" height="5" fill="#ebf7e7"/>
<rect x="98" y="340" width="15" height="5" fill="#dbf1d6"/>
<rect x="113" y="340" width="15" height="5" fill="#e1f3dc"/>
<rect x="128" y="340" width="15" height="5" fill="#e3f4de"/>
<rect x="143" y="340" width="15" height="5" fill="#e3f4de"/>
<rect x="158" y="340" width="15" height="5" fill="#e1f3dc"/>
<rect x="173" y="340" width="15" height="5" fill="#ceecc8"/>
<rect x="188" y="340" width="15" height="5" fill="#c9eac2"/>
<rect x="203" y="340" width="15" height="5" fill="#aedea7"/>
<rect x="218" y="340" width="15" height="5" fill="#80ca80"/>
<rect x="233" y="340" width="14" height="5" fill="#4bb062"/>
<rect x="247" y="340" width="15" height="5" fill="#2a924a"/>
<rect x="262" y="340" width="15" height="5" fill="#127c39"/>
<rect x="277" y="340" width="15" height="5" fill="#005a24"/>
<rect x="292" y="340" width="15" height="5" fill="#006c2c"/>
<rect x="307" y="340" width="15" height="5" fill="#319a50"/>
<rect x="322" y="340" width="15" height="5" fill="#9cd797"/>
<rect x="337" y="340" width="15" height="5" fill="#ceecc8"/>
<rect x="352" y="340" width="15" height="5" fill="#e7f6e3"/>
<rect x="367" y="340" width="15" height="5" fill="#ebf7e7"/>
<rect x="382" y="340" width="15" height="5" fill="#ebf7e7"/>
<rect x="397" y="340" width="15" height="5" fill="#ebf7e7"/>
<rect x="412" y="340" width="15" height="5" fill="#ebf7e7"/>
<rect x="427" y="340" width="15" height="5" fill="#ebf7e7"/>
<rect x="442" y="340" width="15" height="5" fill="#eff9ec"/>
<rect x="457" y="340" width="15" height="5" fill="#eff9ec"/>
<rect x="472" y="340" width="15" height="5" fill="#eff9ec"/>
<rect x="487" y="340" width="15" height="5" fill="#eff9ec"/>
<rect x="502" y="340" width="15" height="5" fill="#eff9ec"/>
<rect x="517" y="340" width="14" height="5" fill="#ebf7e7"/>
<rect x="531" y="340" width="15" height="5" fill="#ebf7e7"/>
<rect x="546" y="340" width="15" height="5" fill="#ebf7e7"/>
<rect x="561" y="340" width="15" height="5" fill="#e7f6e3"/>
<rect x="576" y="340" width="15" height="5" fill="#ebf7e7"/>
<rect x="591" y="340" width="15" height="5" fill="#ebf7e7"/>
<rect x="606" y="340" width="16" height="5" fill="#ebf7e7"/>
<rect x="84" y="345" width="14" height="5" fill="#ebf7e7"/>
<rect x="98" y="345" width="15" height="5" fill="#dbf1d6"/>
<rect x="113" y="345" width="15" height="5" fill="#dbf1d6"/>
<rect x="128" y="345" width="15" height="5" fill="#e3f4de"/>
<rect x="143" y="345" width="15" height="5" fill="#e3f4de"/>
<rect x="158" y="345" width="15" height="5" fill="#e1f3dc"/>
<rect x="173" y="345" width="15" height="5" fill="#ceecc8"/>
<rect x="188" y="345" width="15" height="5" fill="#c9eac2"/>
<rect x="203" y="345" width="15" height="5" fill="#aedea7"/>
<rect x="218" y="345" width="15" height="5" fill="#66bd6f"/>
<rect x="233" y="345" width="14" height="5" fill="#37a055"/>
<rect x="247" y="345" width="15" height="5" fill="#218944"/>
<rect x="262" y="345" width="15" height="5" fill="#127c39"/>
<rect x="277" y="345" width="15" height="5" fill="#005c25"/>
<rect x="292" y="345" width="15" height="5" fill="#006c2c"/>
<rect x="307" y="345" width="15" height="5" fill="#319a50"/>
<rect x="322" y="345" width="15" height="5" fill="#90d18d"/>
<rect x="337" y="345" width="15" height="5" fill="#ceecc8"/>
<rect x="352" y="345" width="15" height="5" fill="#e7f6e3"/>
<rect x="367" y="345" width="15" height="5" fill="#ebf7e7"/>
<rect x="382" y="345" width="15" height="5" fill="#ebf7e7"/>
<rect x="397" y="345" width="15" height="5" fill="#ebf7e7"/>
<rect x="412" y="345" width="15" height="5" fill="#ebf7e7"/>
<rect x="427" y="345" width="15" height="5" fill="#ebf7e7"/>
<rect x="442" y="345" width="15" height="5" fill="#eff9ec"/>
<rect x="457" y="345" width="15" height="5" fill="#eff9ec"/>
<rect x="472" y="345" width="15" height="5" fill="#eff9ec"/>
<rect x="487" y="345" width="15" height="5" fill="#eff9ec"/>
<rect x="502" y="345" width="15" height="5" fill="#e7f6e3"/>
<rect x="517" y="345" width="14" height="5" fill="#e7f6e3"/>
<rect x="531" y="345" width="15" height="5" fill="#ebf7e7"/>
<rect x="546" y="345" width="15" height="5" fill="#ebf7e7"/>
<rect x="561" y="345" width="15" height="5" fill="#e7f6e3"/>
<rect x="576" y="345" width="15" height="5" fill="#ebf7e7"/>
<rect x="591" y="345" width="15" height="5" fill="#ebf7e7"/>
<rect x="606" y="345" width="16" height="5" fill="#ebf7e7"/>
<rect x="84" y="350" width="14" height="5" fill="#e1f3dc"/>
<rect x="98" y="350" width="15" height="5" fill="#e1f3dc"/>
<rect x="113" y="350" width="15" height="5" fill="#e1f3dc"/>
<rect x="128" y="350" width="15" height="5" fill="#e1f3dc"/>
<rect x="143" y="350" width="15" height="5" fill="#e1f3dc"/>
<rect x="158" y="350" width="15" height="5" fill="#dbf1d6"/>
<rect x="173" y="350" width="15" height="5" fill="#ceecc8"/>
<rect x="188" y="350" width="15" height="5" fill="#c9eac2"/>
<rect x="203" y="350" width="15" height="5" fill="#aedea7"/>
<rect x="218" y="350" width="15" height="5" fill="#5db96b"/>
<rect x="233" y="350" width="14" height="5" fill="#2f974e"/>
<rect x="247" y="350" width="15" height="5" fill="#218944"/>
<rect x="262" y="350" width="15" height="5" fill="#127c39"/>
<rect x="277" y="350" width="15" height="5" fill="#006027"/>
<rect x="292" y="350" width="15" height="5" fill="#006c2c"/>
<rect x="307" y="350" width="15" height="5" fill="#2f974e"/>
<rect x="322" y="350" width="15" height="5" fill="#90d18d"/>
<rect x="337" y="350" width="15" height="5" fill="#ceecc8"/>
<rect x="352" y="350" width="15" height="5" fill="#e7f6e3"/>
<rect x="367" y="350" width="15" height="5" fill="#f2faef"/>
<rect x="382" y="350" width="15" height="5" fill="#f2faef"/>
<rect x="397" y="350" width="15" height="5" fill="#f2faef"/>
<rect x="412" y="350" width="15" height="5" fill="#f2faef"/>
<rect x="427" y="350" width="15" height="5" fill="#f2faef"/>
<rect x="442" y="350" width="15" height="5" fill="#eff9ec"/>
<rect x="457" y="350" width="15" height="5" fill="#eff9ec"/>
<rect x="472" y="350" width="15" height="5" fill="#eff9ec"/>
<rect x="487" y="350" width="15" height="5" fill="#eff9ec"/>
<rect x="502" y="350" width="15" height="5" fill="#e7f6e3"/>
<rect x="517" y="350" width="14" height="5" fill="#e7f6e3"/>
<rect x="531" y="350" width="15" height="5" fill="#ebf7e7"/>
<rect x="546" y="350" width="15" height="5" fill="#ebf7e7"/>
<rect x="561" y="350" width="15" height="5" fill="#e7f6e3"/>
<rect x="576" y="350" width="15" height="5" fill="#ebf7e7"/>
<rect x="591" y="350" width="15" height="5" fill="#ebf7e7"/>
<rect x="606" y="350" width="16" height="5" fill="#ebf7e7"/>
<rect x="84" y="355" width="14" height="5" fill="#d3eecd"/>
<rect x="98" y="355" width="15" height="5" fill="#e3f4de"/>
<rect x="113" y="355" width="15" height="5" fill="#e3f4de"/>
<rect x="128" y="355" width="15" height="5" fill="#dbf1d6"/>
<rect x="143" y="355" width="15" height="5" fill="#dbf1d6"/>
<rect x="158" y="355" width="15" height="5" fill="#dbf1d6"/>
<rect x="173" y="355" width="15" height="5" fill="#ceecc8"/>
<rect x="188" y="355" width="15" height="5" fill="#ceecc8"/>
<rect x="203" y="355" width="15" height="5" fill="#aedea7"/>
<rect x="218" y="355" width="15" height="5" fill="#5db96b"/>
<rect x="233" y="355" width="14" height="5" fill="#2f974e"/>
<rect x="247" y="355" width="15" height="5" fill="#218944"/>
<rect x="262" y="355" width="15" height="5" fill="#127c39"/>
<rect x="277" y="355" width="15" height="5" fill="#005c25"/>
<rect x="292" y="355" width="15" height="5" fill="#006c2c"/>
<rect x="307" y="355" width="15" height="5" fill="#2f974e"/>
<rect x="322" y="355" width="15" height="5" fill="#90d18d"/>
<rect x="337" y="355" width="15" height="5" fill="#d3eecd"/>
<rect x="352" y="355" width="15" height="5" fill="#e7f6e3"/>
<rect x="367" y="355" width="15" height="5" fill="#f2faef"/>
<rect x="382" y="355" width="15" height="5" fill="#f2faef"/>
<rect x="397" y="355" width="15" height="5" fill="#f2faef"/>
<rect x="412" y="355" width="15" height="5" fill="#f2faef"/>
<rect x="427" y="355" width="15" height="5" fill="#f2faef"/>
<rect x="442" y="355" width="15" height="5" fill="#f2faef"/>
<rect x="457" y="355" width="15" height="5" fill="#f2faef"/>
<rect x="472" y="355" width="15" height="5" fill="#f2faef"/>
<rect x="487" y="355" width="15" height="5" fill="#eff9ec"/>
<rect x="502" y="355" width="15" height="5" fill="#eff9ec"/>
<rect x="517" y="355" width="14" height="5" fill="#eff9ec"/>
<rect x="531" y="355" width="15" height="5" fill="#eff9ec"/>
<rect x="546" y="355" width="15" height="5" fill="#eff9ec"/>
<rect x="561" y="355" width="15" height="5" fill="#e7f6e3"/>
<rect x="576" y="355" width="15" height="5" fill="#dbf1d6"/>
<rect x="591" y="355" width="15" height="5" fill="#dbf1d6"/>
<rect x="606" y="355" width="16" height="5" fill="#ebf7e7"/>
<rect x="84" y="360" width="14" height="5" fill="#d3eecd"/>
<rect x="98" y="360" width="15" height="5" fill="#e3f4de"/>
<rect x="113" y="360" width="15" height="5" fill="#e1f3dc"/>
<rect x="128" y="360" width="15" height="5" fill="#dbf1d6"/>
<rect x="143" y="360" width="15" height="5" fill="#dbf1d6"/>
<rect x="158" y="360" width="15" height="5" fill="#dbf1d6"/>
<rect x="173" y="360" width="15" height="5" fill="#ceecc8"/>
<rect x="188" y="360" width="15" height="5" fill="#ceecc8"/>
<rect x="203" y="360" width="15" height="5" fill="#aedea7"/>
<rect x="218" y="360" width="15" height="5" fill="#5db96b"/>
<rect x="233" y="360" width="14" height="5" fill="#2f974e"/>
<rect x="247" y="360" width="15" height="5" fill="#218944"/>
<rect x="262" y="360" width="15" height="5" fill="#127c39"/>
<rect x="277" y="360" width="15" height="5" fill="#005a24"/>
<rect x="292" y="360" width="15" height="5" fill="#006c2c"/>
<rect x="307" y="360" width="15" height="5" fill="#319a50"/>
<rect x="322" y="360" width="15" height="5" fill="#90d18d"/>
<rect x="337" y="360" width="15" height="5" fill="#d3eecd"/>
<rect x="352" y="360" width="15" height="5" fill="#e7f6e3"/>
<rect x="367" y="360" width="15" height="5" fill="#f2faef"/>
<rect x="382" y="360" width="15" height="5" fill="#f2faef"/>
<rect x="397" y="360" width="15" height="5" fill="#f2faef"/>
<rect x="412" y="360" width="15" height="5" fill="#f2faef"/>
<rect x="427" y="360" width="15" height="5" fill="#f2faef"/>
<rect x="442" y="360" width="15" height="5" fill="#f2faef"/>
<rect x="457" y="360" width="15" height="5" fill="#f2faef"/>
<rect x="472" y="360" width="15" height="5" fill="#f2faef"/>
<rect x="487" y="360" width="15" height="5" fill="#eff9ec"/>
<rect x="502" y="360" width="15" height="5" fill="#eff9ec"/>
<rect x="517" y="360" width="14" height="5" fill="#eff9ec"/>
<rect x="531" y="360" width="15" height="5" fill="#eff9ec"/>
<rect x="546" y="360" width="15" height="5" fill="#eff9ec"/>
<rect x="561" y="360" width="15" height="5" fill="#e7f6e3"/>
<rect x="576" y="360" width="15" height="5" fill="#dbf1d6"/>
<rect x="591" y="360" width="15" height="5" fill="#dbf1d6"/>
<rect x="606" y="360" width="16" height="5" fill="#ebf7e7"/>
<rect x="84" y="365" width="14" height="5" fill="#dbf1d6"/>
<rect x="98" y="365" width="15" height="5" fill="#e1f3dc"/>
<rect x="113" y="365" width="15" height="5" fill="#dbf1d6"/>
<rect x="128" y="365" width="15" height="5" fill="#dbf1d6"/>
<rect x="143" y="365" width="15" height="5" fill="#e1f3dc"/>
<rect x="158" y="365" width="15" height="5" fill="#dbf1d6"/>
<rect x="173" y="365" width="15" height="5" fill="#ceecc8"/>
<rect x="188" y="365" width="15" height="5" fill="#ceecc8"/>
<rect x="203" y="365" width="15" height="5" fill="#aedea7"/>
<rect x="218" y="365" width="15" height="5" fill="#5db96b"/>
<rect x="233" y="365" width="14" height="5" fill="#2a924a"/>
<rect x="247" y="365" width="15" height="5" fill="#1a843f"/>
<rect x="262" y="365" width="15" height="5" fill="#127c39"/>
<rect x="277" y="365" width="15" height="5" fill="#005c25"/>
<rect x="292" y="365" width="15" height="5" fill="#026f2e"/>
<rect x="307" y="365" width="15" height="5" fill="#46ae60"/>
<rect x="322" y="365" width="15" height="5" fill="#bee5b8"/>
<rect x="337" y="365" width="15" height="5" fill="#e7f6e3"/>
<rect x="352" y="365" width="15" height="5" fill="#e7f6e3"/>
<rect x="367" y="365" width="15" height="5" fill="#f2faef"/>
<rect x="382" y="365" width="15" height="5" fill="#f2faef"/>
<rect x="397" y="365" width="15" height="5" fill="#f2faef"/>
<rect x="412" y="365" width="15" height="5" fill="#f2faef"/>
<rect x="427" y="365" width="15" height="5" fill="#f2faef"/>
<rect x="442" y="365" width="15" height="5" fill="#f2faef"/>
<rect x="457" y="365" width="15" height="5" fill="#f2faef"/>
<rect x="472" y="365" width="15" height="5" fill="#f2faef"/>
<rect x="487" y="365" width="15" height="5" fill="#eff9ec"/>
<rect x="502" y="365" width="15" height="5" fill="#eff9ec"/>
<rect x="517" y="365" width="14" height="5" fill="#eff9ec"/>
<rect x="531" y="365" width="15" height="5" fill="#eff9ec"/>
<rect x="546" y="365" width="15" height="5" fill="#eff9ec"/>
<rect x="561" y="365" width="15" height="5" fill="#e7f6e3"/>
<rect x="576" y="365" width="15" height="5" fill="#dbf1d6"/>
<rect x="591" y="365" width="15" height="5" fill="#dbf1d6"/>
<rect x="606" y="365" width="16" height="5" fill="#ebf7e7"/>
<rect x="84" y="370" width="14" height="5" fill="#dbf1d6"/>
<rect x="98" y="370" width="15" height="5" fill="#e3f4de"/>
<rect x="113" y="370" width="15" height="5" fill="#dbf1d6"/>
<rect x="128" y="370" width="15" height="5" fill="#dbf1d6"/>
<rect x="143" y="370" width="15" height="5" fill="#dbf1d6"/>
<rect x="158" y="370" width="15" height="5" fill="#dbf1d6"/>
<rect x="173" y="370" width="15" height="5" fill="#ceecc8"/>
<rect x="188" y="370" width="15" height="5" fill="#ceecc8"/>
<rect x="203" y="370" width="15" height="5" fill="#a4da9e"/>
<rect x="218" y="370" width="15" height="5" fill="#5db96b"/>
<rect x="233" y="370" width="14" height="5" fill="#2a924a"/>
<rect x="247" y="370" width="15" height="5" fill="#1a843f"/>
<rect x="262" y="370" width="15" height="5" fill="#127c39"/>
<rect x="277" y="370" width="15" height="5" fill="#006c2c"/>
<rect x="292" y="370" width="15" height="5" fill="#127c39"/>
<rect x="307" y="370" width="15" height="5" fill="#5db96b"/>
<rect x="322" y="370" width="15" height="5" fill="#ceecc8"/>
<rect x="337" y="370" width="15" height="5" fill="#ebf7e7"/>
<rect x="352" y="370" width="15" height="5" fill="#f1faee"/>
<rect x="367" y="370" width="15" height="5" fill="#f2faef"/>
<rect x="382" y="370" width="15" height="5" fill="#f2faef"/>
<rect x="397" y="370" width="15" height="5" fill="#f2faef"/>
<rect x="412" y="370" width="15" height="5" fill="#f2faef"/>
<rect x="427" y="370" width="15" height="5" fill="#f2faef"/>
<rect x="442" y="370" width="15" height="5" fill="#f2faef"/>
<rect x="457" y="370" width="15" height="5" fill="#f2faef"/>
<rect x="472" y="370" width="15" height="5" fill="#f2faef"/>
<rect x="487" y="370" width="15" height="5" fill="#eff9ec"/>
<rect x="502" y="370" width="15" height="5" fill="#e7f6e3"/>
<rect x="517" y="370" width="14" height="5" fill="#e7f6e3"/>
<rect x="531" y="370" width="15" height="5" fill="#eff9ec"/>
<rect x="546" y="370" width="15" height="5" fill="#eff9ec"/>
<rect x="561" y="370" width="15" height="5" fill="#ebf7e7"/>
<rect x="576" y="370" width="15" height="5" fill="#e1f3dc"/>
<rect x="591" y="370" width="15" height="5" fill="#e1f3dc"/>
<rect x="606" y="370" width="16" height="5" fill="#ebf7e7"/>
<rect x="84" y="375" width="14" height="5" fill="#dbf1d6"/>
<rect x="98" y="375" width="15" height="5" fill="#e3f4de"/>
<rect x="113" y="375" width="15" height="5" fill="#dbf1d6"/>
<rect x="128" y="375" width="15" height="5" fill="#d6efd0"/>
<rect x="143" y="375" width="15" height="5" fill="#dbf1d6"/>
<rect x="158" y="375" width="15" height="5" fill="#dbf1d6"/>
<rect x="173" y="375" width="15" height="5" fill="#d3eecd"/>
<rect x="188" y="375" width="15" height="5" fill="#bee5b8"/>
<rect x="203" y="375" width="15" height="5" fill="#88ce87"/>
<rect x="218" y="375" width="15" height="5" fill="#46ae60"/>
<rect x="233" y="375" width="14" height="5" fill="#2a924a"/>
<rect x="247" y="375" width="15" height="5" fill="#1a843f"/>
<rect x="262" y="375" width="15" height="5" fill="#127c39"/>
<rect x="277" y="375" width="15" height="5" fill="#05712f"/>
<rect x="292" y="375" width="15" height="5" fill="#2f974e"/>
<rect x="307" y="375" width="15" height="5" fill="#7cc87c"/>
<rect x="322" y="375" width="15" height="5" fill="#d3eecd"/>
<rect x="337" y="375" width="15" height="5" fill="#ebf7e7"/>
<rect x="352" y="375" width="15" height="5" fill="#f1faee"/>
<rect x="367" y="375" width="15" height="5" fill="#f2faef"/>
<rect x="382" y="375" width="15" height="5" fill="#f2faef"/>
<rect x="397" y="375" width="15" height="5" fill="#f2faef"/>
<rect x="412" y="375" width="15" height="5" fill="#f2faef"/>
<rect x="427" y="375" width="15" height="5" fill="#f2faef"/>
<rect x="442" y="375" width="15" height="5" fill="#f2faef"/>
<rect x="457" y="375" width="15" height="5" fill="#f2faef"/>
<rect x="472" y="375" width="15" height="5" fill="#f2faef"/>
<rect x="487" y="375" width="15" height="5" fill="#eff9ec"/>
<rect x="502" y="375" width="15" height="5" fill="#e7f6e3"/>
<rect x="517" y="375" width="14" height="5" fill="#e7f6e3"/>
<rect x="531" y="375" width="15" height="5" fill="#eff9ec"/>
<rect x="546" y="375" width="15" height="5" fill="#eff9ec"/>
<rect x="561" y="375" width="15" height="5" fill="#ebf7e7"/>
<rect x="576" y="375" width="15" height="5" fill="#e1f3dc"/>
<rect x="591" y="375" width="15" height="5" fill="#e1f3dc"/>
<rect x="606" y="375" width="16" height="5" fill="#ebf7e7"/>
<rect x="84" y="380" width="14" height="5" fill="#e1f3dc"/>
<rect x="98" y="380" width="15" height="5" fill="#e3f4de"/>
<rect x="113" y="380" width="15" height="5" fill="#dbf1d6"/>
<rect x="128" y="380" width="15" height="5" fill="#d6efd0"/>
<rect x="143" y="380" width="15" height="5" fill="#dbf1d6"/>
<rect x="158" y="380" width="15" height="5" fill="#e1f3dc"/>
<rect x="173" y="380" width="15" height="5" fill="#d3eecd"/>
<rect x="188" y="380" width="15" height="5" fill="#bee5b8"/>
<rect x="203" y="380" width="15" height="5" fill="#88ce87"/>
<rect x="218" y="380" width="15" height="5" fill="#46ae60"/>
<rect x="233" y="380" width="14" height="5" fill="#37a055"/>
<rect x="247" y="380" width="15" height="5" fill="#2f974e"/>
<rect x="262" y="380" width="15" height="5" fill="#319a50"/>
<rect x="277" y="380" width="15" height="5" fill="#2f974e"/>
<rect x="292" y="380" width="15" height="5" fill="#5db96b"/>
<rect x="307" y="380" width="15" height="5" fill="#aedea7"/>
<rect x="322" y="380" width="15" height="5" fill="#e1f3dc"/>
<rect x="337" y="380" width="15" height="5" fill="#ebf7e7"/>
<rect x="352" y="380" width="15" height="5" fill="#f1faee"/>
<rect x="367" y="380" width="15" height="5" fill="#f2faef"/>
<rect x="382" y="380" width="15" height="5" fill="#f2faef"/>
<rect x="397" y="380" width="15" height="5" fill="#f2faef"/>
<rect x="412" y="380" width="15" height="5" fill="#f2faef"/>
<rect x="427" y="380" width="15" height="5" fill="#f2faef"/>
<rect x="442" y="380" width="15" height="5" fill="#f2faef"/>
<rect x="457" y="380" width="15" height="5" fill="#f2faef"/>
<rect x="472" y="380" width="15" height="5" fill="#f2faef"/>
<rect x="487" y="380" width="15" height="5" fill="#eff9ec"/>
<rect x="502" y="380" width="15" height="5" fill="#e7f6e3"/>
<rect x="517" y="380" width="14" height="5" fill="#e7f6e3"/>
<rect x="531" y="380" width="15" height="5" fill="#ebf7e7"/>
<rect x="546" y="380" width="15" height="5" fill="#ebf7e7"/>
<rect x="561" y="380" width="15" height="5" fill="#ebf7e7"/>
<rect x="576" y="380" width="15" height="5" fill="#ebf7e7"/>
<rect x="591" y="380" width="15" height="5" fill="#eff9ec"/>
<rect x="606" y="380" width="16" height="5" fill="#ebf7e7"/>
<rect x="84" y="385" width="14" height="5" fill="#e1f3dc"/>
<rect x="98" y="385" width="15" height="5" fill="#e3f4de"/>
<rect x="113" y="385" width="15" height="5" fill="#e1f3dc"/>
<rect x="128" y="385" width="15" height="5" fill="#e1f3dc"/>
<rect x="143" y="385" width="15" height="5" fill="#dbf1d6"/>
<rect x="158" y="385" width="15" height="5" fill="#e1f3dc"/>
<rect x="173" y="385" width="15" height="5" fill="#dbf1d6"/>
<rect x="188" y="385" width="15" height="5" fill="#bee5b8"/>
<rect x="203" y="385" width="15" height="5" fill="#88ce87"/>
<rect x="218" y="385" width="15" height="5" fill="#5db96b"/>
<rect x="233" y="385" width="14" height="5" fill="#5db96b"/>
<rect x="247" y="385" width="15" height="5" fill="#5db96b"/>
<rect x="262" y="385" width="15" height="5" fill="#5db96b"/>
<rect x="277" y="385" width="15" height="5" fill="#73c476"/>
<rect x="292" y="385" width="15" height="5" fill="#aedea7"/>
<rect x="307" y="385" width="15" height="5" fill="#d3eecd"/>
<rect x="322" y="385" width="15" height="5" fill="#e7f6e3"/>
<rect x="337" y="385" width="15" height="5" fill="#eff9ec"/>
<rect x="352" y="385" width="15" height="5" fill="#f1faee"/>
<rect x="367" y="385" width="15" height="5" fill="#f2faef"/>
<rect x="382" y="385" width="15" height="5" fill="#f2faef"/>
<rect x="397" y="385" width="15" height="5" fill="#f2faef"/>
<rect x="412" y="385" width="15" height="5" fill="#f2faef"/>
<rect x="427" y="385" width="15" height="5" fill="#f2faef"/>
<rect x="442" y="385" width="15" height="5" fill="#f2faef"/>
<rect x="457" y="385" width="15" height="5" fill="#f2faef"/>
<rect x="472" y="385" width="15" height="5" fill="#f2faef"/>
<rect x="487" y="385" width="15" height="5" fill="#eff9ec"/>
<rect x="502" y="385" width="15" height="5" fill="#eff9ec"/>
<rect x="517" y="385" width="14" height="5" fill="#e7f6e3"/>
<rect x="531" y="385" width="15" height="5" fill="#ebf7e7"/>
<rect x="546" y="385" width="15" height="5" fill="#ebf7e7"/>
<rect x="561" y="385" width="15" height="5" fill="#ebf7e7"/>
<rect x="576" y="385" width="15" height="5" fill="#ebf7e7"/>
<rect x="591" y="385" width="15" height="5" fill="#eff9ec"/>
<rect x="606" y="385" width="16" height="5" fill="#ebf7e7"/>
<rect x="84" y="390" width="14" height="5" fill="#e1f3dc"/>
<rect x="98" y="390" width="15" height="5" fill="#e3f4de"/>
<rect x="113" y="390" width="15" height="5" fill="#e3f4de"/>
<rect x="128" y="390" width="15" height="5" fill="#e3f4de"/>
<rect x="143" y="390" width="15" height="5" fill="#e7f6e3"/>
<rect x="158" y="390" width="15" height="5" fill="#e3f4de"/>
<rect x="173" y="390" width="15" height="5" fill="#e1f3dc"/>
<rect x="188" y="390" width="15" height="5" fill="#bee5b8"/>
<rect x="203" y="390" width="15" height="5" fill="#90d18d"/>
<rect x="218" y="390" width="15" height="5" fill="#88ce87"/>
<rect x="233" y="390" width="14" height="5" fill="#88ce87"/>
<rect x="247" y="390" width="15" height="5" fill="#88ce87"/>
<rect x="262" y="390" width="15" height="5" fill="#9cd797"/>
<rect x="277" y="390" width="15" height="5" fill="#c9eac2"/>
<rect x="292" y="390" width="15" height="5" fill="#e7f6e3"/>
<rect x="307" y="390" width="15" height="5" fill="#eff9ec"/>
<rect x="322" y="390" width="15" height="5" fill="#eff9ec"/>
<rect x="337" y="390" width="15" height="5" fill="#eff9ec"/>
<rect x="352" y="390" width="15" height="5" fill="#f1faee"/>
<rect x="367" y="390" width="15" height="5" fill="#f2faef"/>
<rect x="382" y="390" width="15" height="5" fill="#f2faef"/>
<rect x="397" y="390" width="15" height="5" fill="#f2faef"/>
<rect x="412" y="390" width="15" height="5" fill="#f2faef"/>
<rect x="427" y="390" width="15" height="5" fill="#f2faef"/>
<rect x="442" y="390" width="15" height="5" fill="#f2faef"/>
<rect x="457" y="390" width="15" height="5" fill="#f2faef"/>
<rect x="472" y="390" width="15" height="5" fill="#f2faef"/>
<rect x="487" y="390" width="15" height="5" fill="#eff9ec"/>
<rect x="502" y="390" width="15" height="5" fill="#eff9ec"/>
<rect x="517" y="390" width="14" height="5" fill="#eff9ec"/>
<rect x="531" y="390" width="15" height="5" fill="#ebf7e7"/>
<rect x="546" y="390" width="15" height="5" fill="#ebf7e7"/>
<rect x="561" y="390" width="15" height="5" fill="#ebf7e7"/>
<rect x="576" y="390" width="15" height="5" fill="#ebf7e7"/>
<rect x="591" y="390" width="15" height="5" fill="#eff9ec"/>
<rect x="606" y="390" width="16" height="5" fill="#ebf7e7"/>
<rect x="84" y="395" width="14" height="5" fill="#e1f3dc"/>
<rect x="98" y="395" width="15" height="5" fill="#e1f3dc"/>
<rect x="113" y="395" width="15" height="5" fill="#e3f4de"/>
<rect x="128" y="395" width="15" height="5" fill="#e3f4de"/>
<rect x="143" y="395" width="15" height="5" fill="#e7f6e3"/>
<rect x="158" y="395" width="15" height="5" fill="#e3f4de"/>
<rect x="173" y="395" width="15" height="5" fill="#dbf1d6"/>
<rect x="188" y="395" width="15" height="5" fill="#c6e8bf"/>
<rect x="203" y="395" width="15" height="5" fill="#aedea7"/>
<rect x="218" y="395" width="15" height="5" fill="#a4da9e"/>
<rect x="233" y="395" width="14" height="5" fill="#a4da9e"/>
<rect x="247" y="395" width="15" height="5" fill="#9cd797"/>
<rect x="262" y="395" width="15" height="5" fill="#aedea7"/>
<rect x="277" y="395" width="15" height="5" fill="#d3eecd"/>
<rect x="292" y="395" width="15" height="5" fill="#ebf7e7"/>
<rect x="307" y="395" width="15" height="5" fill="#f2faf0"/>
<rect x="322" y="395" width="15" height="5" fill="#f2faf0"/>
<rect x="337" y="395" width="15" height="5" fill="#f2faf0"/>
<rect x="352" y="395" width="15" height="5" fill="#f1faee"/>
<rect x="367" y="395" width="15" height="5" fill="#f2faef"/>
<rect x="382" y="395" width="15" height="5" fill="#f2faef"/>
<rect x="397" y="395" width="15" height="5" fill="#f2faef"/>
<rect x="412" y="395" width="15" height="5" fill="#f2faef"/>
<rect x="427" y="395" width="15" height="5" fill="#f2faef"/>
<rect x="442" y="395" width="15" height="5" fill="#f2faef"/>
<rect x="457" y="395" width="15" height="5" fill="#f2faef"/>
<rect x="472" y="395" width="15" height="5" fill="#f2faef"/>
<rect x="487" y="395" width="15" height="5" fill="#eff9ec"/>
<rect x="502" y="395" width="15" height="5" fill="#eff9ec"/>
<rect x="517" y="395" width="14" height="5" fill="#eff9ec"/>
<rect x="531" y="395" width="15" height="5" fill="#ebf7e7"/>
<rect x="546" y="395" width="15" height="5" fill="#ebf7e7"/>
<rect x="561" y="395" width="15" height="5" fill="#ebf7e7"/>
<rect x="576" y="395" width="15" height="5" fill="#ebf7e7"/>
<rect x="591" y="395" width="15" height="5" fill="#eff9ec"/>
<rect x="606" y="395" width="16" height="5" fill="#ebf7e7"/>
<rect x="84" y="400" width="14" height="5" fill="#dbf1d6"/>
<rect x="98" y="400" width="15" height="5" fill="#dbf1d6"/>
<rect x="113" y="400" width="15" height="5" fill="#dbf1d6"/>
<rect x="128" y="400" width="15" height="5" fill="#e1f3dc"/>
<rect x="143" y="400" width="15" height="5" fill="#e1f3dc"/>
<rect x="158" y="400" width="15" height="5" fill="#dbf1d6"/>
<rect x="173" y="400" width="15" height="5" fill="#d3eecd"/>
<rect x="188" y="400" width="15" height="5" fill="#c6e8bf"/>
<rect x="203" y="400" width="15" height="5" fill="#b5e1ae"/>
<rect x="218" y="400" width="15" height="5" fill="#b5e1ae"/>
<rect x="233" y="400" width="14" height="5" fill="#b5e1ae"/>
<rect x="247" y="400" width="15" height="5" fill="#aedea7"/>
<rect x="262" y="400" width="15" height="5" fill="#bee5b8"/>
<rect x="277" y="400" width="15" height="5" fill="#d3eecd"/>
<rect x="292" y="400" width="15" height="5" fill="#ebf7e7"/>
<rect x="307" y="400" width="15" height="5" fill="#f2faf0"/>
<rect x="322" y="400" width="15" height="5" fill="#f2faf0"/>
<rect x="337" y="400" width="15" height="5" fill="#f2faf0"/>
<rect x="352" y="400" width="15" height="5" fill="#f1faee"/>
<rect x="367" y="400" width="15" height="5" fill="#f2faef"/>
<rect x="382" y="400" width="15" height="5" fill="#f2faef"/>
<rect x="397" y="400" width="15" height="5" fill="#f2faef"/>
<rect x="412" y="400" width="15" height="5" fill="#f2faef"/>
<rect x="427" y="400" width="15" height="5" fill="#f2faef"/>
<rect x="442" y="400" width="15" height="5" fill="#f2faef"/>
<rect x="457" y="400" width="15" height="5" fill="#f2faef"/>
<rect x="472" y="400" width="15" height="5" fill="#f2faef"/>
<rect x="487" y="400" width="15" height="5" fill="#eff9ec"/>
<rect x="502" y="400" width="15" height="5" fill="#eff9ec"/>
<rect x="517" y="400" width="14" height="5" fill="#eff9ec"/>
<rect x="531" y="400" width="15" height="5" fill="#ebf7e7"/>
<rect x="546" y="400" width="15" height="5" fill="#e7f6e3"/>
<rect x="561" y="400" width="15" height="5" fill="#e7f6e3"/>
<rect x="576" y="400" width="15" height="5" fill="#ebf7e7"/>
<rect x="591" y="400" width="15" height="5" fill="#eff9ec"/>
<rect x="606" y="400" width="16" height="5" fill="#ebf7e7"/>
<rect x="84" y="405" width="14" height="5" fill="#dbf1d6"/>
<rect x="98" y="405" width="15" height="5" fill="#dbf1d6"/>
<rect x="113" y="405" width="15" height="5" fill="#dbf1d6"/>
<rect x="128" y="405" width="15" height="5" fill="#dbf1d6"/>
<rect x="143" y="405" width="15" height="5" fill="#dbf1d6"/>
<rect x="158" y="405" width="15" height="5" fill="#d3eecd"/>
<rect x="173" y="405" width="15" height="5" fill="#ceecc8"/>
<rect x="188" y="405" width="15" height="5" fill="#c9eac2"/>
<rect x="203" y="405" width="15" height="5" fill="#c6e8bf"/>
<rect x="218" y="405" width="15" height="5" fill="#c6e8bf"/>
<rect x="233" y="405" width="14" height="5" fill="#c6e8bf"/>
<rect x="247" y="405" width="15" height="5" fill="#bee5b8"/>
<rect x="262" y="405" width="15" height="5" fill="#c6e8bf"/>
<rect x="277" y="405" width="15" height="5" fill="#d3eecd"/>
<rect x="292" y="405" width="15" height="5" fill="#ebf7e7"/>
<rect x="307" y="405" width="15" height="5" fill="#eff9ec"/>
<rect x="322" y="405" width="15" height="5" fill="#f2faf0"/>
<rect x="337" y="405" width="15" height="5" fill="#f2faf0"/>
<rect x="352" y="405" width="15" height="5" fill="#f1faee"/>
<rect x="367" y="405" width="15" height="5" fill="#f2faef"/>
<rect x="382" y="405" width="15" height="5" fill="#f2faef"/>
<rect x="397" y="405" width="15" height="5" fill="#f2faef"/>
<rect x="412" y="405" width="15" height="5" fill="#f2faef"/>
<rect x="427" y="405" width="15" height="5" fill="#f2faef"/>
<rect x="442" y="405" width="15" height="5" fill="#f2faef"/>
<rect x="457" y="405" width="15" height="5" fill="#f2faef"/>
<rect x="472" y="405" width="15" height="5" fill="#f2faef"/>
<rect x="487" y="405" width="15" height="5" fill="#eff9ec"/>
<rect x="502" y="405" width="15" height="5" fill="#eff9ec"/>
<rect x="517" y="405" width="14" height="5" fill="#eff9ec"/>
<rect x="531" y="405" width="15" height="5" fill="#ebf7e7"/>
<rect x="546" y="405" width="15" height="5" fill="#e7f6e3"/>
<rect x="561" y="405" width="15" height="5" fill="#e7f6e3"/>
<rect x="576" y="405" width="15" height="5" fill="#ebf7e7"/>
<rect x="591" y="405" width="15" height="5" fill="#eff9ec"/>
<rect x="606" y="405" width="16" height="5" fill="#ebf7e7"/>
<rect x="84" y="410" width="14" height="4" fill="#e1f3dc"/>
<rect x="98" y="410" width="15" height="4" fill="#e3f4de"/>
<rect x="113" y="410" width="15" height="4" fill="#dbf1d6"/>
<rect x="128" y="410" width="15" height="4" fill="#dbf1d6"/>
<rect x="143" y="410" width="15" height="4" fill="#dbf1d6"/>
<rect x="158" y="410" width="15" height="4" fill="#dbf1d6"/>
<rect x="173" y="410" width="15" height="4" fill="#ceecc8"/>
<rect x="188" y="410" width="15" height="4" fill="#ceecc8"/>
<rect x="203" y="410" width="15" height="4" fill="#ceecc8"/>
<rect x="218" y="410" width="15" height="4" fill="#d3eecd"/>
<rect x="233" y="410" width="14" height="4" fill="#d3eecd"/>
<rect x="247" y="410" width="15" height="4" fill="#ceecc8"/>
<rect x="262" y="410" width="15" height="4" fill="#ceecc8"/>
<rect x="277" y="410" width="15" height="4" fill="#d3eecd"/>
<rect x="292" y="410" width="15" height="4" fill="#ebf7e7"/>
<rect x="307" y="410" width="15" height="4" fill="#eff9ec"/>
<rect x="322" y="410" width="15" height="4" fill="#f2faf0"/>
<rect x="337" y="410" width="15" height="4" fill="#f2faf0"/>
<rect x="352" y="410" width="15" height="4" fill="#f1faee"/>
<rect x="367" y="410" width="15" height="4" fill="#f2faef"/>
<rect x="382" y="410" width="15" height="4" fill="#f2faef"/>
<rect x="397" y="410" width="15" height="4" fill="#f2faef"/>
<rect x="412" y="410" width="15" height="4" fill="#f2faef"/>
<rect x="427" y="410" width="15" height="4" fill="#f2faef"/>
<rect x="442" y="410" width="15" height="4" fill="#f2faef"/>
<rect x="457" y="410" width="15" height="4" fill="#f2faef"/>
<rect x="472" y="410" width="15" height="4" fill="#f2faef"/>
<rect x="487" y="410" width="15" height="4" fill="#eff9ec"/>
<rect x="502" y="410" width="15" height="4" fill="#eff9ec"/>
<rect x="517" y="410" width="14" height="4" fill="#eff9ec"/>
<rect x="531" y="410" width="15" height="4" fill="#ebf7e7"/>
<rect x="546" y="410" width="15" height="4" fill="#e7f6e3"/>
<rect x="561" y="410" width="15" height="4" fill="#e7f6e3"/>
<rect x="576" y="410" width="15" height="4" fill="#ebf7e7"/>
<rect x="591" y="410" width="15" height="4" fill="#eff9ec"/>
<rect x="606" y="410" width="16" height="4" fill="#ebf7e7"/></g>
<g><circle cx="91.50" cy="127.50" r="2.8" fill="#0000ff"/>
<circle cx="91.50" cy="280.50" r="2.8" fill="#000"/>
<circle cx="106.50" cy="127.50" r="2.8" fill="#0000ff"/>
<circle cx="106.50" cy="275.50" r="2.8" fill="#000"/>
<circle cx="121.50" cy="127.50" r="2.8" fill="#0000ff"/>
<circle cx="121.50" cy="280.50" r="2.8" fill="#000"/>
<circle cx="136.50" cy="127.50" r="2.8" fill="#0000ff"/>
<circle cx="136.50" cy="280.50" r="2.8" fill="#000"/>
<circle cx="151.50" cy="122.50" r="2.8" fill="#0000ff"/>
<circle cx="151.50" cy="280.50" r="2.8" fill="#000"/>
<circle cx="166.50" cy="122.50" r="2.8" fill="#0000ff"/>
<circle cx="166.50" cy="280.50" r="2.8" fill="#000"/>
<circle cx="181.50" cy="117.50" r="2.8" fill="#0000ff"/>
<circle cx="181.50" cy="280.50" r="2.8" fill="#000"/>
<circle cx="196.50" cy="112.50" r="2.8" fill="#0000ff"/>
<circle cx="196.50" cy="275.50" r="2.8" fill="#000"/>
<circle cx="211.50" cy="112.50" r="2.8" fill="#0000ff"/>
<circle cx="211.50" cy="275.50" r="2.8" fill="#000"/>
<circle cx="225.50" cy="107.50" r="2.8" fill="#0000ff"/>
<circle cx="225.50" cy="275.50" r="2.8" fill="#000"/>
<circle cx="240.50" cy="107.50" r="2.8" fill="#0000ff"/>
<circle cx="240.50" cy="280.50" r="2.8" fill="#000"/>
<circle cx="255.50" cy="112.50" r="2.8" fill="#0000ff"/>
<circle cx="255.50" cy="285.50" r="2.8" fill="#000"/>
<circle cx="270.50" cy="112.50" r="2.8" fill="#0000ff"/>
<circle cx="285.50" cy="117.50" r="2.8" fill="#0000ff"/>
<circle cx="300.50" cy="142.50" r="2.8" fill="#0000ff"/>
<circle cx="315.50" cy="142.50" r="2.8" fill="#0000ff"/>
<circle cx="330.50" cy="142.50" r="2.8" fill="#0000ff"/>
<circle cx="345.50" cy="142.50" r="2.8" fill="#0000ff"/>
<circle cx="345.50" cy="280.50" r="2.8" fill="#000"/>
<circle cx="360.50" cy="142.50" r="2.8" fill="#0000ff"/>
<circle cx="360.50" cy="275.50" r="2.8" fill="#000"/>
<circle cx="375.50" cy="137.50" r="2.8" fill="#0000ff"/>
<circle cx="375.50" cy="275.50" r="2.8" fill="#000"/>
<circle cx="390.50" cy="132.50" r="2.8" fill="#0000ff"/>
<circle cx="390.50" cy="275.50" r="2.8" fill="#000"/>
<circle cx="405.50" cy="127.50" r="2.8" fill="#0000ff"/>
<circle cx="405.50" cy="275.50" r="2.8" fill="#000"/>
<circle cx="420.50" cy="127.50" r="2.8" fill="#0000ff"/>
<circle cx="420.50" cy="270.50" r="2.8" fill="#000"/>
<circle cx="435.50" cy="127.50" r="2.8" fill="#0000ff"/>
<circle cx="435.50" cy="270.50" r="2.8" fill="#000"/>
<circle cx="450.50" cy="127.50" r="2.8" fill="#0000ff"/>
<circle cx="450.50" cy="275.50" r="2.8" fill="#000"/>
<circle cx="465.50" cy="127.50" r="2.8" fill="#0000ff"/>
<circle cx="465.50" cy="275.50" r="2.8" fill="#000"/>
<circle cx="479.50" cy="127.50" r="2.8" fill="#0000ff"/>
<circle cx="479.50" cy="275.50" r="2.8" fill="#000"/>
<circle cx="494.50" cy="127.50" r="2.8" fill="#0000ff"/>
<circle cx="494.50" cy="270.50" r="2.8" fill="#000"/>
<circle cx="509.50" cy="132.50" r="2.8" fill="#0000ff"/>
<circle cx="509.50" cy="270.50" r="2.8" fill="#000"/>
<circle cx="524.50" cy="132.50" r="2.8" fill="#0000ff"/>
<circle cx="524.50" cy="275.50" r="2.8" fill="#000"/>
<circle cx="539.50" cy="137.50" r="2.8" fill="#0000ff"/>
<circle cx="539.50" cy="275.50" r="2.8" fill="#000"/>
<circle cx="554.50" cy="142.50" r="2.8" fill="#0000ff"/>
<circle cx="554.50" cy="280.50" r="2.8" fill="#000"/>
<circle cx="569.50" cy="142.50" r="2.8" fill="#0000ff"/>
<circle cx="569.50" cy="280.50" r="2.8" fill="#000"/>
<circle cx="584.50" cy="137.50" r="2.8" fill="#0000ff"/>
<circle cx="584.50" cy="275.50" r="2.8" fill="#000"/>
<circle cx="599.50" cy="137.50" r="2.8" fill="#0000ff"/>
<circle cx="599.50" cy="275.50" r="2.8" fill="#000"/>
<circle cx="614.50" cy="132.50" r="2.8" fill="#0000ff"/>
<circle cx="614.50" cy="280.50" r="2.8" fill="#000"/></g>
<g><path d="M270.50 286.50L266.50 294.50L274.50 294.50Z" fill="#000" stroke="#000" stroke-width="1.1" stroke-linejoin="round"/>
<path d="M285.50 286.50L281.50 294.50L289.50 294.50Z" fill="#000" stroke="#000" stroke-width="1.1" stroke-linejoin="round"/>
<path d="M300.50 286.50L296.50 294.50L304.50 294.50Z" fill="#000" stroke="#000" stroke-width="1.1" stroke-linejoin="round"/>
<path d="M315.50 286.50L311.50 294.50L319.50 294.50Z" fill="#000" stroke="#000" stroke-width="1.1" stroke-linejoin="round"/>
<path d="M330.50 286.50L326.50 294.50L334.50 294.50Z" fill="#000" stroke="#000" stroke-width="1.1" stroke-linejoin="round"/></g>
<g fill="#000" shape-rendering="crispEdges"><rect x="84" y="415" width="1" height="5"/>
<rect x="159" y="415" width="1" height="5"/>
<rect x="234" y="415" width="1" height="5"/>
<rect x="308" y="415" width="1" height="5"/>
<rect x="383" y="415" width="1" height="5"/>
<rect x="458" y="415" width="1" height="5"/>
<rect x="533" y="415" width="1" height="5"/>
<rect x="607" y="415" width="1" height="5"/>
<rect x="79" y="411" width="5" height="1"/>
<rect x="79" y="362" width="5" height="1"/>
<rect x="79" y="313" width="5" height="1"/>
<rect x="79" y="263" width="5" height="1"/>
<rect x="79" y="214" width="5" height="1"/>
<rect x="79" y="164" width="5" height="1"/>
<rect x="79" y="115" width="5" height="1"/>
<rect x="79" y="65" width="5" height="1"/>
<rect x="84" y="18" width="1" height="397"/>
<rect x="622" y="18" width="1" height="397"/>
<rect x="84" y="18" width="539" height="1"/>
<rect x="84" y="414" width="539" height="1"/></g>
</svg>
<svg class="ov" width="640" height="480" viewBox="0 0 640 480">
<g><text x="200" y="150" transform="matrix(1.1818 0 0 1.0000 -191.545 267.000)" style="font-size:13.9px">−80</text>
<text x="200" y="150" transform="matrix(1.1818 0 0 1.0000 -191.545 218.000)" style="font-size:13.9px">−60</text>
<text x="200" y="150" transform="matrix(1.1818 0 0 1.0000 -190.545 168.000)" style="font-size:13.9px">−40</text>
<text x="200" y="150" transform="matrix(1.1818 0 0 1.0000 -190.545 119.000)" style="font-size:13.9px">−20</text>
<text x="200" y="150" transform="matrix(1.0000 0 0 1.0000 -133.000 69.000)" style="font-size:13.9px">0</text>
<text x="200" y="150" transform="matrix(1.1429 0 0 1.0000 -171.714 20.000)" style="font-size:13.9px">20</text>
<text x="200" y="150" transform="matrix(1.0000 0 0 1.0000 -142.000 -30.000)" style="font-size:13.9px">40</text>
<text x="200" y="150" transform="matrix(1.1429 0 0 1.0000 -171.714 -79.000)" style="font-size:13.9px">60</text>
<text x="200" y="150" transform="matrix(1.0000 0 0 1.0000 -119.000 285.000)" style="font-size:13.9px">0</text>
<text x="200" y="150" transform="matrix(1.0714 0 0 1.0000 -64.357 285.000)" style="font-size:13.9px">50</text>
<text x="200" y="150" transform="matrix(1.0455 0 0 1.0000 12.864 285.000)" style="font-size:13.9px">100</text>
<text x="200" y="150" transform="matrix(1.0455 0 0 1.0000 87.864 285.000)" style="font-size:13.9px">150</text>
<text x="200" y="150" transform="matrix(1.0909 0 0 1.0000 151.727 285.000)" style="font-size:13.9px">200</text>
<text x="200" y="150" transform="matrix(1.0909 0 0 1.0000 226.727 285.000)" style="font-size:13.9px">250</text>
<text x="200" y="150" transform="matrix(1.0455 0 0 1.0000 310.864 285.000)" style="font-size:13.9px">300</text>
<text x="200" y="150" transform="matrix(1.0455 0 0 1.0000 384.864 285.000)" style="font-size:13.9px">350</text>
<text x="200" y="150" transform="matrix(1.0270 0 0 1.0588 109.595 299.941)" style="font-size:17.5px;font-style:italic">slice, deg</text>
<text x="200" y="150" transform="matrix(1.0000 0 0 0.9310 -167.000 91.345) rotate(-90 200 150)" style="font-size:17.5px;font-style:italic">z, Å</text></g>
</svg></body></html>
